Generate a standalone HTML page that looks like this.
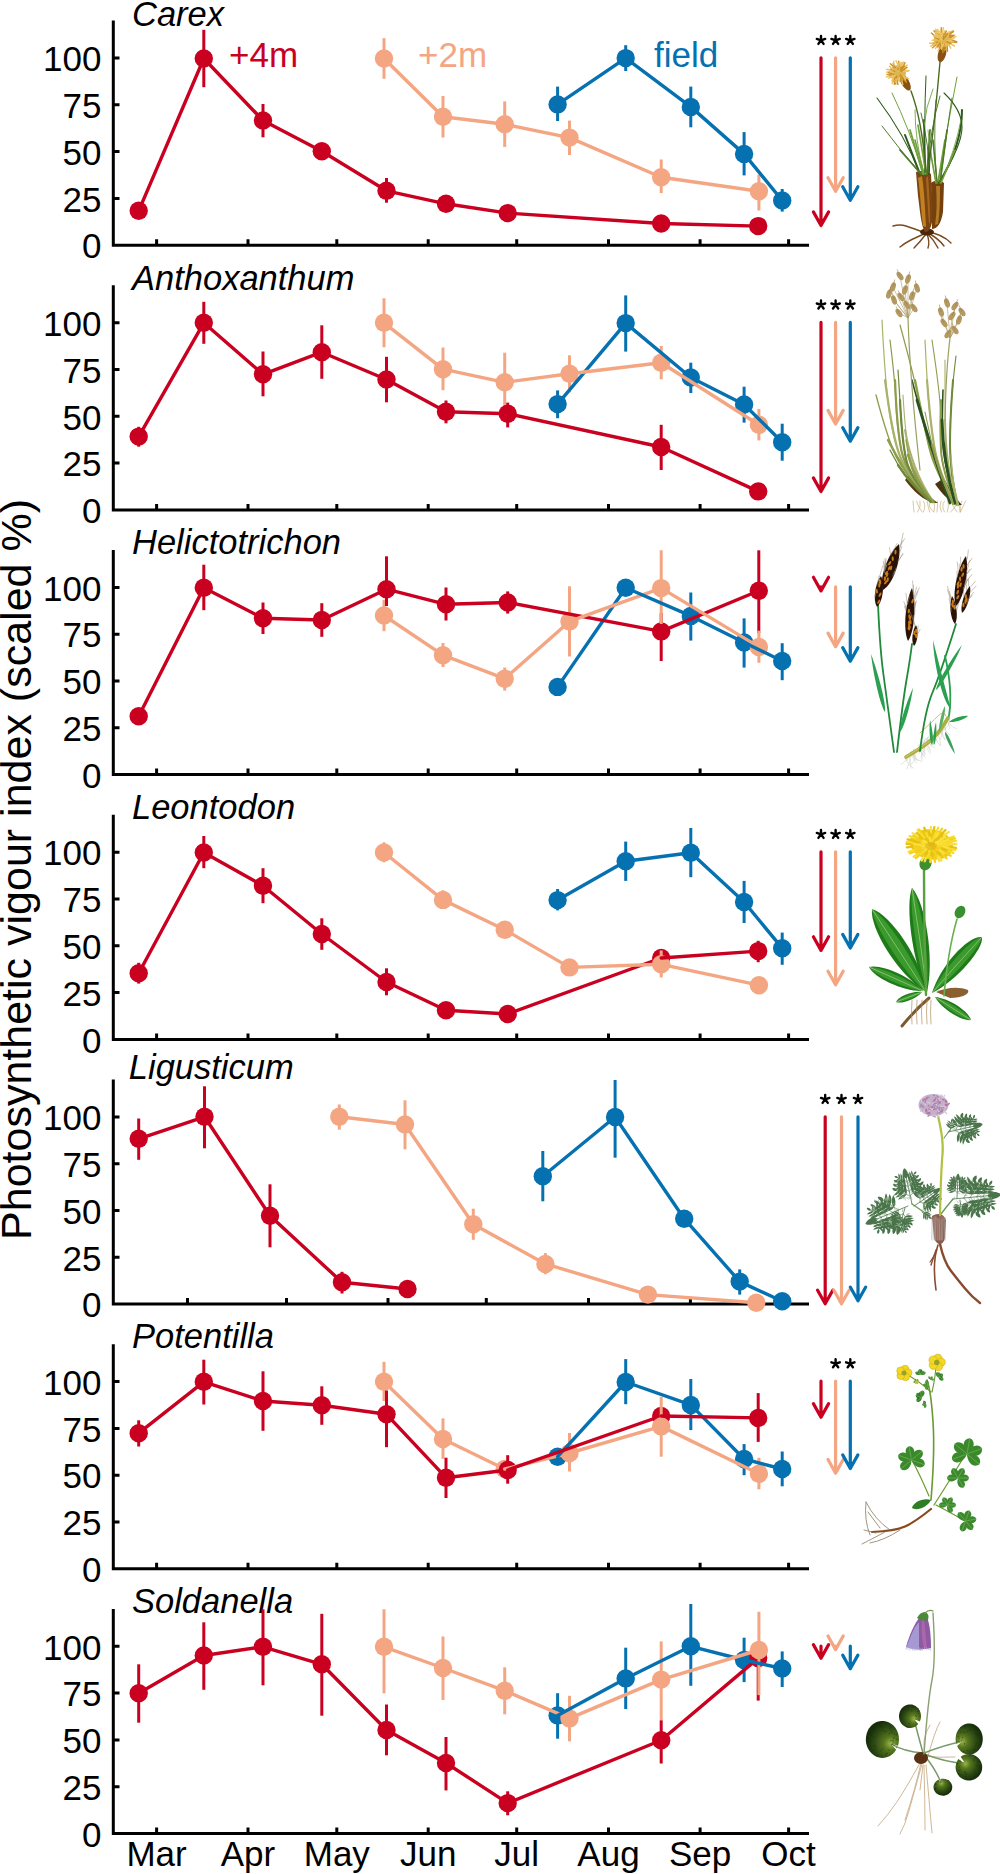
<!DOCTYPE html>
<html><head><meta charset="utf-8"><style>
html,body{margin:0;padding:0;background:#fff;}
svg{display:block;}
text{font-family:"Liberation Sans",sans-serif;}
.tl{font-size:35px;}
.tt{font-size:34.5px;font-style:italic;}
.yl{font-size:43px;}
</style></head><body>
<svg width="1000" height="1874" viewBox="0 0 1000 1874">
<rect width="1000" height="1874" fill="#fff"/>
<defs><radialGradient id="sg1" gradientUnits="userSpaceOnUse" cx="890.6" cy="1743.6" r="23.1"><stop offset="0" stop-color="#9ab448"/><stop offset="0.3" stop-color="#56761e"/><stop offset="0.7" stop-color="#2e4a14"/><stop offset="1" stop-color="#18300a"/></radialGradient><radialGradient id="sg2" gradientUnits="userSpaceOnUse" cx="914" cy="1718.9" r="14.8"><stop offset="0" stop-color="#9ab448"/><stop offset="0.3" stop-color="#56761e"/><stop offset="0.7" stop-color="#2e4a14"/><stop offset="1" stop-color="#18300a"/></radialGradient><radialGradient id="sg3" gradientUnits="userSpaceOnUse" cx="962" cy="1741.6" r="19.5"><stop offset="0" stop-color="#9ab448"/><stop offset="0.3" stop-color="#56761e"/><stop offset="0.7" stop-color="#2e4a14"/><stop offset="1" stop-color="#18300a"/></radialGradient><radialGradient id="sg4" gradientUnits="userSpaceOnUse" cx="965.3" cy="1763.7" r="16.6"><stop offset="0" stop-color="#9ab448"/><stop offset="0.3" stop-color="#56761e"/><stop offset="0.7" stop-color="#2e4a14"/><stop offset="1" stop-color="#18300a"/></radialGradient><radialGradient id="sg5" gradientUnits="userSpaceOnUse" cx="941.3" cy="1783.2" r="11.8"><stop offset="0" stop-color="#9ab448"/><stop offset="0.3" stop-color="#56761e"/><stop offset="0.7" stop-color="#2e4a14"/><stop offset="1" stop-color="#18300a"/></radialGradient></defs>
<path d="M926,233Q912,228 906,226Q900,224 893,226" fill="none" stroke="#7a4a1e" stroke-width="1.4" stroke-linecap="round"/>
<path d="M926,233Q915,238 910,240.5Q905,243 900,247" fill="none" stroke="#7a4a1e" stroke-width="1.4" stroke-linecap="round"/>
<path d="M926,234Q920,242 914,248" fill="none" stroke="#7a4a1e" stroke-width="1.4" stroke-linecap="round"/>
<path d="M927,234Q930,242 928,248" fill="none" stroke="#7a4a1e" stroke-width="1.4" stroke-linecap="round"/>
<path d="M928,233Q938,238 944,246" fill="none" stroke="#7a4a1e" stroke-width="1.4" stroke-linecap="round"/>
<path d="M928,232Q942,234 951,243" fill="none" stroke="#7a4a1e" stroke-width="1.4" stroke-linecap="round"/>
<path d="M927,233Q934,240 938,248" fill="none" stroke="#7a4a1e" stroke-width="1.4" stroke-linecap="round"/>
<ellipse cx="927" cy="232" rx="7" ry="3.5" fill="#4a260a"/>
<path d="M916,172 C920,170 927,171 931,174 L933,214 C932,226 930,232 925,232 C921,226 920,210 918,196 Z" fill="#7c4412"/>
<path d="M918,178 C920,190 921,210 923,226 L926,227 C925,205 924,190 922,176 Z" fill="#c88a24" opacity="0.9"/>
<path d="M926,178 C927,195 928,210 929,224 L930,222 C930,205 929,190 928,176 Z" fill="#b07020" opacity="0.8"/>
<path d="M931,183 C934,180 941,180 944,183 L943,212 C941,224 937,229 932,229 L932,200 Z" fill="#74400e"/>
<path d="M936,186 C937,200 937,212 935,225 L938,224 C940,212 940,198 940,186 Z" fill="#c08428" opacity="0.85"/>
<path d="M920,174Q905,135 877,98" fill="none" stroke="#2c5a1a" stroke-width="1.1" stroke-linecap="round"/>
<path d="M920,174L905,135" fill="none" stroke="#2c5a1a" stroke-width="2.0" stroke-linecap="round"/>
<path d="M921,174Q900,150 882,126" fill="none" stroke="#4f7a26" stroke-width="0.9900000000000001" stroke-linecap="round"/>
<path d="M921,174L900,150" fill="none" stroke="#4f7a26" stroke-width="1.8" stroke-linecap="round"/>
<path d="M923,174Q910,130 892,93" fill="none" stroke="#72a03c" stroke-width="0.9900000000000001" stroke-linecap="round"/>
<path d="M923,174L910,130" fill="none" stroke="#72a03c" stroke-width="1.8" stroke-linecap="round"/>
<path d="M925,174Q924,120 926,76" fill="none" stroke="#2c5a1a" stroke-width="0.9900000000000001" stroke-linecap="round"/>
<path d="M925,174L924,120" fill="none" stroke="#2c5a1a" stroke-width="1.8" stroke-linecap="round"/>
<path d="M926,174Q918,125 933,89" fill="none" stroke="#72a03c" stroke-width="0.8800000000000001" stroke-linecap="round"/>
<path d="M926,174L918,125" fill="none" stroke="#72a03c" stroke-width="1.6" stroke-linecap="round"/>
<path d="M927,174Q930,130 940,96" fill="none" stroke="#4f7a26" stroke-width="0.9900000000000001" stroke-linecap="round"/>
<path d="M927,174L930,130" fill="none" stroke="#4f7a26" stroke-width="1.8" stroke-linecap="round"/>
<path d="M929,174Q930,150 921,113" fill="none" stroke="#2c5a1a" stroke-width="0.8250000000000001" stroke-linecap="round"/>
<path d="M929,174L930,150" fill="none" stroke="#2c5a1a" stroke-width="1.5" stroke-linecap="round"/>
<path d="M924,174Q915,140 915,110" fill="none" stroke="#72a03c" stroke-width="0.8800000000000001" stroke-linecap="round"/>
<path d="M924,174L915,140" fill="none" stroke="#72a03c" stroke-width="1.6" stroke-linecap="round"/>
<path d="M938,183Q945,140 957,77" fill="none" stroke="#72a03c" stroke-width="0.9900000000000001" stroke-linecap="round"/>
<path d="M938,183L945,140" fill="none" stroke="#72a03c" stroke-width="1.8" stroke-linecap="round"/>
<path d="M939,183Q962,145 962,127.5Q962,110 944,93" fill="none" stroke="#2c5a1a" stroke-width="1.1" stroke-linecap="round"/>
<path d="M939,183Q962,145 962,110" fill="none" stroke="#2c5a1a" stroke-width="2.0" stroke-linecap="round"/>
<path d="M940,183Q947,130 952,98" fill="none" stroke="#4f7a26" stroke-width="0.935" stroke-linecap="round"/>
<path d="M940,183L947,130" fill="none" stroke="#4f7a26" stroke-width="1.7" stroke-linecap="round"/>
<path d="M941,183Q955,150 961,120" fill="none" stroke="#72a03c" stroke-width="0.8250000000000001" stroke-linecap="round"/>
<path d="M941,183L955,150" fill="none" stroke="#72a03c" stroke-width="1.5" stroke-linecap="round"/>
<path d="M937,183Q933,140 936,100" fill="none" stroke="#4f7a26" stroke-width="0.8800000000000001" stroke-linecap="round"/>
<path d="M937,183L933,140" fill="none" stroke="#4f7a26" stroke-width="1.6" stroke-linecap="round"/>
<path d="M936,183Q930,150 928,130" fill="none" stroke="#72a03c" stroke-width="0.8250000000000001" stroke-linecap="round"/>
<path d="M936,183L930,150" fill="none" stroke="#72a03c" stroke-width="1.5" stroke-linecap="round"/>
<path d="M928,172Q935,120 940,62" fill="none" stroke="#4a6a22" stroke-width="1.4" stroke-linecap="round"/>
<path d="M926,172Q922,120 911,91" fill="none" stroke="#4a6a22" stroke-width="1.4" stroke-linecap="round"/>
<ellipse cx="942" cy="54" rx="4" ry="8.5" fill="#8a5212" transform="rotate(15 942 54)"/>
<ellipse cx="905" cy="82" rx="4" ry="9.5" fill="#8a5212" transform="rotate(-30 905 82)"/>
<ellipse cx="943" cy="40" rx="9.5" ry="7.5" fill="#e0b450"/>
<ellipse cx="898" cy="73" rx="8" ry="8" fill="#e0b450"/>
<path d="M943.6,46.3l0.9,4.4" stroke="#c8902c" stroke-width="1.4" stroke-linecap="round"/>
<path d="M941.2,38.5l-4.3,-1.3" stroke="#c8902c" stroke-width="1.4" stroke-linecap="round"/>
<path d="M942.7,44.1l-2.4,3.8" stroke="#ecc462" stroke-width="1.4" stroke-linecap="round"/>
<path d="M946.6,35l2.8,-3.5" stroke="#ecc462" stroke-width="1.4" stroke-linecap="round"/>
<path d="M936.8,34.1l-2.9,-3.4" stroke="#c8902c" stroke-width="1.4" stroke-linecap="round"/>
<path d="M941.8,38.1l-1.1,-4.4" stroke="#ecc462" stroke-width="1.4" stroke-linecap="round"/>
<path d="M942.4,41.4l-2.9,3.5" stroke="#ecc462" stroke-width="1.4" stroke-linecap="round"/>
<path d="M941.2,32.2l0.1,-4.5" stroke="#c8902c" stroke-width="1.4" stroke-linecap="round"/>
<path d="M935.9,44.7l-3.4,3" stroke="#c8902c" stroke-width="1.4" stroke-linecap="round"/>
<path d="M945.3,38.2l1.9,-4.1" stroke="#ecc462" stroke-width="1.4" stroke-linecap="round"/>
<path d="M949.4,38.8l4.5,-0.4" stroke="#ecc462" stroke-width="1.4" stroke-linecap="round"/>
<path d="M936.8,39.8l-4.5,0.5" stroke="#ecc462" stroke-width="1.4" stroke-linecap="round"/>
<path d="M934.8,35.9l-3.4,-2.9" stroke="#c8902c" stroke-width="1.4" stroke-linecap="round"/>
<path d="M949.2,33.4l3.4,-3" stroke="#ecc462" stroke-width="1.4" stroke-linecap="round"/>
<path d="M949.3,33.6l4,-2" stroke="#ecc462" stroke-width="1.4" stroke-linecap="round"/>
<path d="M942,36.2l0.5,-4.5" stroke="#ecc462" stroke-width="1.4" stroke-linecap="round"/>
<path d="M942.5,42.1l-2.4,3.8" stroke="#c8902c" stroke-width="1.4" stroke-linecap="round"/>
<path d="M950.6,44l4,2" stroke="#ecc462" stroke-width="1.4" stroke-linecap="round"/>
<path d="M940.6,47.2l-2.7,3.6" stroke="#ecc462" stroke-width="1.4" stroke-linecap="round"/>
<path d="M941.4,38.8l-2.7,-3.6" stroke="#ecc462" stroke-width="1.4" stroke-linecap="round"/>
<path d="M950.3,34.3l3.3,-3" stroke="#c8902c" stroke-width="1.4" stroke-linecap="round"/>
<path d="M942,42.2l-2.1,4" stroke="#ecc462" stroke-width="1.4" stroke-linecap="round"/>
<path d="M945.1,45.1l1,4.4" stroke="#ecc462" stroke-width="1.4" stroke-linecap="round"/>
<path d="M952,42.1l4.5,0.4" stroke="#c8902c" stroke-width="1.4" stroke-linecap="round"/>
<path d="M947.9,36.8l3.5,-2.9" stroke="#ecc462" stroke-width="1.4" stroke-linecap="round"/>
<path d="M938.2,34.8l-2.6,-3.7" stroke="#c8902c" stroke-width="1.4" stroke-linecap="round"/>
<path d="M949.6,37.8l4.1,-1.9" stroke="#c8902c" stroke-width="1.4" stroke-linecap="round"/>
<path d="M943.4,44.6l-1.8,4.1" stroke="#ecc462" stroke-width="1.4" stroke-linecap="round"/>
<path d="M942,39.7l-4.4,-1" stroke="#ecc462" stroke-width="1.4" stroke-linecap="round"/>
<path d="M950.8,40.8l4.4,1.1" stroke="#ecc462" stroke-width="1.4" stroke-linecap="round"/>
<path d="M938.2,35.8l-2.5,-3.7" stroke="#ecc462" stroke-width="1.4" stroke-linecap="round"/>
<path d="M940.7,33l-3.1,-3.3" stroke="#ecc462" stroke-width="1.4" stroke-linecap="round"/>
<path d="M938.6,32.5l-2.9,-3.4" stroke="#ecc462" stroke-width="1.4" stroke-linecap="round"/>
<path d="M938.3,37.4l-4.1,-1.9" stroke="#ecc462" stroke-width="1.4" stroke-linecap="round"/>
<path d="M937.7,44.8l-2.3,3.8" stroke="#ecc462" stroke-width="1.4" stroke-linecap="round"/>
<path d="M943.2,38.6l0.9,-4.4" stroke="#c8902c" stroke-width="1.4" stroke-linecap="round"/>
<path d="M941.3,43.7l-2.8,3.5" stroke="#ecc462" stroke-width="1.4" stroke-linecap="round"/>
<path d="M945.5,45.2l0.9,4.4" stroke="#ecc462" stroke-width="1.4" stroke-linecap="round"/>
<path d="M940.5,44.4l-3.2,3.2" stroke="#ecc462" stroke-width="1.4" stroke-linecap="round"/>
<path d="M945.5,37.2l2.2,-3.9" stroke="#c8902c" stroke-width="1.4" stroke-linecap="round"/>
<path d="M948,36.2l2.4,-3.8" stroke="#ecc462" stroke-width="1.4" stroke-linecap="round"/>
<path d="M938.7,39.3l-4,-2.1" stroke="#c8902c" stroke-width="1.4" stroke-linecap="round"/>
<path d="M945.1,44.1l0.5,4.5" stroke="#c8902c" stroke-width="1.4" stroke-linecap="round"/>
<path d="M945,35.3l-0.1,-4.5" stroke="#ecc462" stroke-width="1.4" stroke-linecap="round"/>
<path d="M944.4,35.7l0.5,-4.5" stroke="#ecc462" stroke-width="1.4" stroke-linecap="round"/>
<path d="M937.4,42.6l-4.5,0.4" stroke="#ecc462" stroke-width="1.4" stroke-linecap="round"/>
<path d="M952.7,40.2l4.1,1.8" stroke="#c8902c" stroke-width="1.4" stroke-linecap="round"/>
<path d="M934.1,43.3l-4.5,-0.1" stroke="#ecc462" stroke-width="1.4" stroke-linecap="round"/>
<path d="M942.7,32.2l0.6,-4.5" stroke="#ecc462" stroke-width="1.4" stroke-linecap="round"/>
<path d="M941.6,44.8l0.1,4.5" stroke="#ecc462" stroke-width="1.4" stroke-linecap="round"/>
<path d="M938.5,37.6l-2.9,-3.4" stroke="#ecc462" stroke-width="1.4" stroke-linecap="round"/>
<path d="M949.8,36l4.4,-0.8" stroke="#c8902c" stroke-width="1.4" stroke-linecap="round"/>
<path d="M949.1,36.2l2,-4" stroke="#c8902c" stroke-width="1.4" stroke-linecap="round"/>
<path d="M945.6,44.1l1.5,4.3" stroke="#ecc462" stroke-width="1.4" stroke-linecap="round"/>
<path d="M934.7,44.2l-4.1,1.9" stroke="#ecc462" stroke-width="1.4" stroke-linecap="round"/>
<path d="M942.9,47.9l0,4.5" stroke="#c8902c" stroke-width="1.4" stroke-linecap="round"/>
<path d="M940.3,43l-2.8,3.5" stroke="#c8902c" stroke-width="1.4" stroke-linecap="round"/>
<path d="M947.2,46.7l0.3,4.5" stroke="#c8902c" stroke-width="1.4" stroke-linecap="round"/>
<path d="M943.4,39.3l2.5,-3.7" stroke="#c8902c" stroke-width="1.4" stroke-linecap="round"/>
<path d="M948,41.4l4.5,0.4" stroke="#ecc462" stroke-width="1.4" stroke-linecap="round"/>
<path d="M936.9,42.7l-4.4,0.9" stroke="#ecc462" stroke-width="1.4" stroke-linecap="round"/>
<path d="M946.4,41l4.5,-0.1" stroke="#ecc462" stroke-width="1.4" stroke-linecap="round"/>
<path d="M952.1,38.8l3.8,-2.4" stroke="#ecc462" stroke-width="1.4" stroke-linecap="round"/>
<path d="M940.7,44.4l-1.2,4.3" stroke="#c8902c" stroke-width="1.4" stroke-linecap="round"/>
<path d="M937.9,37.4l-4.4,-1" stroke="#ecc462" stroke-width="1.4" stroke-linecap="round"/>
<path d="M948.3,44.4l2.5,3.8" stroke="#ecc462" stroke-width="1.4" stroke-linecap="round"/>
<path d="M946.7,41.7l4.2,1.6" stroke="#c8902c" stroke-width="1.4" stroke-linecap="round"/>
<path d="M944.3,34.9l2.2,-3.9" stroke="#c8902c" stroke-width="1.4" stroke-linecap="round"/>
<path d="M937.5,42.2l-4.1,1.9" stroke="#c8902c" stroke-width="1.4" stroke-linecap="round"/>
<path d="M935.7,43.4l-3.9,2.3" stroke="#ecc462" stroke-width="1.4" stroke-linecap="round"/>
<path d="M891.1,71.4l-4.4,0.9" stroke="#ecc462" stroke-width="1.4" stroke-linecap="round"/>
<path d="M890.9,76.6l-4.5,0.1" stroke="#ecc462" stroke-width="1.4" stroke-linecap="round"/>
<path d="M904.1,68.5l2.9,-3.5" stroke="#ecc462" stroke-width="1.4" stroke-linecap="round"/>
<path d="M903.5,78.4l2.7,3.6" stroke="#c8902c" stroke-width="1.4" stroke-linecap="round"/>
<path d="M899.8,66.3l2.2,-3.9" stroke="#ecc462" stroke-width="1.4" stroke-linecap="round"/>
<path d="M903.2,76.9l4.4,0.7" stroke="#ecc462" stroke-width="1.4" stroke-linecap="round"/>
<path d="M898.3,71.2l-1.1,-4.4" stroke="#ecc462" stroke-width="1.4" stroke-linecap="round"/>
<path d="M900.6,70.5l1.5,-4.2" stroke="#c8902c" stroke-width="1.4" stroke-linecap="round"/>
<path d="M903.6,78.4l2.7,3.6" stroke="#c8902c" stroke-width="1.4" stroke-linecap="round"/>
<path d="M904.2,71.1l4.5,-0" stroke="#ecc462" stroke-width="1.4" stroke-linecap="round"/>
<path d="M898.7,67l1.4,-4.3" stroke="#ecc462" stroke-width="1.4" stroke-linecap="round"/>
<path d="M897.9,64.8l-1.9,-4.1" stroke="#ecc462" stroke-width="1.4" stroke-linecap="round"/>
<path d="M890.9,70l-4.5,-0.6" stroke="#ecc462" stroke-width="1.4" stroke-linecap="round"/>
<path d="M898,79.7l-1.1,4.4" stroke="#ecc462" stroke-width="1.4" stroke-linecap="round"/>
<path d="M894.4,77l-2.5,3.7" stroke="#ecc462" stroke-width="1.4" stroke-linecap="round"/>
<path d="M903.2,76l2.4,3.8" stroke="#ecc462" stroke-width="1.4" stroke-linecap="round"/>
<path d="M897.9,69.6l0.8,-4.4" stroke="#c8902c" stroke-width="1.4" stroke-linecap="round"/>
<path d="M895.2,67.6l-2.1,-4" stroke="#c8902c" stroke-width="1.4" stroke-linecap="round"/>
<path d="M900.6,71l2.2,-3.9" stroke="#c8902c" stroke-width="1.4" stroke-linecap="round"/>
<path d="M903.3,69.9l3.8,-2.5" stroke="#c8902c" stroke-width="1.4" stroke-linecap="round"/>
<path d="M899.7,77l2.9,3.4" stroke="#ecc462" stroke-width="1.4" stroke-linecap="round"/>
<path d="M896.4,76.8l-2.5,3.7" stroke="#c8902c" stroke-width="1.4" stroke-linecap="round"/>
<path d="M896,79.8l-0.9,4.4" stroke="#c8902c" stroke-width="1.4" stroke-linecap="round"/>
<path d="M894.2,70.8l-4.4,-1.1" stroke="#ecc462" stroke-width="1.4" stroke-linecap="round"/>
<path d="M892.8,73.7l-4,2" stroke="#ecc462" stroke-width="1.4" stroke-linecap="round"/>
<path d="M894.7,79.7l-0.4,4.5" stroke="#c8902c" stroke-width="1.4" stroke-linecap="round"/>
<path d="M891.5,73.8l-4.4,0.7" stroke="#c8902c" stroke-width="1.4" stroke-linecap="round"/>
<path d="M900.8,67.3l1.9,-4.1" stroke="#c8902c" stroke-width="1.4" stroke-linecap="round"/>
<path d="M901.3,68.8l3.5,-2.8" stroke="#c8902c" stroke-width="1.4" stroke-linecap="round"/>
<path d="M894,73.8l-4,2" stroke="#c8902c" stroke-width="1.4" stroke-linecap="round"/>
<path d="M894.2,65.6l-0.5,-4.5" stroke="#ecc462" stroke-width="1.4" stroke-linecap="round"/>
<path d="M899.6,77l2.9,3.5" stroke="#c8902c" stroke-width="1.4" stroke-linecap="round"/>
<path d="M903.1,66.7l1.9,-4.1" stroke="#c8902c" stroke-width="1.4" stroke-linecap="round"/>
<path d="M895.9,78.1l-2.6,3.6" stroke="#ecc462" stroke-width="1.4" stroke-linecap="round"/>
<path d="M904.5,77.3l4.2,1.6" stroke="#ecc462" stroke-width="1.4" stroke-linecap="round"/>
<path d="M891.9,69.6l-4.5,-0.1" stroke="#ecc462" stroke-width="1.4" stroke-linecap="round"/>
<path d="M892.5,75.3l-3.5,2.9" stroke="#ecc462" stroke-width="1.4" stroke-linecap="round"/>
<path d="M903.1,71.5l4.4,-1.1" stroke="#ecc462" stroke-width="1.4" stroke-linecap="round"/>
<path d="M896.9,79.9l1,4.4" stroke="#c8902c" stroke-width="1.4" stroke-linecap="round"/>
<path d="M900.2,71.6l4.5,-0.6" stroke="#ecc462" stroke-width="1.4" stroke-linecap="round"/>
<path d="M899,65.7l-0.3,-4.5" stroke="#c8902c" stroke-width="1.4" stroke-linecap="round"/>
<path d="M893.7,66.7l-3.3,-3" stroke="#c8902c" stroke-width="1.4" stroke-linecap="round"/>
<path d="M904.8,71.3l4.4,-0.9" stroke="#ecc462" stroke-width="1.4" stroke-linecap="round"/>
<path d="M893,73.2l-4.4,-0.8" stroke="#c8902c" stroke-width="1.4" stroke-linecap="round"/>
<path d="M894.7,71.5l-3.8,-2.4" stroke="#c8902c" stroke-width="1.4" stroke-linecap="round"/>
<path d="M901.5,80.2l1.3,4.3" stroke="#ecc462" stroke-width="1.4" stroke-linecap="round"/>
<path d="M900.9,71.7l3.7,-2.5" stroke="#c8902c" stroke-width="1.4" stroke-linecap="round"/>
<path d="M892.8,69.4l-3.3,-3.1" stroke="#ecc462" stroke-width="1.4" stroke-linecap="round"/>
<path d="M896.6,76.3l0.2,4.5" stroke="#c8902c" stroke-width="1.4" stroke-linecap="round"/>
<path d="M898.2,66.7l1.2,-4.3" stroke="#ecc462" stroke-width="1.4" stroke-linecap="round"/>
<path d="M897.5,78.2l-2,4" stroke="#ecc462" stroke-width="1.4" stroke-linecap="round"/>
<path d="M893.8,72.9l-4.3,-1.3" stroke="#ecc462" stroke-width="1.4" stroke-linecap="round"/>
<path d="M895.3,77.7l-2.4,3.8" stroke="#c8902c" stroke-width="1.4" stroke-linecap="round"/>
<path d="M893.3,79.2l-1.2,4.4" stroke="#ecc462" stroke-width="1.4" stroke-linecap="round"/>
<path d="M900.3,74.7l2.8,3.5" stroke="#c8902c" stroke-width="1.4" stroke-linecap="round"/>
<path d="M899.5,76.4l2.1,4" stroke="#c8902c" stroke-width="1.4" stroke-linecap="round"/>
<path d="M901,66.3l2.2,-3.9" stroke="#ecc462" stroke-width="1.4" stroke-linecap="round"/>
<path d="M895,75.2l-3.7,2.6" stroke="#ecc462" stroke-width="1.4" stroke-linecap="round"/>
<path d="M899.3,77.1l0.1,4.5" stroke="#ecc462" stroke-width="1.4" stroke-linecap="round"/>
<path d="M900.6,65.4l3.2,-3.2" stroke="#ecc462" stroke-width="1.4" stroke-linecap="round"/>
<path d="M913,501Q913.4,506 914,512" fill="none" stroke="#c8b080" stroke-width="0.7" stroke-linecap="round"/>
<path d="M916.5,501Q917.6,506 922.2,512" fill="none" stroke="#c8b080" stroke-width="0.7" stroke-linecap="round"/>
<path d="M920,501Q921.5,506 917.6,512" fill="none" stroke="#c8b080" stroke-width="0.7" stroke-linecap="round"/>
<path d="M923.5,501Q926.4,506 923.3,512" fill="none" stroke="#c8b080" stroke-width="0.7" stroke-linecap="round"/>
<path d="M927,501Q927.8,506 929.7,512" fill="none" stroke="#c8b080" stroke-width="0.7" stroke-linecap="round"/>
<path d="M930.5,501Q926.5,506 933.7,512" fill="none" stroke="#c8b080" stroke-width="0.7" stroke-linecap="round"/>
<path d="M934,501Q935.3,506 933.9,512" fill="none" stroke="#c8b080" stroke-width="0.7" stroke-linecap="round"/>
<path d="M937.5,501Q937.7,506 937,512" fill="none" stroke="#c8b080" stroke-width="0.7" stroke-linecap="round"/>
<path d="M941,501Q938.5,506 941.4,512" fill="none" stroke="#c8b080" stroke-width="0.7" stroke-linecap="round"/>
<path d="M944.5,501Q940.8,506 944.5,512" fill="none" stroke="#c8b080" stroke-width="0.7" stroke-linecap="round"/>
<path d="M948,501Q949.2,506 947.3,512" fill="none" stroke="#c8b080" stroke-width="0.7" stroke-linecap="round"/>
<path d="M951.5,501Q952,506 957,512" fill="none" stroke="#c8b080" stroke-width="0.7" stroke-linecap="round"/>
<path d="M955,501Q958.1,506 950.6,512" fill="none" stroke="#c8b080" stroke-width="0.7" stroke-linecap="round"/>
<path d="M958.5,501Q960.8,506 960,512" fill="none" stroke="#c8b080" stroke-width="0.7" stroke-linecap="round"/>
<path d="M962,501Q958.4,506 960.3,512" fill="none" stroke="#c8b080" stroke-width="0.7" stroke-linecap="round"/>
<path d="M965.5,501Q963.4,506 960.4,512" fill="none" stroke="#c8b080" stroke-width="0.7" stroke-linecap="round"/>
<path d="M905,480 C914,492 922,499 934,503 L938,503 C928,496 918,486 910,474 Z" fill="#5a3c12"/>
<path d="M932,502Q905,475 896.5,457.5Q888,440 876,395" fill="none" stroke="#8e9c4c" stroke-width="1.32" stroke-linecap="round"/>
<path d="M932,502Q905,475 888,440" fill="none" stroke="#8e9c4c" stroke-width="2.4" stroke-linecap="round"/>
<path d="M933,502Q908,475 900.5,457.5Q893,440 889,410Q885,380 882,320" fill="none" stroke="#aab26a" stroke-width="1.2100000000000002" stroke-linecap="round"/>
<path d="M933,502Q908,475 900.5,457.5Q893,440 885,380" fill="none" stroke="#aab26a" stroke-width="2.2" stroke-linecap="round"/>
<path d="M931,501Q906,472 901.5,451Q897,430 896,405Q895,380 890,340" fill="none" stroke="#8e9c4c" stroke-width="1.2100000000000002" stroke-linecap="round"/>
<path d="M931,501Q906,472 901.5,451Q897,430 895,380" fill="none" stroke="#8e9c4c" stroke-width="2.2" stroke-linecap="round"/>
<path d="M934,502Q910,478 906,459Q902,440 901,420Q900,400 898,370" fill="none" stroke="#6e8a3a" stroke-width="1.2100000000000002" stroke-linecap="round"/>
<path d="M934,502Q910,478 906,459Q902,440 900,400" fill="none" stroke="#6e8a3a" stroke-width="2.2" stroke-linecap="round"/>
<path d="M932,500Q912,470 908.5,450Q905,430 903,395" fill="none" stroke="#aab26a" stroke-width="1.1" stroke-linecap="round"/>
<path d="M932,500Q912,470 905,430" fill="none" stroke="#aab26a" stroke-width="2.0" stroke-linecap="round"/>
<path d="M933,502Q915,480 911.5,467.5Q908,455 906,440" fill="none" stroke="#8e9c4c" stroke-width="1.32" stroke-linecap="round"/>
<path d="M933,502Q915,480 908,455" fill="none" stroke="#8e9c4c" stroke-width="2.4" stroke-linecap="round"/>
<path d="M931,502Q909,482 903.5,473.5Q898,465 890,450" fill="none" stroke="#6e8a3a" stroke-width="1.32" stroke-linecap="round"/>
<path d="M931,502Q909,482 898,465" fill="none" stroke="#6e8a3a" stroke-width="2.4" stroke-linecap="round"/>
<path d="M935,484 C942,494 948,500 958,505 L962,505 C955,498 949,488 944,478 Z" fill="#4a3410"/>
<path d="M955,504Q935,470 930,450Q925,430 920,405Q915,380 900,325" fill="none" stroke="#8e9c4c" stroke-width="1.2100000000000002" stroke-linecap="round"/>
<path d="M955,504Q935,470 930,450Q925,430 915,380" fill="none" stroke="#8e9c4c" stroke-width="2.2" stroke-linecap="round"/>
<path d="M954,503Q938,470 934,445Q930,420 928.5,400Q927,380 925,340" fill="none" stroke="#aab26a" stroke-width="1.2100000000000002" stroke-linecap="round"/>
<path d="M954,503Q938,470 934,445Q930,420 927,380" fill="none" stroke="#aab26a" stroke-width="2.2" stroke-linecap="round"/>
<path d="M956,504Q942,470 941,450Q940,430 940.5,415Q941,400 932,340" fill="none" stroke="#8e9c4c" stroke-width="1.1" stroke-linecap="round"/>
<path d="M956,504Q942,470 941,450Q940,430 941,400" fill="none" stroke="#8e9c4c" stroke-width="2.0" stroke-linecap="round"/>
<path d="M957,505Q946,470 945.5,445Q945,420 945,360" fill="none" stroke="#aab26a" stroke-width="1.1" stroke-linecap="round"/>
<path d="M957,505Q946,470 945,420" fill="none" stroke="#aab26a" stroke-width="2.0" stroke-linecap="round"/>
<path d="M957,504Q950,470 950,445Q950,420 951.5,400Q953,380 956,356" fill="none" stroke="#6e8a3a" stroke-width="1.1" stroke-linecap="round"/>
<path d="M957,504Q950,470 950,445Q950,420 953,380" fill="none" stroke="#6e8a3a" stroke-width="2.0" stroke-linecap="round"/>
<path d="M950,503Q935,460 926,430Q917,400 912,380" fill="none" stroke="#2a5220" stroke-width="1.54" stroke-linecap="round"/>
<path d="M950,503Q935,460 917,400" fill="none" stroke="#2a5220" stroke-width="2.8" stroke-linecap="round"/>
<path d="M955,503Q943,460 942.5,440Q942,420 943,390" fill="none" stroke="#2a5220" stroke-width="1.54" stroke-linecap="round"/>
<path d="M955,503Q943,460 942,420" fill="none" stroke="#2a5220" stroke-width="2.8" stroke-linecap="round"/>
<path d="M953,504Q940,475 936,460Q932,445 925,412" fill="none" stroke="#8e9c4c" stroke-width="1.1" stroke-linecap="round"/>
<path d="M953,504Q940,475 932,445" fill="none" stroke="#8e9c4c" stroke-width="2.0" stroke-linecap="round"/>
<path d="M958,505Q952,480 951,455" fill="none" stroke="#aab26a" stroke-width="1.32" stroke-linecap="round"/>
<path d="M958,505L952,480" fill="none" stroke="#aab26a" stroke-width="2.4" stroke-linecap="round"/>
<path d="M920,470Q910,380 908,318" fill="none" stroke="#9aa060" stroke-width="1.2" stroke-linecap="round"/>
<path d="M945,420Q946,370 950,338" fill="none" stroke="#9aa060" stroke-width="1.2" stroke-linecap="round"/>
<path d="M908,318 L900,276" stroke="#a89a60" stroke-width="0.6"/>
<ellipse cx="900" cy="276" rx="2.6" ry="4.8" fill="#b49a62" transform="rotate(-35 900 276)"/>
<path d="M900,276l-2.9,-6.6" stroke="#9a8050" stroke-width="0.6"/>
<path d="M908,318 L908,279" stroke="#a89a60" stroke-width="0.6"/>
<ellipse cx="908" cy="279" rx="2.6" ry="4.8" fill="#b49a62" transform="rotate(20 908 279)"/>
<path d="M908,279l1.7,-7.5" stroke="#9a8050" stroke-width="0.6"/>
<path d="M908,318 L893,287" stroke="#a89a60" stroke-width="0.6"/>
<ellipse cx="893" cy="287" rx="2.6" ry="4.8" fill="#b49a62" transform="rotate(20 893 287)"/>
<path d="M893,287l1.7,-7.5" stroke="#9a8050" stroke-width="0.6"/>
<path d="M908,318 L905,290" stroke="#a89a60" stroke-width="0.6"/>
<ellipse cx="905" cy="290" rx="2.6" ry="4.8" fill="#b49a62" transform="rotate(20 905 290)"/>
<path d="M905,290l1.7,-7.5" stroke="#9a8050" stroke-width="0.6"/>
<path d="M908,318 L912,296" stroke="#a89a60" stroke-width="0.6"/>
<ellipse cx="912" cy="296" rx="2.6" ry="4.8" fill="#b49a62" transform="rotate(20 912 296)"/>
<path d="M912,296l1.7,-7.5" stroke="#9a8050" stroke-width="0.6"/>
<path d="M908,318 L894,300" stroke="#a89a60" stroke-width="0.6"/>
<ellipse cx="894" cy="300" rx="2.6" ry="4.8" fill="#b49a62" transform="rotate(-20 894 300)"/>
<path d="M894,300l-1.7,-7.5" stroke="#9a8050" stroke-width="0.6"/>
<path d="M908,318 L907,305" stroke="#a89a60" stroke-width="0.6"/>
<ellipse cx="907" cy="305" rx="2.6" ry="4.8" fill="#b49a62" transform="rotate(-35 907 305)"/>
<path d="M907,305l-2.9,-6.6" stroke="#9a8050" stroke-width="0.6"/>
<path d="M908,318 L899,313" stroke="#a89a60" stroke-width="0.6"/>
<ellipse cx="899" cy="313" rx="2.6" ry="4.8" fill="#b49a62" transform="rotate(-35 899 313)"/>
<path d="M899,313l-2.9,-6.6" stroke="#9a8050" stroke-width="0.6"/>
<path d="M908,318 L914,308" stroke="#a89a60" stroke-width="0.6"/>
<ellipse cx="914" cy="308" rx="2.6" ry="4.8" fill="#b49a62" transform="rotate(-35 914 308)"/>
<path d="M914,308l-2.9,-6.6" stroke="#9a8050" stroke-width="0.6"/>
<path d="M908,318 L889,294" stroke="#a89a60" stroke-width="0.6"/>
<ellipse cx="889" cy="294" rx="2.6" ry="4.8" fill="#b49a62" transform="rotate(20 889 294)"/>
<path d="M889,294l1.7,-7.5" stroke="#9a8050" stroke-width="0.6"/>
<path d="M908,318 L917,288" stroke="#a89a60" stroke-width="0.6"/>
<ellipse cx="917" cy="288" rx="2.6" ry="4.8" fill="#b49a62" transform="rotate(-20 917 288)"/>
<path d="M917,288l-1.7,-7.5" stroke="#9a8050" stroke-width="0.6"/>
<path d="M908,318 L901,297" stroke="#a89a60" stroke-width="0.6"/>
<ellipse cx="901" cy="297" rx="2.6" ry="4.8" fill="#b49a62" transform="rotate(-35 901 297)"/>
<path d="M901,297l-2.9,-6.6" stroke="#9a8050" stroke-width="0.6"/>
<path d="M950,338 L947,303" stroke="#a89a60" stroke-width="0.6"/>
<ellipse cx="947" cy="303" rx="2.6" ry="4.8" fill="#b49a62" transform="rotate(-20 947 303)"/>
<path d="M947,303l-1.7,-7.5" stroke="#9a8050" stroke-width="0.6"/>
<path d="M950,338 L955,306" stroke="#a89a60" stroke-width="0.6"/>
<ellipse cx="955" cy="306" rx="2.6" ry="4.8" fill="#b49a62" transform="rotate(35 955 306)"/>
<path d="M955,306l2.9,-6.6" stroke="#9a8050" stroke-width="0.6"/>
<path d="M950,338 L941,312" stroke="#a89a60" stroke-width="0.6"/>
<ellipse cx="941" cy="312" rx="2.6" ry="4.8" fill="#b49a62" transform="rotate(-20 941 312)"/>
<path d="M941,312l-1.7,-7.5" stroke="#9a8050" stroke-width="0.6"/>
<path d="M950,338 L952,316" stroke="#a89a60" stroke-width="0.6"/>
<ellipse cx="952" cy="316" rx="2.6" ry="4.8" fill="#b49a62" transform="rotate(35 952 316)"/>
<path d="M952,316l2.9,-6.6" stroke="#9a8050" stroke-width="0.6"/>
<path d="M950,338 L959,320" stroke="#a89a60" stroke-width="0.6"/>
<ellipse cx="959" cy="320" rx="2.6" ry="4.8" fill="#b49a62" transform="rotate(20 959 320)"/>
<path d="M959,320l1.7,-7.5" stroke="#9a8050" stroke-width="0.6"/>
<path d="M950,338 L944,323" stroke="#a89a60" stroke-width="0.6"/>
<ellipse cx="944" cy="323" rx="2.6" ry="4.8" fill="#b49a62" transform="rotate(-35 944 323)"/>
<path d="M944,323l-2.9,-6.6" stroke="#9a8050" stroke-width="0.6"/>
<path d="M950,338 L955,330" stroke="#a89a60" stroke-width="0.6"/>
<ellipse cx="955" cy="330" rx="2.6" ry="4.8" fill="#b49a62" transform="rotate(-35 955 330)"/>
<path d="M955,330l-2.9,-6.6" stroke="#9a8050" stroke-width="0.6"/>
<path d="M950,338 L948,334" stroke="#a89a60" stroke-width="0.6"/>
<ellipse cx="948" cy="334" rx="2.6" ry="4.8" fill="#b49a62" transform="rotate(35 948 334)"/>
<path d="M948,334l2.9,-6.6" stroke="#9a8050" stroke-width="0.6"/>
<path d="M950,338 L962,312" stroke="#a89a60" stroke-width="0.6"/>
<ellipse cx="962" cy="312" rx="2.6" ry="4.8" fill="#b49a62" transform="rotate(-35 962 312)"/>
<path d="M962,312l-2.9,-6.6" stroke="#9a8050" stroke-width="0.6"/>
<path d="M943,725.1Q942,731.4 936.1,739.9" fill="none" stroke="#c8c8c0" stroke-width="0.5" stroke-linecap="round"/>
<path d="M914.4,749Q909.6,755.3 917.4,760.5" fill="none" stroke="#c8c8c0" stroke-width="0.5" stroke-linecap="round"/>
<path d="M925.5,738.7Q923.1,746.9 924.7,749.5" fill="none" stroke="#c8c8c0" stroke-width="0.5" stroke-linecap="round"/>
<path d="M923.1,742.6Q926.1,747.9 921,757.4" fill="none" stroke="#c8c8c0" stroke-width="0.5" stroke-linecap="round"/>
<path d="M929,735.9Q924.2,742.8 929.1,749" fill="none" stroke="#c8c8c0" stroke-width="0.5" stroke-linecap="round"/>
<path d="M911.3,751.9Q910.7,756.8 916.7,763.1" fill="none" stroke="#c8c8c0" stroke-width="0.5" stroke-linecap="round"/>
<path d="M919.3,743.9Q921.4,749.1 911.9,755.9" fill="none" stroke="#c8c8c0" stroke-width="0.5" stroke-linecap="round"/>
<path d="M945.9,723Q943.3,728.9 941,733.7" fill="none" stroke="#c8c8c0" stroke-width="0.5" stroke-linecap="round"/>
<path d="M910.2,753.4Q911.2,761.4 906.9,769.2" fill="none" stroke="#c8c8c0" stroke-width="0.5" stroke-linecap="round"/>
<path d="M947.4,721.5Q952,728 948.4,729.8" fill="none" stroke="#c8c8c0" stroke-width="0.5" stroke-linecap="round"/>
<path d="M920.2,745.1Q918.3,749.4 919.1,753.8" fill="none" stroke="#c8c8c0" stroke-width="0.5" stroke-linecap="round"/>
<path d="M932.8,732.6Q934.6,736.7 932.8,744.4" fill="none" stroke="#c8c8c0" stroke-width="0.5" stroke-linecap="round"/>
<path d="M913.5,749.8Q911.8,758.3 917.6,760.5" fill="none" stroke="#c8c8c0" stroke-width="0.5" stroke-linecap="round"/>
<path d="M926.5,738.4Q928.1,744.3 930.6,751.4" fill="none" stroke="#c8c8c0" stroke-width="0.5" stroke-linecap="round"/>
<path d="M922.7,742.8Q919.6,748.9 922.9,755.2" fill="none" stroke="#c8c8c0" stroke-width="0.5" stroke-linecap="round"/>
<path d="M929.1,737Q928.2,745.2 935,748.1" fill="none" stroke="#c8c8c0" stroke-width="0.5" stroke-linecap="round"/>
<path d="M947.2,720.9Q944,728.9 946.2,732.4" fill="none" stroke="#c8c8c0" stroke-width="0.5" stroke-linecap="round"/>
<path d="M936.6,729.8Q939.8,736.3 940.7,745.1" fill="none" stroke="#c8c8c0" stroke-width="0.5" stroke-linecap="round"/>
<path d="M936.4,731.2Q931.8,736.1 940.4,745.8" fill="none" stroke="#c8c8c0" stroke-width="0.5" stroke-linecap="round"/>
<path d="M909.1,753.9Q910.7,759.5 910.8,768.3" fill="none" stroke="#c8c8c0" stroke-width="0.5" stroke-linecap="round"/>
<path d="M907.5,755.1Q903,761.4 913.4,768.2" fill="none" stroke="#c8c8c0" stroke-width="0.5" stroke-linecap="round"/>
<path d="M949.9,717.9Q946.8,725.8 956.5,728.6" fill="none" stroke="#c8c8c0" stroke-width="0.5" stroke-linecap="round"/>
<path d="M919,745Q922.2,750 922,760.8" fill="none" stroke="#c8c8c0" stroke-width="0.5" stroke-linecap="round"/>
<path d="M947.1,720.5Q951.9,725.1 943.7,730.2" fill="none" stroke="#c8c8c0" stroke-width="0.5" stroke-linecap="round"/>
<path d="M943.3,724.5Q943.3,733 940.4,739.6" fill="none" stroke="#c8c8c0" stroke-width="0.5" stroke-linecap="round"/>
<path d="M940.2,727Q941.4,731.2 945.1,739.8" fill="none" stroke="#c8c8c0" stroke-width="0.5" stroke-linecap="round"/>
<path d="M943.6,723.4Q948.1,728.6 937.4,734.5" fill="none" stroke="#c8c8c0" stroke-width="0.5" stroke-linecap="round"/>
<path d="M942.1,725.8Q938.2,732.2 944.8,739.4" fill="none" stroke="#c8c8c0" stroke-width="0.5" stroke-linecap="round"/>
<path d="M923.1,741.9Q925.9,747.4 930.2,753.5" fill="none" stroke="#c8c8c0" stroke-width="0.5" stroke-linecap="round"/>
<path d="M922.1,741.7Q917.1,747.2 924.4,752.5" fill="none" stroke="#c8c8c0" stroke-width="0.5" stroke-linecap="round"/>
<path d="M913.6,750.2Q917.9,757.6 911.5,764.4" fill="none" stroke="#c8c8c0" stroke-width="0.5" stroke-linecap="round"/>
<path d="M908,754.5Q905.5,762.7 901,764.4" fill="none" stroke="#c8c8c0" stroke-width="0.5" stroke-linecap="round"/>
<path d="M924.8,739.7Q923,747.5 920.1,749.5" fill="none" stroke="#c8c8c0" stroke-width="0.5" stroke-linecap="round"/>
<path d="M944.4,724Q944,731.5 950,734.9" fill="none" stroke="#c8c8c0" stroke-width="0.5" stroke-linecap="round"/>
<path d="M913.6,749.9Q912.7,758.4 921.3,761.7" fill="none" stroke="#c8c8c0" stroke-width="0.5" stroke-linecap="round"/>
<path d="M931.4,733.6Q936,737.7 937.7,741.8" fill="none" stroke="#c8c8c0" stroke-width="0.5" stroke-linecap="round"/>
<path d="M911.8,751.2Q907.4,757.6 906.9,760.9" fill="none" stroke="#c8c8c0" stroke-width="0.5" stroke-linecap="round"/>
<path d="M927.1,737.3Q926.8,742.2 931.6,746.4" fill="none" stroke="#c8c8c0" stroke-width="0.5" stroke-linecap="round"/>
<path d="M925,740.8Q924.4,745.9 924.8,755.3" fill="none" stroke="#c8c8c0" stroke-width="0.5" stroke-linecap="round"/>
<path d="M917.8,745.9Q920.9,753 924.9,757.3" fill="none" stroke="#c8c8c0" stroke-width="0.5" stroke-linecap="round"/>
<path d="M906,757Q918,750 925,745Q932,740 937,734Q942,728 948,718" fill="none" stroke="#a8b040" stroke-width="3.6" stroke-linecap="round"/>
<path d="M906,757Q920,748 934,738" fill="none" stroke="#d4c860" stroke-width="1.0" stroke-linecap="round"/>
<path d="M920,733Q932,722 938,716Q944,710 946,716" fill="none" stroke="#d0b860" stroke-width="0.9" stroke-linecap="round"/>
<path d="M932,745C933.8,742.3 932.5,728.6 930,720C928.9,728.9 929.8,742.7 932,745Z" fill="#2aa050"/>
<path d="M934,745C935.9,742.9 936.9,730.2 936,722C933.7,729.9 932.5,742.5 934,745Z" fill="#2aa050"/>
<path d="M945,732C944.1,735.1 949.8,747.1 955,754C953.2,745.5 947.9,733.3 945,732Z" fill="#3aa060"/>
<path d="M894,752Q887,700 883.5,675Q880,650 878,604" fill="none" stroke="#1f8a3a" stroke-width="1.8" stroke-linecap="round"/>
<path d="M897,752Q903,700 906.5,680Q910,660 912,644" fill="none" stroke="#1f8a3a" stroke-width="1.8" stroke-linecap="round"/>
<path d="M920,751Q925,710 932.5,692.5Q940,675 956,624" fill="none" stroke="#1f8a3a" stroke-width="1.8" stroke-linecap="round"/>
<path d="M885,712C886.5,705.5 878.5,673.7 871,654C873.3,674.9 880.7,706.9 885,712Z" fill="#2aa050"/>
<path d="M900,732C903.9,728.4 910.8,704.1 913,688C906.1,702.7 898.7,726.8 900,732Z" fill="#2aa050"/>
<path d="M951,709C949.1,702.1 939,664.2 933,640C933.8,665.6 943.5,703.6 951,709Z" fill="#2aa050"/>
<path d="M936,690C940.9,686.8 955,662 962,645C950.8,659.5 936.3,684.2 936,690Z" fill="#2aa050"/>
<path d="M949,716Q953,690 945,656" fill="none" stroke="#2aa050" stroke-width="1.8" stroke-linecap="round"/>
<path d="M949,722C954.5,722.8 964.9,719.3 968,716C963.5,715.1 953,718.2 949,722Z" fill="#2aa050"/>
<path d="M939,732C942.6,726 945.7,711.6 945,706C941.9,710.8 938.4,725 939,732Z" fill="#5ab060"/>
<path d="M877,607C883.1,601.5 884.8,584.4 881,576C875.2,583.1 872.5,600.1 877,607Z" fill="#2a1206"/>
<ellipse cx="880.2" cy="582.1" rx="1.1" ry="2.4" fill="#c87a18" transform="rotate(-6.5 880.2 582.1)"/>
<ellipse cx="879.7" cy="581.4" rx="1.1" ry="2.4" fill="#c87a18" transform="rotate(1 879.7 581.4)"/>
<ellipse cx="880" cy="594.7" rx="1.1" ry="2.4" fill="#c87a18" transform="rotate(28.9 880 594.7)"/>
<ellipse cx="876.8" cy="591.2" rx="1.1" ry="2.4" fill="#c87a18" transform="rotate(-10.2 876.8 591.2)"/>
<ellipse cx="878.8" cy="601.7" rx="1.1" ry="2.4" fill="#c87a18" transform="rotate(31.5 878.8 601.7)"/>
<ellipse cx="879.3" cy="585.3" rx="1.1" ry="2.4" fill="#c87a18" transform="rotate(0.5 879.3 585.3)"/>
<path d="M882.7,586.1l0.3,-5.3" stroke="#a09484" stroke-width="0.55"/>
<path d="M882.8,588.8l4.4,-7.9" stroke="#a09484" stroke-width="0.55"/>
<path d="M882.4,580.3l1.2,-8" stroke="#a09484" stroke-width="0.55"/>
<path d="M882.4,580.5l3.7,-8" stroke="#a09484" stroke-width="0.55"/>
<path d="M875.3,596.7l0.5,-7.3" stroke="#a09484" stroke-width="0.55"/>
<path d="M879.2,577.7l3.7,-12.2" stroke="#a09484" stroke-width="0.55"/>
<path d="M882.4,579.7l3.7,-12.6" stroke="#a09484" stroke-width="0.55"/>
<path d="M882.7,586.1l-0.3,-5.6" stroke="#a09484" stroke-width="0.55"/>
<path d="M876.4,586.7l2.9,-11.1" stroke="#a09484" stroke-width="0.55"/>
<path d="M882.8,588l1.8,-9.3" stroke="#a09484" stroke-width="0.55"/>
<path d="M883,590C893.8,583.4 901.8,557.9 899,544C888.2,553.1 878.6,578.2 883,590Z" fill="#2a1206"/>
<ellipse cx="886.4" cy="573" rx="1.1" ry="2.4" fill="#c87a18" transform="rotate(35.8 886.4 573)"/>
<ellipse cx="887.7" cy="579.7" rx="1.1" ry="2.4" fill="#c87a18" transform="rotate(8.1 887.7 579.7)"/>
<ellipse cx="887.1" cy="574.9" rx="1.1" ry="2.4" fill="#c87a18" transform="rotate(23 887.1 574.9)"/>
<ellipse cx="884.9" cy="578.6" rx="1.1" ry="2.4" fill="#c87a18" transform="rotate(5.7 884.9 578.6)"/>
<ellipse cx="891.1" cy="567.8" rx="1.1" ry="2.4" fill="#c87a18" transform="rotate(10 891.1 567.8)"/>
<ellipse cx="889.7" cy="563.1" rx="1.1" ry="2.4" fill="#c87a18" transform="rotate(33.5 889.7 563.1)"/>
<ellipse cx="892.7" cy="558.7" rx="1.1" ry="2.4" fill="#c87a18" transform="rotate(-2 892.7 558.7)"/>
<ellipse cx="885.7" cy="582.3" rx="1.1" ry="2.4" fill="#c87a18" transform="rotate(35.5 885.7 582.3)"/>
<ellipse cx="889.2" cy="568.3" rx="1.1" ry="2.4" fill="#c87a18" transform="rotate(26.9 889.2 568.3)"/>
<ellipse cx="895.5" cy="552.2" rx="1.1" ry="2.4" fill="#c87a18" transform="rotate(4.9 895.5 552.2)"/>
<path d="M892.5,576.5l2.1,-5.5" stroke="#a09484" stroke-width="0.55"/>
<path d="M885.3,565.2l0.9,-7" stroke="#a09484" stroke-width="0.55"/>
<path d="M900.1,548l2.3,-7.6" stroke="#a09484" stroke-width="0.55"/>
<path d="M884.2,572.1l3,-8" stroke="#a09484" stroke-width="0.55"/>
<path d="M891.1,554.6l6.1,-11.4" stroke="#a09484" stroke-width="0.55"/>
<path d="M899,555.1l3,-9" stroke="#a09484" stroke-width="0.55"/>
<path d="M885.2,565.6l-0.3,-7.5" stroke="#a09484" stroke-width="0.55"/>
<path d="M884.7,569l2.4,-4.6" stroke="#a09484" stroke-width="0.55"/>
<path d="M900.7,544.8l4.3,-6.5" stroke="#a09484" stroke-width="0.55"/>
<path d="M884,572.9l0.4,-7.3" stroke="#a09484" stroke-width="0.55"/>
<path d="M884.5,570.3l-1.2,-9.5" stroke="#a09484" stroke-width="0.55"/>
<path d="M898.1,560.5l5.2,-6.5" stroke="#a09484" stroke-width="0.55"/>
<path d="M884.7,568.6l0.2,-5" stroke="#a09484" stroke-width="0.55"/>
<path d="M884.5,569.8l1,-9.4" stroke="#a09484" stroke-width="0.55"/>
<path d="M890.7,555.4l-1.3,-8.1" stroke="#a09484" stroke-width="0.55"/>
<path d="M894.3,573.3l1.9,-5.8" stroke="#a09484" stroke-width="0.55"/>
<path d="M900.4,546.3l2.9,-13.6" stroke="#a09484" stroke-width="0.55"/>
<path d="M897.7,562.6l5.3,-9.6" stroke="#a09484" stroke-width="0.55"/>
<path d="M908,641C914.9,630.9 916.5,601.7 912,588C905.5,600.8 902.7,629.9 908,641Z" fill="#2a1206"/>
<ellipse cx="909.4" cy="616.7" rx="1.1" ry="2.4" fill="#c87a18" transform="rotate(-5.4 909.4 616.7)"/>
<ellipse cx="908.9" cy="627.5" rx="1.1" ry="2.4" fill="#c87a18" transform="rotate(17.1 908.9 627.5)"/>
<ellipse cx="910.5" cy="622.2" rx="1.1" ry="2.4" fill="#c87a18" transform="rotate(-5.6 910.5 622.2)"/>
<ellipse cx="912.6" cy="601.1" rx="1.1" ry="2.4" fill="#c87a18" transform="rotate(21.3 912.6 601.1)"/>
<ellipse cx="909.3" cy="628.1" rx="1.1" ry="2.4" fill="#c87a18" transform="rotate(10 909.3 628.1)"/>
<ellipse cx="909.4" cy="626.4" rx="1.1" ry="2.4" fill="#c87a18" transform="rotate(-14.6 909.4 626.4)"/>
<ellipse cx="910.1" cy="618" rx="1.1" ry="2.4" fill="#c87a18" transform="rotate(14.2 910.1 618)"/>
<ellipse cx="909.2" cy="622.9" rx="1.1" ry="2.4" fill="#c87a18" transform="rotate(-4.4 909.2 622.9)"/>
<ellipse cx="908.8" cy="611.1" rx="1.1" ry="2.4" fill="#c87a18" transform="rotate(7.5 908.8 611.1)"/>
<path d="M914,601.7l4.1,-10.6" stroke="#a09484" stroke-width="0.55"/>
<path d="M913.8,598.5l5.7,-11" stroke="#a09484" stroke-width="0.55"/>
<path d="M914.6,614.8l0.3,-5.3" stroke="#a09484" stroke-width="0.55"/>
<path d="M914.2,606.8l2.6,-6.4" stroke="#a09484" stroke-width="0.55"/>
<path d="M914.3,609.3l1.6,-8.1" stroke="#a09484" stroke-width="0.55"/>
<path d="M907.2,605.1l2.4,-8.7" stroke="#a09484" stroke-width="0.55"/>
<path d="M906.5,608.4l-2.9,-7.3" stroke="#a09484" stroke-width="0.55"/>
<path d="M913.6,593.8l-1.1,-13.3" stroke="#a09484" stroke-width="0.55"/>
<path d="M906.1,610.5l-1,-6.1" stroke="#a09484" stroke-width="0.55"/>
<path d="M907.3,604.5l-1.4,-11.5" stroke="#a09484" stroke-width="0.55"/>
<path d="M913.9,598.9l-1,-8.6" stroke="#a09484" stroke-width="0.55"/>
<path d="M914.4,611.7l1.2,-9" stroke="#a09484" stroke-width="0.55"/>
<path d="M913.6,592.8l-0.2,-8" stroke="#a09484" stroke-width="0.55"/>
<path d="M906,611l-1.7,-5" stroke="#a09484" stroke-width="0.55"/>
<path d="M914.5,613.5l0.1,-4.8" stroke="#a09484" stroke-width="0.55"/>
<path d="M913.8,598.1l2.9,-11.3" stroke="#a09484" stroke-width="0.55"/>
<path d="M914,646C917.9,642.1 918.6,630.5 916,625C912.4,630 910.9,641.5 914,646Z" fill="#2a1206"/>
<ellipse cx="916.2" cy="630.8" rx="1.1" ry="2.4" fill="#c87a18" transform="rotate(2.5 916.2 630.8)"/>
<ellipse cx="914.3" cy="632.9" rx="1.1" ry="2.4" fill="#c87a18" transform="rotate(-0.6 914.3 632.9)"/>
<ellipse cx="916.1" cy="635.8" rx="1.1" ry="2.4" fill="#c87a18" transform="rotate(-10.1 916.1 635.8)"/>
<path d="M914.5,627.5l-1.3,-12.6" stroke="#a09484" stroke-width="0.55"/>
<path d="M917.5,634.3l2.8,-5.3" stroke="#a09484" stroke-width="0.55"/>
<path d="M917.5,635.9l0.3,-8.4" stroke="#a09484" stroke-width="0.55"/>
<path d="M917.2,631.3l1.2,-5.9" stroke="#a09484" stroke-width="0.55"/>
<path d="M915.1,625.2l-5.1,-13.4" stroke="#a09484" stroke-width="0.55"/>
<path d="M955,624C958.6,617.9 956.6,602.6 952,596C948.9,603.4 950.2,618.9 955,624Z" fill="#2a1206"/>
<ellipse cx="952.5" cy="605.1" rx="1.1" ry="2.4" fill="#c87a18" transform="rotate(-14.9 952.5 605.1)"/>
<ellipse cx="952.9" cy="602" rx="1.1" ry="2.4" fill="#c87a18" transform="rotate(1.9 952.9 602)"/>
<ellipse cx="954.4" cy="607.3" rx="1.1" ry="2.4" fill="#c87a18" transform="rotate(-15 954.4 607.3)"/>
<ellipse cx="954.7" cy="607.2" rx="1.1" ry="2.4" fill="#c87a18" transform="rotate(-5.2 954.7 607.2)"/>
<path d="M950.9,598l-1.4,-6.8" stroke="#a09484" stroke-width="0.55"/>
<path d="M956.6,610.7l2.7,-9.6" stroke="#a09484" stroke-width="0.55"/>
<path d="M956.1,607.5l3.4,-8.6" stroke="#a09484" stroke-width="0.55"/>
<path d="M950.6,605.5l-1.6,-7.5" stroke="#a09484" stroke-width="0.55"/>
<path d="M955.1,603.8l1,-7.9" stroke="#a09484" stroke-width="0.55"/>
<path d="M950.8,600.7l-3.4,-11.3" stroke="#a09484" stroke-width="0.55"/>
<path d="M950.9,598.9l-3.5,-12.9" stroke="#a09484" stroke-width="0.55"/>
<path d="M950.9,612.3l0.2,-4.9" stroke="#a09484" stroke-width="0.55"/>
<path d="M956,606C964.5,597.3 969.4,569.7 966,556C957.6,567.3 951.5,594.7 956,606Z" fill="#2a1206"/>
<ellipse cx="963.5" cy="566.3" rx="1.1" ry="2.4" fill="#c87a18" transform="rotate(-4.4 963.5 566.3)"/>
<ellipse cx="957.8" cy="597.1" rx="1.1" ry="2.4" fill="#c87a18" transform="rotate(28.9 957.8 597.1)"/>
<ellipse cx="961.6" cy="569.3" rx="1.1" ry="2.4" fill="#c87a18" transform="rotate(5.8 961.6 569.3)"/>
<ellipse cx="957.7" cy="592.1" rx="1.1" ry="2.4" fill="#c87a18" transform="rotate(21 957.7 592.1)"/>
<ellipse cx="958" cy="586.3" rx="1.1" ry="2.4" fill="#c87a18" transform="rotate(8.4 958 586.3)"/>
<ellipse cx="960.1" cy="579" rx="1.1" ry="2.4" fill="#c87a18" transform="rotate(-2.9 960.1 579)"/>
<ellipse cx="962.7" cy="574.7" rx="1.1" ry="2.4" fill="#c87a18" transform="rotate(23.9 962.7 574.7)"/>
<ellipse cx="960.5" cy="584.8" rx="1.1" ry="2.4" fill="#c87a18" transform="rotate(17.7 960.5 584.8)"/>
<ellipse cx="958.1" cy="583.3" rx="1.1" ry="2.4" fill="#c87a18" transform="rotate(29.3 958.1 583.3)"/>
<path d="M958.5,573.1l-1.3,-11.4" stroke="#a09484" stroke-width="0.55"/>
<path d="M960.8,566.4l-0.3,-9.6" stroke="#a09484" stroke-width="0.55"/>
<path d="M966.3,574.8l5.4,-6.5" stroke="#a09484" stroke-width="0.55"/>
<path d="M964.6,585.6l2,-8.3" stroke="#a09484" stroke-width="0.55"/>
<path d="M959.6,569.9l-0.4,-6.4" stroke="#a09484" stroke-width="0.55"/>
<path d="M956.2,579.6l2.2,-7" stroke="#a09484" stroke-width="0.55"/>
<path d="M966.4,574.5l3.5,-5.5" stroke="#a09484" stroke-width="0.55"/>
<path d="M963.6,588.5l3.1,-7.1" stroke="#a09484" stroke-width="0.55"/>
<path d="M965.9,581.9l6.2,-7.6" stroke="#a09484" stroke-width="0.55"/>
<path d="M966.9,565.4l5.5,-7.4" stroke="#a09484" stroke-width="0.55"/>
<path d="M966.5,572.2l2.3,-7.7" stroke="#a09484" stroke-width="0.55"/>
<path d="M964.7,585.5l3.5,-6.7" stroke="#a09484" stroke-width="0.55"/>
<path d="M957.3,576.6l-0.4,-5.8" stroke="#a09484" stroke-width="0.55"/>
<path d="M967.3,559.3l1.1,-9.7" stroke="#a09484" stroke-width="0.55"/>
<path d="M964.8,585l2.4,-6" stroke="#a09484" stroke-width="0.55"/>
<path d="M966.9,566.2l3.3,-6.2" stroke="#a09484" stroke-width="0.55"/>
<path d="M962,613C967.4,608.7 971.5,593.8 970,586C964.5,591.7 959.8,606.5 962,613Z" fill="#2a1206"/>
<ellipse cx="965.8" cy="596.4" rx="1.1" ry="2.4" fill="#c87a18" transform="rotate(-2.6 965.8 596.4)"/>
<ellipse cx="965.5" cy="601.5" rx="1.1" ry="2.4" fill="#c87a18" transform="rotate(5.2 965.5 601.5)"/>
<ellipse cx="966.5" cy="599.6" rx="1.1" ry="2.4" fill="#c87a18" transform="rotate(4.5 966.5 599.6)"/>
<ellipse cx="963.4" cy="604.9" rx="1.1" ry="2.4" fill="#c87a18" transform="rotate(-1.1 963.4 604.9)"/>
<path d="M963.8,597.1l-0.3,-9.9" stroke="#a09484" stroke-width="0.55"/>
<path d="M968.7,586.7l-0.3,-8.6" stroke="#a09484" stroke-width="0.55"/>
<path d="M969,599.1l3.5,-4" stroke="#a09484" stroke-width="0.55"/>
<path d="M966.6,591.1l-0.5,-9.3" stroke="#a09484" stroke-width="0.55"/>
<path d="M970.8,586.8l4.8,-6" stroke="#a09484" stroke-width="0.55"/>
<path d="M966.8,604.7l1.8,-6.3" stroke="#a09484" stroke-width="0.55"/>
<path d="M969.1,598.6l4.6,-6.6" stroke="#a09484" stroke-width="0.55"/>
<path d="M970,592.4l6.3,-6.5" stroke="#a09484" stroke-width="0.55"/>
<path d="M929,998Q915,1010 902,1026" fill="none" stroke="#7a5a30" stroke-width="3" stroke-linecap="round"/>
<path d="M912,1000Q911,1012 912,1024" fill="none" stroke="#b09060" stroke-width="0.7" stroke-linecap="round"/>
<path d="M917,1000Q916,1012 917,1024" fill="none" stroke="#b09060" stroke-width="0.7" stroke-linecap="round"/>
<path d="M922,1000Q921,1012 922,1024" fill="none" stroke="#b09060" stroke-width="0.7" stroke-linecap="round"/>
<path d="M927,1000Q926,1012 927,1024" fill="none" stroke="#b09060" stroke-width="0.7" stroke-linecap="round"/>
<path d="M931,1000Q930,1012 931,1024" fill="none" stroke="#b09060" stroke-width="0.7" stroke-linecap="round"/>
<path d="M936,992 C945,988 958,986 968,990 C970,994 962,998 950,998 Z" fill="#8a6030"/>
<path d="M926,992C921.5,959.5 890.7,914.6 872,909C869.5,928.3 898.1,974.7 926,992Z" fill="#1f7a1a"/>
<path d="M926,992C916.8,962.5 886.4,917.3 872,909C873.8,925.6 902.8,971.7 926,992Z" fill="#3a9a2e"/>
<path d="M926,992C910.4,966.7 880.6,921.1 872,909C879.6,921.8 909.2,967.5 926,992Z" fill="#3a9a2e"/>
<path d="M926,992Q899,950.5 872,909" fill="none" stroke="#a8d088" stroke-width="0.7"/>
<path d="M927,992C934.7,959 925.3,902 912,888C905.1,904.9 912.3,962.3 927,992Z" fill="#1f7a1a"/>
<path d="M927,992C930.2,959.7 921.3,902.6 912,888C909.2,904.3 916.8,961.6 927,992Z" fill="#3a9a2e"/>
<path d="M927,992C924.1,960.6 915.7,903.4 912,888C914.7,903.5 922.9,960.7 927,992Z" fill="#3a9a2e"/>
<path d="M927,992Q920.2,939.9 912,888" fill="none" stroke="#a8d088" stroke-width="0.7"/>
<path d="M932,993C957.2,980.3 983.9,948.7 982,937C968.6,935.1 940.3,965.2 932,993Z" fill="#1f7a1a"/>
<path d="M932,993C953.8,977.3 980.8,946 982,937C971.7,937.9 943.7,968.2 932,993Z" fill="#3a9a2e"/>
<path d="M932,993C949.2,973.1 976.6,942.3 982,937C975.9,941.6 948.3,972.4 932,993Z" fill="#3a9a2e"/>
<path d="M932,993Q956.4,964.5 982,937" fill="none" stroke="#a8d088" stroke-width="0.7"/>
<path d="M923,991C910.3,975.9 880.3,963.5 869,967C873.9,977.7 903.3,991.7 923,991Z" fill="#1f7a1a"/>
<path d="M923,991C908.9,979 879,966.3 869,967C875.2,974.9 904.7,988.6 923,991Z" fill="#3a9a2e"/>
<path d="M923,991C907,983.4 877.3,970.2 869,967C876.9,971 906.6,984.2 923,991Z" fill="#3a9a2e"/>
<path d="M923,991Q896,979 869,967" fill="none" stroke="#a8d088" stroke-width="0.7"/>
<path d="M922,992C912.5,990.6 898.4,996.6 896,1002C901.4,1004.4 915.9,999.4 922,992Z" fill="#1f7a1a"/>
<path d="M922,992C913.2,992.4 899,998.1 896,1002C900.8,1002.9 915.2,997.6 922,992Z" fill="#3a9a2e"/>
<path d="M922,992C914.1,994.8 899.8,1000.3 896,1002C900,1000.7 914.3,995.2 922,992Z" fill="#3a9a2e"/>
<path d="M922,992Q909,997 896,1002" fill="none" stroke="#a8d088" stroke-width="0.7"/>
<path d="M935,997C942.2,1009.5 962.4,1021.6 971,1020C968.8,1011.5 949.4,998.3 935,997Z" fill="#1f7a1a"/>
<path d="M935,997C943.6,1007.3 963.7,1019.6 971,1020C967.5,1013.5 948,1000.5 935,997Z" fill="#3a9a2e"/>
<path d="M935,997C945.6,1004.2 965.4,1016.8 971,1020C965.8,1016.3 946,1003.6 935,997Z" fill="#3a9a2e"/>
<path d="M935,997Q953,1008.5 971,1020" fill="none" stroke="#a8d088" stroke-width="0.7"/>
<path d="M926,995Q924,930 924,869" fill="none" stroke="#5aa040" stroke-width="2.4" stroke-linecap="round"/>
<path d="M944,996Q948,950 957,919" fill="none" stroke="#6ab050" stroke-width="1.6" stroke-linecap="round"/>
<ellipse cx="960" cy="912" rx="5" ry="6.5" fill="#3a9030" transform="rotate(30 960 912)"/>
<ellipse cx="925.5" cy="863.5" rx="6" ry="7" fill="#3f8f30" transform="rotate(20 925.5 863.5)"/>
<ellipse cx="931.5" cy="844.5" rx="22" ry="15" fill="#e8c818" transform="rotate(10 931.5 844.5)"/>
<path d="M949.3,844.1L956.5,843.9" stroke="#fae040" stroke-width="2.3" stroke-linecap="round"/>
<path d="M949,846.9L956,848" stroke="#e8c010" stroke-width="2.3" stroke-linecap="round"/>
<path d="M948.4,848.3L955.3,849.9" stroke="#f8dc28" stroke-width="2.3" stroke-linecap="round"/>
<path d="M947.1,850.4L953.4,852.9" stroke="#f8dc28" stroke-width="2.3" stroke-linecap="round"/>
<path d="M945.2,852.4L950.7,855.7" stroke="#f4d020" stroke-width="2.3" stroke-linecap="round"/>
<path d="M942.2,854.3L946.6,858.5" stroke="#f4d020" stroke-width="2.3" stroke-linecap="round"/>
<path d="M938.5,855.8L941.4,860.6" stroke="#fae040" stroke-width="2.3" stroke-linecap="round"/>
<path d="M937,856.2L939.3,861.1" stroke="#fae040" stroke-width="2.3" stroke-linecap="round"/>
<path d="M934,856.7L935,861.8" stroke="#f4d020" stroke-width="2.3" stroke-linecap="round"/>
<path d="M930.7,856.8L930.3,862" stroke="#f8dc28" stroke-width="2.3" stroke-linecap="round"/>
<path d="M926.7,856.3L924.7,861.3" stroke="#fae040" stroke-width="2.3" stroke-linecap="round"/>
<path d="M924.5,855.8L921.6,860.6" stroke="#fae040" stroke-width="2.3" stroke-linecap="round"/>
<path d="M920.4,854.1L915.9,858.2" stroke="#f4d020" stroke-width="2.3" stroke-linecap="round"/>
<path d="M918.8,853.1L913.7,856.8" stroke="#f8dc28" stroke-width="2.3" stroke-linecap="round"/>
<path d="M916.2,850.8L910,853.4" stroke="#f4d020" stroke-width="2.3" stroke-linecap="round"/>
<path d="M915.4,849.7L908.8,851.9" stroke="#f8dc28" stroke-width="2.3" stroke-linecap="round"/>
<path d="M913.9,846.5L906.8,847.4" stroke="#e8c010" stroke-width="2.3" stroke-linecap="round"/>
<path d="M913.7,844.1L906.5,843.9" stroke="#e8c010" stroke-width="2.3" stroke-linecap="round"/>
<path d="M913.9,842.7L906.8,841.9" stroke="#f8dc28" stroke-width="2.3" stroke-linecap="round"/>
<path d="M914.5,840.9L907.6,839.3" stroke="#e8c010" stroke-width="2.3" stroke-linecap="round"/>
<path d="M915.9,838.6L909.6,836.1" stroke="#f8dc28" stroke-width="2.3" stroke-linecap="round"/>
<path d="M918,836.5L912.6,833.1" stroke="#fae040" stroke-width="2.3" stroke-linecap="round"/>
<path d="M921.5,834.3L917.5,830" stroke="#fae040" stroke-width="2.3" stroke-linecap="round"/>
<path d="M922.6,833.9L919,829.4" stroke="#f4d020" stroke-width="2.3" stroke-linecap="round"/>
<path d="M926.3,832.7L924.2,827.8" stroke="#e8c010" stroke-width="2.3" stroke-linecap="round"/>
<path d="M931.1,832.2L930.9,827" stroke="#fae040" stroke-width="2.3" stroke-linecap="round"/>
<path d="M933.5,832.3L934.3,827.1" stroke="#e8c010" stroke-width="2.3" stroke-linecap="round"/>
<path d="M936.2,832.6L938.2,827.6" stroke="#f8dc28" stroke-width="2.3" stroke-linecap="round"/>
<path d="M939,833.4L942.1,828.6" stroke="#f4d020" stroke-width="2.3" stroke-linecap="round"/>
<path d="M941.4,834.3L945.5,830" stroke="#e8c010" stroke-width="2.3" stroke-linecap="round"/>
<path d="M943.9,835.6L948.8,831.9" stroke="#fae040" stroke-width="2.3" stroke-linecap="round"/>
<path d="M947.3,838.8L953.7,836.5" stroke="#f8dc28" stroke-width="2.3" stroke-linecap="round"/>
<path d="M948.1,840.1L954.9,838.3" stroke="#f4d020" stroke-width="2.3" stroke-linecap="round"/>
<path d="M948.9,841.8L955.9,840.7" stroke="#f8dc28" stroke-width="2.3" stroke-linecap="round"/>
<path d="M942.2,846.7L948.3,847.9" stroke="#fae040" stroke-width="2.3" stroke-linecap="round"/>
<path d="M941.3,848.2L946.9,850.3" stroke="#e8c010" stroke-width="2.3" stroke-linecap="round"/>
<path d="M939.3,850L943.8,853.2" stroke="#fae040" stroke-width="2.3" stroke-linecap="round"/>
<path d="M937.1,851.2L940.2,855.1" stroke="#e8c010" stroke-width="2.3" stroke-linecap="round"/>
<path d="M934.6,851.9L936.3,856.3" stroke="#f4d020" stroke-width="2.3" stroke-linecap="round"/>
<path d="M932.2,852.2L932.5,856.7" stroke="#e8c010" stroke-width="2.3" stroke-linecap="round"/>
<path d="M929.3,852L928,856.5" stroke="#f8dc28" stroke-width="2.3" stroke-linecap="round"/>
<path d="M927.5,851.7L925.2,855.9" stroke="#e8c010" stroke-width="2.3" stroke-linecap="round"/>
<path d="M924.6,850.6L920.7,854.2" stroke="#f8dc28" stroke-width="2.3" stroke-linecap="round"/>
<path d="M922.9,849.5L918.1,852.4" stroke="#f4d020" stroke-width="2.3" stroke-linecap="round"/>
<path d="M921.3,847.7L915.6,849.7" stroke="#f4d020" stroke-width="2.3" stroke-linecap="round"/>
<path d="M920.6,846.1L914.4,847.1" stroke="#f4d020" stroke-width="2.3" stroke-linecap="round"/>
<path d="M920.3,844.4L914,844.3" stroke="#fae040" stroke-width="2.3" stroke-linecap="round"/>
<path d="M920.6,842.7L914.5,841.6" stroke="#e8c010" stroke-width="2.3" stroke-linecap="round"/>
<path d="M921.5,841L915.9,838.9" stroke="#f4d020" stroke-width="2.3" stroke-linecap="round"/>
<path d="M923.9,838.9L919.6,835.5" stroke="#e8c010" stroke-width="2.3" stroke-linecap="round"/>
<path d="M925,838.2L921.3,834.5" stroke="#f8dc28" stroke-width="2.3" stroke-linecap="round"/>
<path d="M928.1,837.2L926.2,832.8" stroke="#f8dc28" stroke-width="2.3" stroke-linecap="round"/>
<path d="M930,836.9L929.2,832.4" stroke="#e8c010" stroke-width="2.3" stroke-linecap="round"/>
<path d="M934.2,837L935.7,832.6" stroke="#f8dc28" stroke-width="2.3" stroke-linecap="round"/>
<path d="M935.8,837.4L938.2,833.2" stroke="#fae040" stroke-width="2.3" stroke-linecap="round"/>
<path d="M938.1,838.3L941.8,834.6" stroke="#e8c010" stroke-width="2.3" stroke-linecap="round"/>
<path d="M940.3,839.7L945.2,836.9" stroke="#fae040" stroke-width="2.3" stroke-linecap="round"/>
<path d="M941.9,841.7L947.8,840" stroke="#fae040" stroke-width="2.3" stroke-linecap="round"/>
<path d="M942.6,843.2L948.8,842.5" stroke="#f8dc28" stroke-width="2.3" stroke-linecap="round"/>
<path d="M942.7,844.8L949,845" stroke="#f8dc28" stroke-width="2.3" stroke-linecap="round"/>
<path d="M935.4,846.1L940.1,848.1" stroke="#f4d020" stroke-width="2.3" stroke-linecap="round"/>
<path d="M934.2,847L937.3,850.2" stroke="#f4d020" stroke-width="2.3" stroke-linecap="round"/>
<path d="M932.2,847.6L933,851.4" stroke="#f4d020" stroke-width="2.3" stroke-linecap="round"/>
<path d="M930.5,847.5L929.2,851.3" stroke="#f8dc28" stroke-width="2.3" stroke-linecap="round"/>
<path d="M928.6,846.9L925.3,850" stroke="#fae040" stroke-width="2.3" stroke-linecap="round"/>
<path d="M927.6,846.2L923.1,848.3" stroke="#f8dc28" stroke-width="2.3" stroke-linecap="round"/>
<path d="M927,845.1L921.7,845.8" stroke="#fae040" stroke-width="2.3" stroke-linecap="round"/>
<path d="M927,843.8L921.8,842.9" stroke="#f8dc28" stroke-width="2.3" stroke-linecap="round"/>
<path d="M927.7,842.8L923.2,840.6" stroke="#fae040" stroke-width="2.3" stroke-linecap="round"/>
<path d="M929,841.9L926.1,838.6" stroke="#e8c010" stroke-width="2.3" stroke-linecap="round"/>
<path d="M930.6,841.5L929.6,837.6" stroke="#fae040" stroke-width="2.3" stroke-linecap="round"/>
<path d="M932.5,841.5L933.7,837.7" stroke="#f8dc28" stroke-width="2.3" stroke-linecap="round"/>
<path d="M934,841.9L936.9,838.6" stroke="#e8c010" stroke-width="2.3" stroke-linecap="round"/>
<path d="M935.4,842.9L940.1,840.9" stroke="#fae040" stroke-width="2.3" stroke-linecap="round"/>
<path d="M936.1,844.1L941.4,843.5" stroke="#fae040" stroke-width="2.3" stroke-linecap="round"/>
<path d="M936,845L941.4,845.6" stroke="#f8dc28" stroke-width="2.3" stroke-linecap="round"/>
<ellipse cx="931" cy="846" rx="6" ry="4" fill="#d8a810" opacity="0.5"/>
<path d="M940,1244Q944,1262 951,1271Q958,1280 965,1288.5Q972,1297 980,1303" fill="none" stroke="#8a4a30" stroke-width="2.4" stroke-linecap="round"/>
<path d="M938,1245Q932,1262 936,1290" fill="none" stroke="#8a4a30" stroke-width="1.6" stroke-linecap="round"/>
<path d="M936,1250L931,1265" fill="none" stroke="#8a4a30" stroke-width="1.4" stroke-linecap="round"/>
<path d="M937,1250Q933,1258 930,1262" fill="none" stroke="#8a4a30" stroke-width="1.2" stroke-linecap="round"/>
<path d="M936,1222Q925,1212 912,1204" fill="none" stroke="#6a9a5a" stroke-width="1.4" stroke-linecap="round"/>
<path d="M912,1204L905,1172" fill="none" stroke="#4a744a" stroke-width="0.8" stroke-linecap="round"/>
<path d="M910.2,1196L894.2,1189.3" fill="none" stroke="#4a744a" stroke-width="0.5599999999999999" stroke-linecap="round"/>
<path d="M906.2,1194.3L898.4,1199.3" fill="none" stroke="#4a744a" stroke-width="0.39199999999999996" stroke-linecap="round"/>
<path d="M906.2,1194.3C903.6,1193.6 899.4,1196.5 898.4,1199.3C901.3,1199.6 905.7,1197 906.2,1194.3Z" fill="#4a744a"/>
<path d="M906.2,1194.3L904.2,1185.2" fill="none" stroke="#4a744a" stroke-width="0.39199999999999996" stroke-linecap="round"/>
<path d="M906.2,1194.3C907.8,1192.1 906.5,1187.1 904.2,1185.2C903,1187.9 903.9,1192.9 906.2,1194.3Z" fill="#4a744a"/>
<path d="M903,1193L896.2,1197.3" fill="none" stroke="#4a744a" stroke-width="0.39199999999999996" stroke-linecap="round"/>
<path d="M903,1193C900.7,1192.4 897.1,1194.9 896.2,1197.3C898.7,1197.5 902.6,1195.3 903,1193Z" fill="#4a744a"/>
<path d="M903,1193L901.3,1185.1" fill="none" stroke="#4a744a" stroke-width="0.39199999999999996" stroke-linecap="round"/>
<path d="M903,1193C904.3,1191 903.2,1186.7 901.3,1185.1C900.2,1187.4 901,1191.8 903,1193Z" fill="#4a744a"/>
<path d="M899.8,1191.6L894,1195.3" fill="none" stroke="#4a744a" stroke-width="0.39199999999999996" stroke-linecap="round"/>
<path d="M899.8,1191.6C897.8,1191.1 894.7,1193.3 894,1195.3C896.2,1195.5 899.4,1193.6 899.8,1191.6Z" fill="#4a744a"/>
<path d="M899.8,1191.6L898.3,1184.9" fill="none" stroke="#4a744a" stroke-width="0.39199999999999996" stroke-linecap="round"/>
<path d="M899.8,1191.6C900.9,1190 900,1186.3 898.3,1184.9C897.4,1186.9 898.1,1190.6 899.8,1191.6Z" fill="#4a744a"/>
<path d="M897.4,1190.6C897.1,1188.5 894.2,1187.5 892.2,1188.5C892.9,1190.6 895.6,1191.9 897.4,1190.6Z" fill="#4a744a"/>
<path d="M910.2,1196L922.1,1183.2" fill="none" stroke="#4a744a" stroke-width="0.5599999999999999" stroke-linecap="round"/>
<path d="M913.2,1192.8L911.2,1183.7" fill="none" stroke="#4a744a" stroke-width="0.39199999999999996" stroke-linecap="round"/>
<path d="M913.2,1192.8C914.7,1190.6 913.5,1185.6 911.2,1183.7C910,1186.4 910.9,1191.4 913.2,1192.8Z" fill="#4a744a"/>
<path d="M913.2,1192.8L922.4,1194" fill="none" stroke="#4a744a" stroke-width="0.39199999999999996" stroke-linecap="round"/>
<path d="M913.2,1192.8C914.8,1195 919.9,1195.5 922.4,1194C920.3,1192 915.3,1191.1 913.2,1192.8Z" fill="#4a744a"/>
<path d="M915.6,1190.2L913.8,1182.3" fill="none" stroke="#4a744a" stroke-width="0.39199999999999996" stroke-linecap="round"/>
<path d="M915.6,1190.2C916.9,1188.3 915.8,1184 913.8,1182.3C912.8,1184.6 913.5,1189 915.6,1190.2Z" fill="#4a744a"/>
<path d="M915.6,1190.2L923.6,1191.3" fill="none" stroke="#4a744a" stroke-width="0.39199999999999996" stroke-linecap="round"/>
<path d="M915.6,1190.2C916.9,1192.1 921.4,1192.6 923.6,1191.3C921.8,1189.5 917.4,1188.7 915.6,1190.2Z" fill="#4a744a"/>
<path d="M917.9,1187.7L916.5,1181" fill="none" stroke="#4a744a" stroke-width="0.39199999999999996" stroke-linecap="round"/>
<path d="M917.9,1187.7C919.1,1186 918.1,1182.4 916.5,1181C915.6,1182.9 916.2,1186.6 917.9,1187.7Z" fill="#4a744a"/>
<path d="M917.9,1187.7L924.7,1188.6" fill="none" stroke="#4a744a" stroke-width="0.39199999999999996" stroke-linecap="round"/>
<path d="M917.9,1187.7C919.1,1189.3 922.8,1189.6 924.7,1188.6C923.2,1187 919.5,1186.4 917.9,1187.7Z" fill="#4a744a"/>
<path d="M919.7,1185.7C921.8,1186.2 923.8,1183.8 923.5,1181.6C921.3,1181.5 919.1,1183.7 919.7,1185.7Z" fill="#4a744a"/>
<path d="M909.2,1191.2L894.7,1185.1" fill="none" stroke="#4a744a" stroke-width="0.5599999999999999" stroke-linecap="round"/>
<path d="M905.6,1189.7L898.5,1194.2" fill="none" stroke="#4a744a" stroke-width="0.39199999999999996" stroke-linecap="round"/>
<path d="M905.6,1189.7C903.2,1189.1 899.4,1191.7 898.5,1194.2C901.1,1194.4 905.1,1192.1 905.6,1189.7Z" fill="#4a744a"/>
<path d="M905.6,1189.7L903.8,1181.5" fill="none" stroke="#4a744a" stroke-width="0.39199999999999996" stroke-linecap="round"/>
<path d="M905.6,1189.7C907,1187.7 905.8,1183.2 903.8,1181.5C902.7,1183.9 903.5,1188.4 905.6,1189.7Z" fill="#4a744a"/>
<path d="M902.7,1188.5L896.5,1192.4" fill="none" stroke="#4a744a" stroke-width="0.39199999999999996" stroke-linecap="round"/>
<path d="M902.7,1188.5C900.6,1187.9 897.3,1190.2 896.5,1192.4C898.8,1192.6 902.3,1190.6 902.7,1188.5Z" fill="#4a744a"/>
<path d="M902.7,1188.5L901.1,1181.4" fill="none" stroke="#4a744a" stroke-width="0.39199999999999996" stroke-linecap="round"/>
<path d="M902.7,1188.5C903.9,1186.7 902.9,1182.8 901.1,1181.4C900.1,1183.4 900.8,1187.4 902.7,1188.5Z" fill="#4a744a"/>
<path d="M899.8,1187.3L894.6,1190.6" fill="none" stroke="#4a744a" stroke-width="0.39199999999999996" stroke-linecap="round"/>
<path d="M899.8,1187.3C898,1186.8 895.2,1188.7 894.6,1190.6C896.5,1190.7 899.4,1189 899.8,1187.3Z" fill="#4a744a"/>
<path d="M899.8,1187.3L898.5,1181.2" fill="none" stroke="#4a744a" stroke-width="0.39199999999999996" stroke-linecap="round"/>
<path d="M899.8,1187.3C900.8,1185.8 899.9,1182.5 898.5,1181.2C897.6,1183 898.2,1186.3 899.8,1187.3Z" fill="#4a744a"/>
<path d="M897.6,1186.4C897.3,1184.4 894.7,1183.5 892.9,1184.4C893.5,1186.3 896,1187.5 897.6,1186.4Z" fill="#4a744a"/>
<path d="M909.2,1191.2L919.9,1179.6" fill="none" stroke="#4a744a" stroke-width="0.5599999999999999" stroke-linecap="round"/>
<path d="M911.9,1188.3L910.1,1180.1" fill="none" stroke="#4a744a" stroke-width="0.39199999999999996" stroke-linecap="round"/>
<path d="M911.9,1188.3C913.3,1186.3 912.1,1181.8 910.1,1180.1C909,1182.5 909.8,1187.1 911.9,1188.3Z" fill="#4a744a"/>
<path d="M911.9,1188.3L920.2,1189.4" fill="none" stroke="#4a744a" stroke-width="0.39199999999999996" stroke-linecap="round"/>
<path d="M911.9,1188.3C913.3,1190.3 917.9,1190.7 920.2,1189.4C918.3,1187.6 913.8,1186.8 911.9,1188.3Z" fill="#4a744a"/>
<path d="M914,1186L912.4,1178.9" fill="none" stroke="#4a744a" stroke-width="0.39199999999999996" stroke-linecap="round"/>
<path d="M914,1186C915.2,1184.2 914.2,1180.4 912.4,1178.9C911.5,1181 912.2,1184.9 914,1186Z" fill="#4a744a"/>
<path d="M914,1186L921.2,1187" fill="none" stroke="#4a744a" stroke-width="0.39199999999999996" stroke-linecap="round"/>
<path d="M914,1186C915.2,1187.7 919.2,1188.1 921.2,1187C919.6,1185.3 915.6,1184.7 914,1186Z" fill="#4a744a"/>
<path d="M916.1,1183.7L914.8,1177.7" fill="none" stroke="#4a744a" stroke-width="0.39199999999999996" stroke-linecap="round"/>
<path d="M916.1,1183.7C917.1,1182.2 916.3,1178.9 914.8,1177.7C914,1179.4 914.6,1182.8 916.1,1183.7Z" fill="#4a744a"/>
<path d="M916.1,1183.7L922.2,1184.5" fill="none" stroke="#4a744a" stroke-width="0.39199999999999996" stroke-linecap="round"/>
<path d="M916.1,1183.7C917.2,1185.2 920.6,1185.5 922.2,1184.5C920.9,1183.1 917.5,1182.5 916.1,1183.7Z" fill="#4a744a"/>
<path d="M917.7,1182C919.6,1182.3 921.4,1180.2 921.1,1178.3C919.2,1178.2 917.2,1180.1 917.7,1182Z" fill="#4a744a"/>
<path d="M908.1,1186.4L895.2,1181" fill="none" stroke="#4a744a" stroke-width="0.5599999999999999" stroke-linecap="round"/>
<path d="M904.9,1185.1L898.6,1189" fill="none" stroke="#4a744a" stroke-width="0.39199999999999996" stroke-linecap="round"/>
<path d="M904.9,1185.1C902.8,1184.5 899.4,1186.8 898.6,1189C901,1189.3 904.5,1187.2 904.9,1185.1Z" fill="#4a744a"/>
<path d="M904.9,1185.1L903.3,1177.8" fill="none" stroke="#4a744a" stroke-width="0.39199999999999996" stroke-linecap="round"/>
<path d="M904.9,1185.1C906.2,1183.3 905.1,1179.3 903.3,1177.8C902.3,1179.9 903,1183.9 904.9,1185.1Z" fill="#4a744a"/>
<path d="M902.3,1184L896.9,1187.4" fill="none" stroke="#4a744a" stroke-width="0.39199999999999996" stroke-linecap="round"/>
<path d="M902.3,1184C900.5,1183.5 897.6,1185.5 896.9,1187.4C898.9,1187.6 902,1185.8 902.3,1184Z" fill="#4a744a"/>
<path d="M902.3,1184L901,1177.6" fill="none" stroke="#4a744a" stroke-width="0.39199999999999996" stroke-linecap="round"/>
<path d="M902.3,1184C903.4,1182.4 902.5,1179 901,1177.6C900.1,1179.5 900.7,1183 902.3,1184Z" fill="#4a744a"/>
<path d="M899.8,1182.9L895.1,1185.8" fill="none" stroke="#4a744a" stroke-width="0.39199999999999996" stroke-linecap="round"/>
<path d="M899.8,1182.9C898.2,1182.5 895.7,1184.2 895.1,1185.8C896.8,1186 899.4,1184.5 899.8,1182.9Z" fill="#4a744a"/>
<path d="M899.8,1182.9L898.6,1177.5" fill="none" stroke="#4a744a" stroke-width="0.39199999999999996" stroke-linecap="round"/>
<path d="M899.8,1182.9C900.7,1181.6 899.9,1178.6 898.6,1177.5C897.8,1179.1 898.4,1182.1 899.8,1182.9Z" fill="#4a744a"/>
<path d="M897.8,1182.1C897.6,1180.4 895.2,1179.5 893.7,1180.4C894.2,1182 896.4,1183.1 897.8,1182.1Z" fill="#4a744a"/>
<path d="M908.1,1186.4L917.6,1176.1" fill="none" stroke="#4a744a" stroke-width="0.5599999999999999" stroke-linecap="round"/>
<path d="M910.5,1183.8L908.9,1176.5" fill="none" stroke="#4a744a" stroke-width="0.39199999999999996" stroke-linecap="round"/>
<path d="M910.5,1183.8C911.8,1182 910.7,1178.1 908.9,1176.5C907.9,1178.7 908.6,1182.7 910.5,1183.8Z" fill="#4a744a"/>
<path d="M910.5,1183.8L917.9,1184.8" fill="none" stroke="#4a744a" stroke-width="0.39199999999999996" stroke-linecap="round"/>
<path d="M910.5,1183.8C911.8,1185.6 915.9,1186 917.9,1184.8C916.3,1183.2 912.2,1182.4 910.5,1183.8Z" fill="#4a744a"/>
<path d="M912.4,1181.8L911,1175.4" fill="none" stroke="#4a744a" stroke-width="0.39199999999999996" stroke-linecap="round"/>
<path d="M912.4,1181.8C913.5,1180.2 912.6,1176.8 911,1175.4C910.2,1177.3 910.8,1180.8 912.4,1181.8Z" fill="#4a744a"/>
<path d="M912.4,1181.8L918.8,1182.6" fill="none" stroke="#4a744a" stroke-width="0.39199999999999996" stroke-linecap="round"/>
<path d="M912.4,1181.8C913.5,1183.3 917.1,1183.6 918.8,1182.6C917.4,1181.2 913.9,1180.6 912.4,1181.8Z" fill="#4a744a"/>
<path d="M914.3,1179.7L913.1,1174.3" fill="none" stroke="#4a744a" stroke-width="0.39199999999999996" stroke-linecap="round"/>
<path d="M914.3,1179.7C915.2,1178.4 914.5,1175.5 913.1,1174.3C912.4,1175.9 912.9,1178.9 914.3,1179.7Z" fill="#4a744a"/>
<path d="M914.3,1179.7L919.8,1180.4" fill="none" stroke="#4a744a" stroke-width="0.39199999999999996" stroke-linecap="round"/>
<path d="M914.3,1179.7C915.3,1181 918.3,1181.3 919.8,1180.4C918.5,1179.2 915.6,1178.7 914.3,1179.7Z" fill="#4a744a"/>
<path d="M915.7,1178.2C917.4,1178.5 919,1176.6 918.8,1174.9C917,1174.8 915.3,1176.5 915.7,1178.2Z" fill="#4a744a"/>
<path d="M907.1,1181.6L895.8,1176.9" fill="none" stroke="#4a744a" stroke-width="0.5599999999999999" stroke-linecap="round"/>
<path d="M904.3,1180.4L898.7,1183.9" fill="none" stroke="#4a744a" stroke-width="0.39199999999999996" stroke-linecap="round"/>
<path d="M904.3,1180.4C902.4,1179.9 899.4,1182 898.7,1183.9C900.8,1184.1 903.9,1182.3 904.3,1180.4Z" fill="#4a744a"/>
<path d="M904.3,1180.4L902.9,1174" fill="none" stroke="#4a744a" stroke-width="0.39199999999999996" stroke-linecap="round"/>
<path d="M904.3,1180.4C905.3,1178.8 904.4,1175.4 902.9,1174C902,1175.9 902.6,1179.4 904.3,1180.4Z" fill="#4a744a"/>
<path d="M902,1179.5L897.2,1182.5" fill="none" stroke="#4a744a" stroke-width="0.39199999999999996" stroke-linecap="round"/>
<path d="M902,1179.5C900.4,1179.1 897.8,1180.8 897.2,1182.5C899,1182.7 901.7,1181.1 902,1179.5Z" fill="#4a744a"/>
<path d="M902,1179.5L900.8,1173.9" fill="none" stroke="#4a744a" stroke-width="0.39199999999999996" stroke-linecap="round"/>
<path d="M902,1179.5C902.9,1178.1 902.2,1175.1 900.8,1173.9C900,1175.5 900.6,1178.6 902,1179.5Z" fill="#4a744a"/>
<path d="M899.7,1178.5L895.7,1181.1" fill="none" stroke="#4a744a" stroke-width="0.39199999999999996" stroke-linecap="round"/>
<path d="M899.7,1178.5C898.4,1178.2 896.2,1179.7 895.7,1181.1C897.2,1181.2 899.5,1179.9 899.7,1178.5Z" fill="#4a744a"/>
<path d="M899.7,1178.5L898.7,1173.8" fill="none" stroke="#4a744a" stroke-width="0.39199999999999996" stroke-linecap="round"/>
<path d="M899.7,1178.5C900.5,1177.4 899.9,1174.8 898.7,1173.8C898.1,1175.2 898.5,1177.8 899.7,1178.5Z" fill="#4a744a"/>
<path d="M898,1177.8C897.8,1176.3 895.8,1175.6 894.4,1176.3C894.9,1177.8 896.8,1178.7 898,1177.8Z" fill="#4a744a"/>
<path d="M907.1,1181.6L915.4,1172.6" fill="none" stroke="#4a744a" stroke-width="0.5599999999999999" stroke-linecap="round"/>
<path d="M909.2,1179.3L907.8,1173" fill="none" stroke="#4a744a" stroke-width="0.39199999999999996" stroke-linecap="round"/>
<path d="M909.2,1179.3C910.3,1177.8 909.4,1174.3 907.8,1173C906.9,1174.8 907.5,1178.4 909.2,1179.3Z" fill="#4a744a"/>
<path d="M909.2,1179.3L915.7,1180.2" fill="none" stroke="#4a744a" stroke-width="0.39199999999999996" stroke-linecap="round"/>
<path d="M909.2,1179.3C910.3,1180.9 913.9,1181.2 915.7,1180.2C914.2,1178.8 910.7,1178.1 909.2,1179.3Z" fill="#4a744a"/>
<path d="M910.8,1177.5L909.6,1172" fill="none" stroke="#4a744a" stroke-width="0.39199999999999996" stroke-linecap="round"/>
<path d="M910.8,1177.5C911.8,1176.2 911,1173.1 909.6,1172C908.9,1173.6 909.4,1176.7 910.8,1177.5Z" fill="#4a744a"/>
<path d="M910.8,1177.5L916.5,1178.3" fill="none" stroke="#4a744a" stroke-width="0.39199999999999996" stroke-linecap="round"/>
<path d="M910.8,1177.5C911.8,1178.9 914.9,1179.2 916.5,1178.3C915.2,1177 912.1,1176.5 910.8,1177.5Z" fill="#4a744a"/>
<path d="M912.5,1175.7L911.5,1171" fill="none" stroke="#4a744a" stroke-width="0.39199999999999996" stroke-linecap="round"/>
<path d="M912.5,1175.7C913.3,1174.6 912.6,1172 911.5,1171C910.8,1172.4 911.3,1175 912.5,1175.7Z" fill="#4a744a"/>
<path d="M912.5,1175.7L917.3,1176.4" fill="none" stroke="#4a744a" stroke-width="0.39199999999999996" stroke-linecap="round"/>
<path d="M912.5,1175.7C913.3,1176.9 916,1177.1 917.3,1176.4C916.2,1175.3 913.6,1174.8 912.5,1175.7Z" fill="#4a744a"/>
<path d="M913.8,1174.4C915.3,1174.7 916.6,1173 916.4,1171.5C914.9,1171.4 913.3,1172.9 913.8,1174.4Z" fill="#4a744a"/>
<path d="M906.4,1178.4C909.4,1175.6 907.8,1170 904.2,1168.2C901.6,1171.4 902.5,1177.1 906.4,1178.4Z" fill="#4a744a"/>
<path d="M908,1206L870,1222" fill="none" stroke="#4a744a" stroke-width="0.8" stroke-linecap="round"/>
<path d="M898.5,1210L893.9,1231.5" fill="none" stroke="#4a744a" stroke-width="0.5599999999999999" stroke-linecap="round"/>
<path d="M897.3,1215.4L905.3,1223.9" fill="none" stroke="#4a744a" stroke-width="0.39199999999999996" stroke-linecap="round"/>
<path d="M897.3,1215.4C897.1,1218.8 901.7,1223.3 905.3,1223.9C905,1220.3 900.8,1215.4 897.3,1215.4Z" fill="#4a744a"/>
<path d="M897.3,1215.4L886.6,1219.9" fill="none" stroke="#4a744a" stroke-width="0.39199999999999996" stroke-linecap="round"/>
<path d="M897.3,1215.4C894.2,1214 888.4,1216.7 886.6,1219.9C890.1,1220.8 896.2,1218.6 897.3,1215.4Z" fill="#4a744a"/>
<path d="M896.4,1219.7L903.3,1227.1" fill="none" stroke="#4a744a" stroke-width="0.39199999999999996" stroke-linecap="round"/>
<path d="M896.4,1219.7C896.2,1222.6 900.2,1226.6 903.3,1227.1C903,1223.9 899.4,1219.7 896.4,1219.7Z" fill="#4a744a"/>
<path d="M896.4,1219.7L887.1,1223.6" fill="none" stroke="#4a744a" stroke-width="0.39199999999999996" stroke-linecap="round"/>
<path d="M896.4,1219.7C893.7,1218.4 888.6,1220.8 887.1,1223.6C890.2,1224.4 895.4,1222.4 896.4,1219.7Z" fill="#4a744a"/>
<path d="M895.5,1224L901.4,1230.3" fill="none" stroke="#4a744a" stroke-width="0.39199999999999996" stroke-linecap="round"/>
<path d="M895.5,1224C895.3,1226.5 898.7,1229.8 901.4,1230.3C901.1,1227.6 898,1224 895.5,1224Z" fill="#4a744a"/>
<path d="M895.5,1224L887.6,1227.3" fill="none" stroke="#4a744a" stroke-width="0.39199999999999996" stroke-linecap="round"/>
<path d="M895.5,1224C893.2,1222.9 888.9,1224.9 887.6,1227.3C890.2,1228 894.6,1226.3 895.5,1224Z" fill="#4a744a"/>
<path d="M894.8,1227.2C892.2,1228 891.6,1231.9 893.3,1234C895.7,1232.8 896.8,1229 894.8,1227.2Z" fill="#4a744a"/>
<path d="M898.5,1210L879.9,1198.3" fill="none" stroke="#4a744a" stroke-width="0.5599999999999999" stroke-linecap="round"/>
<path d="M893.9,1207.1L883.1,1211.6" fill="none" stroke="#4a744a" stroke-width="0.39199999999999996" stroke-linecap="round"/>
<path d="M893.9,1207.1C890.7,1205.7 884.9,1208.4 883.1,1211.6C886.6,1212.5 892.7,1210.3 893.9,1207.1Z" fill="#4a744a"/>
<path d="M893.9,1207.1L893.3,1195.4" fill="none" stroke="#4a744a" stroke-width="0.39199999999999996" stroke-linecap="round"/>
<path d="M893.9,1207.1C896.2,1204.6 895.7,1198.2 893.3,1195.4C891.2,1198.4 891.2,1204.9 893.9,1207.1Z" fill="#4a744a"/>
<path d="M890.1,1204.7L880.8,1208.7" fill="none" stroke="#4a744a" stroke-width="0.39199999999999996" stroke-linecap="round"/>
<path d="M890.1,1204.7C887.4,1203.5 882.4,1205.9 880.8,1208.7C883.9,1209.5 889.1,1207.5 890.1,1204.7Z" fill="#4a744a"/>
<path d="M890.1,1204.7L889.6,1194.6" fill="none" stroke="#4a744a" stroke-width="0.39199999999999996" stroke-linecap="round"/>
<path d="M890.1,1204.7C892.2,1202.6 891.7,1197 889.6,1194.6C887.8,1197.2 887.9,1202.8 890.1,1204.7Z" fill="#4a744a"/>
<path d="M886.4,1202.4L878.5,1205.7" fill="none" stroke="#4a744a" stroke-width="0.39199999999999996" stroke-linecap="round"/>
<path d="M886.4,1202.4C884.1,1201.4 879.8,1203.4 878.5,1205.7C881.1,1206.4 885.5,1204.8 886.4,1202.4Z" fill="#4a744a"/>
<path d="M886.4,1202.4L886,1193.8" fill="none" stroke="#4a744a" stroke-width="0.39199999999999996" stroke-linecap="round"/>
<path d="M886.4,1202.4C888.2,1200.6 887.8,1195.9 886,1193.8C884.4,1196 884.5,1200.8 886.4,1202.4Z" fill="#4a744a"/>
<path d="M883.6,1200.6C883.7,1197.9 880.3,1196.1 877.7,1196.9C878,1199.6 881.2,1201.9 883.6,1200.6Z" fill="#4a744a"/>
<path d="M892.8,1212.4L888.6,1231.7" fill="none" stroke="#4a744a" stroke-width="0.5599999999999999" stroke-linecap="round"/>
<path d="M891.8,1217.2L898.9,1225" fill="none" stroke="#4a744a" stroke-width="0.39199999999999996" stroke-linecap="round"/>
<path d="M891.8,1217.2C891.5,1220.3 895.6,1224.4 898.9,1225C898.6,1221.7 894.8,1217.3 891.8,1217.2Z" fill="#4a744a"/>
<path d="M891.8,1217.2L882,1221.3" fill="none" stroke="#4a744a" stroke-width="0.39199999999999996" stroke-linecap="round"/>
<path d="M891.8,1217.2C888.9,1216 883.7,1218.4 882,1221.3C885.3,1222.2 890.7,1220.1 891.8,1217.2Z" fill="#4a744a"/>
<path d="M890.9,1221.1L897.1,1227.8" fill="none" stroke="#4a744a" stroke-width="0.39199999999999996" stroke-linecap="round"/>
<path d="M890.9,1221.1C890.7,1223.8 894.3,1227.3 897.1,1227.8C896.9,1224.9 893.6,1221.1 890.9,1221.1Z" fill="#4a744a"/>
<path d="M890.9,1221.1L882.5,1224.7" fill="none" stroke="#4a744a" stroke-width="0.39199999999999996" stroke-linecap="round"/>
<path d="M890.9,1221.1C888.5,1220 883.9,1222.2 882.5,1224.7C885.3,1225.4 890,1223.6 890.9,1221.1Z" fill="#4a744a"/>
<path d="M890.1,1225L895.4,1230.7" fill="none" stroke="#4a744a" stroke-width="0.39199999999999996" stroke-linecap="round"/>
<path d="M890.1,1225C889.9,1227.2 893,1230.3 895.4,1230.7C895.1,1228.2 892.4,1225 890.1,1225Z" fill="#4a744a"/>
<path d="M890.1,1225L882.9,1228" fill="none" stroke="#4a744a" stroke-width="0.39199999999999996" stroke-linecap="round"/>
<path d="M890.1,1225C888,1224.1 884.1,1225.9 882.9,1228C885.3,1228.6 889.3,1227.1 890.1,1225Z" fill="#4a744a"/>
<path d="M889.5,1227.9C887.1,1228.7 886.6,1232.1 888.1,1234.1C890.3,1232.9 891.3,1229.6 889.5,1227.9Z" fill="#4a744a"/>
<path d="M892.8,1212.4L876,1201.9" fill="none" stroke="#4a744a" stroke-width="0.5599999999999999" stroke-linecap="round"/>
<path d="M888.6,1209.8L878.9,1213.9" fill="none" stroke="#4a744a" stroke-width="0.39199999999999996" stroke-linecap="round"/>
<path d="M888.6,1209.8C885.8,1208.5 880.5,1211 878.9,1213.9C882.1,1214.7 887.5,1212.7 888.6,1209.8Z" fill="#4a744a"/>
<path d="M888.6,1209.8L888.1,1199.2" fill="none" stroke="#4a744a" stroke-width="0.39199999999999996" stroke-linecap="round"/>
<path d="M888.6,1209.8C890.8,1207.5 890.2,1201.8 888.1,1199.2C886.2,1202 886.3,1207.8 888.6,1209.8Z" fill="#4a744a"/>
<path d="M885.3,1207.7L876.8,1211.2" fill="none" stroke="#4a744a" stroke-width="0.39199999999999996" stroke-linecap="round"/>
<path d="M885.3,1207.7C882.8,1206.6 878.3,1208.7 876.8,1211.2C879.6,1211.9 884.3,1210.2 885.3,1207.7Z" fill="#4a744a"/>
<path d="M885.3,1207.7L884.8,1198.5" fill="none" stroke="#4a744a" stroke-width="0.39199999999999996" stroke-linecap="round"/>
<path d="M885.3,1207.7C887.1,1205.7 886.7,1200.7 884.8,1198.5C883.2,1200.9 883.2,1205.9 885.3,1207.7Z" fill="#4a744a"/>
<path d="M881.9,1205.6L874.8,1208.6" fill="none" stroke="#4a744a" stroke-width="0.39199999999999996" stroke-linecap="round"/>
<path d="M881.9,1205.6C879.8,1204.6 876,1206.4 874.8,1208.6C877.1,1209.2 881.1,1207.7 881.9,1205.6Z" fill="#4a744a"/>
<path d="M881.9,1205.6L881.5,1197.8" fill="none" stroke="#4a744a" stroke-width="0.39199999999999996" stroke-linecap="round"/>
<path d="M881.9,1205.6C883.5,1203.9 883.1,1199.7 881.5,1197.8C880.1,1199.8 880.2,1204.1 881.9,1205.6Z" fill="#4a744a"/>
<path d="M879.4,1204C879.4,1201.5 876.4,1199.8 874,1200.6C874.4,1203.1 877.2,1205.1 879.4,1204Z" fill="#4a744a"/>
<path d="M887.1,1214.8L883.4,1232" fill="none" stroke="#4a744a" stroke-width="0.5599999999999999" stroke-linecap="round"/>
<path d="M886.2,1219.1L892.6,1226" fill="none" stroke="#4a744a" stroke-width="0.39199999999999996" stroke-linecap="round"/>
<path d="M886.2,1219.1C886,1221.8 889.6,1225.5 892.6,1226C892.3,1223 888.9,1219.1 886.2,1219.1Z" fill="#4a744a"/>
<path d="M886.2,1219.1L877.5,1222.7" fill="none" stroke="#4a744a" stroke-width="0.39199999999999996" stroke-linecap="round"/>
<path d="M886.2,1219.1C883.7,1218 879,1220.2 877.5,1222.7C880.4,1223.5 885.2,1221.7 886.2,1219.1Z" fill="#4a744a"/>
<path d="M885.4,1222.6L891,1228.5" fill="none" stroke="#4a744a" stroke-width="0.39199999999999996" stroke-linecap="round"/>
<path d="M885.4,1222.6C885.3,1224.9 888.4,1228.1 891,1228.5C890.7,1226 887.8,1222.6 885.4,1222.6Z" fill="#4a744a"/>
<path d="M885.4,1222.6L877.9,1225.7" fill="none" stroke="#4a744a" stroke-width="0.39199999999999996" stroke-linecap="round"/>
<path d="M885.4,1222.6C883.3,1221.6 879.2,1223.5 877.9,1225.7C880.4,1226.4 884.6,1224.8 885.4,1222.6Z" fill="#4a744a"/>
<path d="M884.7,1226L889.4,1231.1" fill="none" stroke="#4a744a" stroke-width="0.39199999999999996" stroke-linecap="round"/>
<path d="M884.7,1226C884.5,1228 887.2,1230.7 889.4,1231.1C889.2,1228.9 886.7,1226 884.7,1226Z" fill="#4a744a"/>
<path d="M884.7,1226L878.3,1228.7" fill="none" stroke="#4a744a" stroke-width="0.39199999999999996" stroke-linecap="round"/>
<path d="M884.7,1226C882.8,1225.2 879.4,1226.8 878.3,1228.7C880.4,1229.2 884,1227.9 884.7,1226Z" fill="#4a744a"/>
<path d="M884.1,1228.6C882.1,1229.3 881.6,1232.4 882.9,1234.1C884.9,1233.1 885.7,1230.1 884.1,1228.6Z" fill="#4a744a"/>
<path d="M887.1,1214.8L872.2,1205.4" fill="none" stroke="#4a744a" stroke-width="0.5599999999999999" stroke-linecap="round"/>
<path d="M883.4,1212.5L874.7,1216.1" fill="none" stroke="#4a744a" stroke-width="0.39199999999999996" stroke-linecap="round"/>
<path d="M883.4,1212.5C880.9,1211.3 876.2,1213.5 874.7,1216.1C877.6,1216.8 882.4,1215 883.4,1212.5Z" fill="#4a744a"/>
<path d="M883.4,1212.5L882.9,1203.1" fill="none" stroke="#4a744a" stroke-width="0.39199999999999996" stroke-linecap="round"/>
<path d="M883.4,1212.5C885.3,1210.5 884.8,1205.3 882.9,1203.1C881.2,1205.5 881.3,1210.7 883.4,1212.5Z" fill="#4a744a"/>
<path d="M880.4,1210.6L872.9,1213.7" fill="none" stroke="#4a744a" stroke-width="0.39199999999999996" stroke-linecap="round"/>
<path d="M880.4,1210.6C878.2,1209.6 874.1,1211.5 872.9,1213.7C875.4,1214.4 879.6,1212.8 880.4,1210.6Z" fill="#4a744a"/>
<path d="M880.4,1210.6L880,1202.4" fill="none" stroke="#4a744a" stroke-width="0.39199999999999996" stroke-linecap="round"/>
<path d="M880.4,1210.6C882,1208.9 881.6,1204.4 880,1202.4C878.5,1204.5 878.6,1209 880.4,1210.6Z" fill="#4a744a"/>
<path d="M877.4,1208.7L871,1211.4" fill="none" stroke="#4a744a" stroke-width="0.39199999999999996" stroke-linecap="round"/>
<path d="M877.4,1208.7C875.6,1207.9 872.1,1209.5 871,1211.4C873.1,1211.9 876.7,1210.6 877.4,1208.7Z" fill="#4a744a"/>
<path d="M877.4,1208.7L877.1,1201.8" fill="none" stroke="#4a744a" stroke-width="0.39199999999999996" stroke-linecap="round"/>
<path d="M877.4,1208.7C878.8,1207.2 878.5,1203.5 877.1,1201.8C875.8,1203.6 875.9,1207.4 877.4,1208.7Z" fill="#4a744a"/>
<path d="M875.2,1207.3C875.2,1205.1 872.5,1203.6 870.4,1204.3C870.7,1206.5 873.2,1208.3 875.2,1207.3Z" fill="#4a744a"/>
<path d="M881.4,1217.2L878.1,1232.3" fill="none" stroke="#4a744a" stroke-width="0.5599999999999999" stroke-linecap="round"/>
<path d="M880.6,1221L886.2,1227" fill="none" stroke="#4a744a" stroke-width="0.39199999999999996" stroke-linecap="round"/>
<path d="M880.6,1221C880.4,1223.4 883.6,1226.6 886.2,1227C885.9,1224.4 883,1221 880.6,1221Z" fill="#4a744a"/>
<path d="M880.6,1221L873,1224.2" fill="none" stroke="#4a744a" stroke-width="0.39199999999999996" stroke-linecap="round"/>
<path d="M880.6,1221C878.4,1220 874.3,1221.9 873,1224.2C875.5,1224.8 879.7,1223.2 880.6,1221Z" fill="#4a744a"/>
<path d="M879.9,1224L884.8,1229.2" fill="none" stroke="#4a744a" stroke-width="0.39199999999999996" stroke-linecap="round"/>
<path d="M879.9,1224C879.8,1226.1 882.6,1228.9 884.8,1229.2C884.6,1227 882,1224 879.9,1224Z" fill="#4a744a"/>
<path d="M879.9,1224L873.3,1226.8" fill="none" stroke="#4a744a" stroke-width="0.39199999999999996" stroke-linecap="round"/>
<path d="M879.9,1224C878,1223.2 874.5,1224.8 873.3,1226.8C875.5,1227.3 879.2,1226 879.9,1224Z" fill="#4a744a"/>
<path d="M879.3,1227L883.4,1231.5" fill="none" stroke="#4a744a" stroke-width="0.39199999999999996" stroke-linecap="round"/>
<path d="M879.3,1227C879.2,1228.8 881.5,1231.2 883.4,1231.5C883.2,1229.6 881.1,1227 879.3,1227Z" fill="#4a744a"/>
<path d="M879.3,1227L873.7,1229.4" fill="none" stroke="#4a744a" stroke-width="0.39199999999999996" stroke-linecap="round"/>
<path d="M879.3,1227C877.7,1226.3 874.6,1227.7 873.7,1229.4C875.5,1229.9 878.7,1228.7 879.3,1227Z" fill="#4a744a"/>
<path d="M878.8,1229.3C877,1229.9 876.6,1232.6 877.8,1234.1C879.5,1233.2 880.2,1230.6 878.8,1229.3Z" fill="#4a744a"/>
<path d="M881.4,1217.2L868.3,1209" fill="none" stroke="#4a744a" stroke-width="0.5599999999999999" stroke-linecap="round"/>
<path d="M878.1,1215.1L870.5,1218.3" fill="none" stroke="#4a744a" stroke-width="0.39199999999999996" stroke-linecap="round"/>
<path d="M878.1,1215.1C875.9,1214.2 871.8,1216.1 870.5,1218.3C873.1,1219 877.3,1217.4 878.1,1215.1Z" fill="#4a744a"/>
<path d="M878.1,1215.1L877.7,1206.9" fill="none" stroke="#4a744a" stroke-width="0.39199999999999996" stroke-linecap="round"/>
<path d="M878.1,1215.1C879.8,1213.4 879.4,1208.9 877.7,1206.9C876.2,1209.1 876.3,1213.6 878.1,1215.1Z" fill="#4a744a"/>
<path d="M875.5,1213.5L868.9,1216.3" fill="none" stroke="#4a744a" stroke-width="0.39199999999999996" stroke-linecap="round"/>
<path d="M875.5,1213.5C873.6,1212.6 870,1214.3 868.9,1216.3C871.1,1216.8 874.8,1215.5 875.5,1213.5Z" fill="#4a744a"/>
<path d="M875.5,1213.5L875.2,1206.4" fill="none" stroke="#4a744a" stroke-width="0.39199999999999996" stroke-linecap="round"/>
<path d="M875.5,1213.5C877,1212 876.6,1208.1 875.2,1206.4C873.9,1208.2 873.9,1212.1 875.5,1213.5Z" fill="#4a744a"/>
<path d="M872.9,1211.8L867.3,1214.2" fill="none" stroke="#4a744a" stroke-width="0.39199999999999996" stroke-linecap="round"/>
<path d="M872.9,1211.8C871.3,1211.1 868.2,1212.5 867.3,1214.2C869.1,1214.7 872.3,1213.5 872.9,1211.8Z" fill="#4a744a"/>
<path d="M872.9,1211.8L872.6,1205.8" fill="none" stroke="#4a744a" stroke-width="0.39199999999999996" stroke-linecap="round"/>
<path d="M872.9,1211.8C874.1,1210.6 873.8,1207.2 872.6,1205.8C871.5,1207.4 871.5,1210.7 872.9,1211.8Z" fill="#4a744a"/>
<path d="M870.9,1210.6C871,1208.7 868.6,1207.4 866.7,1208C867,1209.9 869.2,1211.5 870.9,1210.6Z" fill="#4a744a"/>
<path d="M877.6,1218.8C873.5,1215.8 866.9,1219 865.4,1223.9C870,1226.3 876.9,1223.9 877.6,1218.8Z" fill="#4a744a"/>
<path d="M914,1206L938,1190" fill="none" stroke="#4a744a" stroke-width="0.8" stroke-linecap="round"/>
<path d="M920,1202L920.4,1186.6" fill="none" stroke="#4a744a" stroke-width="0.5599999999999999" stroke-linecap="round"/>
<path d="M920.1,1198.2L913.5,1193.3" fill="none" stroke="#4a744a" stroke-width="0.39199999999999996" stroke-linecap="round"/>
<path d="M920.1,1198.2C919.8,1195.8 916.1,1193.3 913.5,1193.3C914.2,1195.8 917.7,1198.6 920.1,1198.2Z" fill="#4a744a"/>
<path d="M920.1,1198.2L926.9,1193.6" fill="none" stroke="#4a744a" stroke-width="0.39199999999999996" stroke-linecap="round"/>
<path d="M920.1,1198.2C922.4,1198.7 926.1,1196.1 926.9,1193.6C924.3,1193.5 920.5,1195.8 920.1,1198.2Z" fill="#4a744a"/>
<path d="M920.2,1195.1L914.4,1190.9" fill="none" stroke="#4a744a" stroke-width="0.39199999999999996" stroke-linecap="round"/>
<path d="M920.2,1195.1C919.9,1193 916.7,1190.8 914.4,1190.9C915.1,1193 918.1,1195.5 920.2,1195.1Z" fill="#4a744a"/>
<path d="M920.2,1195.1L926.1,1191.1" fill="none" stroke="#4a744a" stroke-width="0.39199999999999996" stroke-linecap="round"/>
<path d="M920.2,1195.1C922.2,1195.6 925.3,1193.3 926.1,1191.1C923.8,1191 920.5,1193 920.2,1195.1Z" fill="#4a744a"/>
<path d="M920.2,1192L915.4,1188.4" fill="none" stroke="#4a744a" stroke-width="0.39199999999999996" stroke-linecap="round"/>
<path d="M920.2,1192C920,1190.3 917.3,1188.4 915.4,1188.4C915.9,1190.3 918.5,1192.3 920.2,1192Z" fill="#4a744a"/>
<path d="M920.2,1192L925.2,1188.7" fill="none" stroke="#4a744a" stroke-width="0.39199999999999996" stroke-linecap="round"/>
<path d="M920.2,1192C921.9,1192.4 924.6,1190.5 925.2,1188.7C923.3,1188.5 920.5,1190.3 920.2,1192Z" fill="#4a744a"/>
<path d="M920.3,1189.7C921.9,1188.8 921.8,1186.1 920.4,1184.8C918.9,1186 918.7,1188.7 920.3,1189.7Z" fill="#4a744a"/>
<path d="M920,1202L934.3,1207.6" fill="none" stroke="#4a744a" stroke-width="0.5599999999999999" stroke-linecap="round"/>
<path d="M923.6,1203.4L930.4,1198.9" fill="none" stroke="#4a744a" stroke-width="0.39199999999999996" stroke-linecap="round"/>
<path d="M923.6,1203.4C925.9,1203.9 929.6,1201.3 930.4,1198.9C927.8,1198.7 924,1201 923.6,1203.4Z" fill="#4a744a"/>
<path d="M923.6,1203.4L925.5,1211.3" fill="none" stroke="#4a744a" stroke-width="0.39199999999999996" stroke-linecap="round"/>
<path d="M923.6,1203.4C922.3,1205.4 923.5,1209.7 925.5,1211.3C926.6,1209 925.7,1204.6 923.6,1203.4Z" fill="#4a744a"/>
<path d="M926.4,1204.5L932.4,1200.6" fill="none" stroke="#4a744a" stroke-width="0.39199999999999996" stroke-linecap="round"/>
<path d="M926.4,1204.5C928.5,1205 931.6,1202.7 932.4,1200.6C930.1,1200.4 926.8,1202.5 926.4,1204.5Z" fill="#4a744a"/>
<path d="M926.4,1204.5L928.1,1211.4" fill="none" stroke="#4a744a" stroke-width="0.39199999999999996" stroke-linecap="round"/>
<path d="M926.4,1204.5C925.3,1206.3 926.4,1210 928.1,1211.4C929,1209.4 928.2,1205.5 926.4,1204.5Z" fill="#4a744a"/>
<path d="M929.3,1205.6L934.3,1202.3" fill="none" stroke="#4a744a" stroke-width="0.39199999999999996" stroke-linecap="round"/>
<path d="M929.3,1205.6C931,1206 933.7,1204.1 934.3,1202.3C932.4,1202.2 929.6,1203.9 929.3,1205.6Z" fill="#4a744a"/>
<path d="M929.3,1205.6L930.7,1211.5" fill="none" stroke="#4a744a" stroke-width="0.39199999999999996" stroke-linecap="round"/>
<path d="M929.3,1205.6C928.3,1207.1 929.2,1210.3 930.7,1211.5C931.5,1209.7 930.8,1206.5 929.3,1205.6Z" fill="#4a744a"/>
<path d="M931.4,1206.5C931.8,1208.3 934.3,1209.2 936,1208.3C935.4,1206.4 933,1205.3 931.4,1206.5Z" fill="#4a744a"/>
<path d="M923.6,1199.6L923.9,1185.8" fill="none" stroke="#4a744a" stroke-width="0.5599999999999999" stroke-linecap="round"/>
<path d="M923.7,1196.1L917.7,1191.8" fill="none" stroke="#4a744a" stroke-width="0.39199999999999996" stroke-linecap="round"/>
<path d="M923.7,1196.1C923.4,1194 920.1,1191.7 917.7,1191.8C918.4,1194 921.6,1196.5 923.7,1196.1Z" fill="#4a744a"/>
<path d="M923.7,1196.1L929.8,1192" fill="none" stroke="#4a744a" stroke-width="0.39199999999999996" stroke-linecap="round"/>
<path d="M923.7,1196.1C925.8,1196.6 929.1,1194.3 929.8,1192C927.5,1191.9 924,1194 923.7,1196.1Z" fill="#4a744a"/>
<path d="M923.7,1193.4L918.6,1189.6" fill="none" stroke="#4a744a" stroke-width="0.39199999999999996" stroke-linecap="round"/>
<path d="M923.7,1193.4C923.5,1191.5 920.6,1189.5 918.6,1189.6C919.1,1191.5 921.9,1193.7 923.7,1193.4Z" fill="#4a744a"/>
<path d="M923.7,1193.4L929.1,1189.8" fill="none" stroke="#4a744a" stroke-width="0.39199999999999996" stroke-linecap="round"/>
<path d="M923.7,1193.4C925.6,1193.8 928.4,1191.7 929.1,1189.8C927.1,1189.7 924.1,1191.5 923.7,1193.4Z" fill="#4a744a"/>
<path d="M923.8,1190.6L919.4,1187.4" fill="none" stroke="#4a744a" stroke-width="0.39199999999999996" stroke-linecap="round"/>
<path d="M923.8,1190.6C923.6,1189 921.1,1187.3 919.4,1187.4C919.9,1189 922.2,1190.9 923.8,1190.6Z" fill="#4a744a"/>
<path d="M923.8,1190.6L928.3,1187.6" fill="none" stroke="#4a744a" stroke-width="0.39199999999999996" stroke-linecap="round"/>
<path d="M923.8,1190.6C925.4,1191 927.8,1189.2 928.3,1187.6C926.6,1187.5 924.1,1189 923.8,1190.6Z" fill="#4a744a"/>
<path d="M923.9,1188.5C925.3,1187.7 925.3,1185.2 924,1184.1C922.6,1185.2 922.4,1187.6 923.9,1188.5Z" fill="#4a744a"/>
<path d="M923.6,1199.6L936.5,1204.6" fill="none" stroke="#4a744a" stroke-width="0.5599999999999999" stroke-linecap="round"/>
<path d="M926.8,1200.9L933,1196.8" fill="none" stroke="#4a744a" stroke-width="0.39199999999999996" stroke-linecap="round"/>
<path d="M926.8,1200.9C928.9,1201.3 932.2,1199 933,1196.8C930.6,1196.6 927.2,1198.7 926.8,1200.9Z" fill="#4a744a"/>
<path d="M926.8,1200.9L928.6,1208" fill="none" stroke="#4a744a" stroke-width="0.39199999999999996" stroke-linecap="round"/>
<path d="M926.8,1200.9C925.6,1202.7 926.8,1206.6 928.6,1208C929.5,1205.9 928.7,1201.9 926.8,1200.9Z" fill="#4a744a"/>
<path d="M929.4,1201.9L934.7,1198.3" fill="none" stroke="#4a744a" stroke-width="0.39199999999999996" stroke-linecap="round"/>
<path d="M929.4,1201.9C931.2,1202.3 934.1,1200.2 934.7,1198.3C932.7,1198.2 929.7,1200 929.4,1201.9Z" fill="#4a744a"/>
<path d="M929.4,1201.9L930.9,1208.1" fill="none" stroke="#4a744a" stroke-width="0.39199999999999996" stroke-linecap="round"/>
<path d="M929.4,1201.9C928.4,1203.4 929.3,1206.8 930.9,1208.1C931.7,1206.2 931,1202.8 929.4,1201.9Z" fill="#4a744a"/>
<path d="M932,1202.9L936.5,1199.9" fill="none" stroke="#4a744a" stroke-width="0.39199999999999996" stroke-linecap="round"/>
<path d="M932,1202.9C933.5,1203.2 936,1201.5 936.5,1199.9C934.8,1199.7 932.2,1201.3 932,1202.9Z" fill="#4a744a"/>
<path d="M932,1202.9L933.3,1208.2" fill="none" stroke="#4a744a" stroke-width="0.39199999999999996" stroke-linecap="round"/>
<path d="M932,1202.9C931.1,1204.2 931.9,1207.1 933.3,1208.2C934,1206.6 933.4,1203.7 932,1202.9Z" fill="#4a744a"/>
<path d="M933.9,1203.6C934.2,1205.3 936.5,1206.1 938,1205.2C937.5,1203.6 935.3,1202.6 933.9,1203.6Z" fill="#4a744a"/>
<path d="M927.2,1197.2L927.5,1184.9" fill="none" stroke="#4a744a" stroke-width="0.5599999999999999" stroke-linecap="round"/>
<path d="M927.3,1194.1L922,1190.2" fill="none" stroke="#4a744a" stroke-width="0.39199999999999996" stroke-linecap="round"/>
<path d="M927.3,1194.1C927,1192.2 924,1190.2 922,1190.2C922.6,1192.2 925.4,1194.5 927.3,1194.1Z" fill="#4a744a"/>
<path d="M927.3,1194.1L932.7,1190.5" fill="none" stroke="#4a744a" stroke-width="0.39199999999999996" stroke-linecap="round"/>
<path d="M927.3,1194.1C929.1,1194.6 932.1,1192.4 932.7,1190.5C930.7,1190.3 927.6,1192.2 927.3,1194.1Z" fill="#4a744a"/>
<path d="M927.3,1191.7L922.7,1188.3" fill="none" stroke="#4a744a" stroke-width="0.39199999999999996" stroke-linecap="round"/>
<path d="M927.3,1191.7C927.1,1190 924.5,1188.2 922.7,1188.3C923.2,1190 925.7,1192 927.3,1191.7Z" fill="#4a744a"/>
<path d="M927.3,1191.7L932.1,1188.5" fill="none" stroke="#4a744a" stroke-width="0.39199999999999996" stroke-linecap="round"/>
<path d="M927.3,1191.7C929,1192 931.5,1190.2 932.1,1188.5C930.3,1188.4 927.6,1190 927.3,1191.7Z" fill="#4a744a"/>
<path d="M927.4,1189.2L923.5,1186.3" fill="none" stroke="#4a744a" stroke-width="0.39199999999999996" stroke-linecap="round"/>
<path d="M927.4,1189.2C927.2,1187.8 925,1186.3 923.5,1186.3C923.9,1187.8 926,1189.4 927.4,1189.2Z" fill="#4a744a"/>
<path d="M927.4,1189.2L931.4,1186.5" fill="none" stroke="#4a744a" stroke-width="0.39199999999999996" stroke-linecap="round"/>
<path d="M927.4,1189.2C928.8,1189.5 930.9,1187.9 931.4,1186.5C929.9,1186.4 927.6,1187.8 927.4,1189.2Z" fill="#4a744a"/>
<path d="M927.4,1187.3C928.8,1186.6 928.7,1184.4 927.5,1183.4C926.3,1184.4 926.1,1186.5 927.4,1187.3Z" fill="#4a744a"/>
<path d="M927.2,1197.2L938.7,1201.7" fill="none" stroke="#4a744a" stroke-width="0.5599999999999999" stroke-linecap="round"/>
<path d="M930.1,1198.3L935.5,1194.7" fill="none" stroke="#4a744a" stroke-width="0.39199999999999996" stroke-linecap="round"/>
<path d="M930.1,1198.3C931.9,1198.8 934.9,1196.6 935.5,1194.7C933.5,1194.5 930.4,1196.4 930.1,1198.3Z" fill="#4a744a"/>
<path d="M930.1,1198.3L931.6,1204.7" fill="none" stroke="#4a744a" stroke-width="0.39199999999999996" stroke-linecap="round"/>
<path d="M930.1,1198.3C929,1199.9 930,1203.4 931.6,1204.7C932.5,1202.8 931.7,1199.3 930.1,1198.3Z" fill="#4a744a"/>
<path d="M932.4,1199.2L937.1,1196.1" fill="none" stroke="#4a744a" stroke-width="0.39199999999999996" stroke-linecap="round"/>
<path d="M932.4,1199.2C934,1199.6 936.5,1197.8 937.1,1196.1C935.3,1195.9 932.6,1197.6 932.4,1199.2Z" fill="#4a744a"/>
<path d="M932.4,1199.2L933.7,1204.8" fill="none" stroke="#4a744a" stroke-width="0.39199999999999996" stroke-linecap="round"/>
<path d="M932.4,1199.2C931.5,1200.6 932.3,1203.6 933.7,1204.8C934.4,1203.1 933.8,1200 932.4,1199.2Z" fill="#4a744a"/>
<path d="M934.7,1200.1L938.7,1197.4" fill="none" stroke="#4a744a" stroke-width="0.39199999999999996" stroke-linecap="round"/>
<path d="M934.7,1200.1C936,1200.4 938.2,1198.9 938.7,1197.4C937.2,1197.3 934.9,1198.7 934.7,1200.1Z" fill="#4a744a"/>
<path d="M934.7,1200.1L935.8,1204.8" fill="none" stroke="#4a744a" stroke-width="0.39199999999999996" stroke-linecap="round"/>
<path d="M934.7,1200.1C933.9,1201.3 934.6,1203.9 935.8,1204.8C936.4,1203.4 935.9,1200.8 934.7,1200.1Z" fill="#4a744a"/>
<path d="M936.4,1200.8C936.6,1202.3 938.7,1203 940.1,1202.2C939.6,1200.8 937.6,1199.8 936.4,1200.8Z" fill="#4a744a"/>
<path d="M930.8,1194.8L931,1184" fill="none" stroke="#4a744a" stroke-width="0.5599999999999999" stroke-linecap="round"/>
<path d="M930.9,1192.1L926.2,1188.7" fill="none" stroke="#4a744a" stroke-width="0.39199999999999996" stroke-linecap="round"/>
<path d="M930.9,1192.1C930.7,1190.4 928,1188.6 926.2,1188.7C926.7,1190.4 929.2,1192.4 930.9,1192.1Z" fill="#4a744a"/>
<path d="M930.9,1192.1L935.7,1188.9" fill="none" stroke="#4a744a" stroke-width="0.39199999999999996" stroke-linecap="round"/>
<path d="M930.9,1192.1C932.5,1192.5 935.1,1190.6 935.7,1188.9C933.8,1188.8 931.1,1190.4 930.9,1192.1Z" fill="#4a744a"/>
<path d="M930.9,1189.9L926.9,1187" fill="none" stroke="#4a744a" stroke-width="0.39199999999999996" stroke-linecap="round"/>
<path d="M930.9,1189.9C930.7,1188.5 928.5,1186.9 926.9,1187C927.3,1188.5 929.5,1190.2 930.9,1189.9Z" fill="#4a744a"/>
<path d="M930.9,1189.9L935.1,1187.2" fill="none" stroke="#4a744a" stroke-width="0.39199999999999996" stroke-linecap="round"/>
<path d="M930.9,1189.9C932.3,1190.3 934.6,1188.7 935.1,1187.2C933.5,1187.1 931.2,1188.5 930.9,1189.9Z" fill="#4a744a"/>
<path d="M931,1187.8L927.5,1185.3" fill="none" stroke="#4a744a" stroke-width="0.39199999999999996" stroke-linecap="round"/>
<path d="M931,1187.8C930.8,1186.5 928.9,1185.2 927.5,1185.3C927.9,1186.6 929.7,1188 931,1187.8Z" fill="#4a744a"/>
<path d="M931,1187.8L934.5,1185.4" fill="none" stroke="#4a744a" stroke-width="0.39199999999999996" stroke-linecap="round"/>
<path d="M931,1187.8C932.2,1188.1 934.1,1186.7 934.5,1185.4C933.1,1185.3 931.1,1186.5 931,1187.8Z" fill="#4a744a"/>
<path d="M931,1186.1C932.2,1185.5 932.1,1183.6 931.1,1182.7C930,1183.5 929.9,1185.4 931,1186.1Z" fill="#4a744a"/>
<path d="M930.8,1194.8L940.9,1198.7" fill="none" stroke="#4a744a" stroke-width="0.5599999999999999" stroke-linecap="round"/>
<path d="M933.3,1195.8L938.1,1192.6" fill="none" stroke="#4a744a" stroke-width="0.39199999999999996" stroke-linecap="round"/>
<path d="M933.3,1195.8C935,1196.2 937.5,1194.3 938.1,1192.6C936.3,1192.5 933.6,1194.1 933.3,1195.8Z" fill="#4a744a"/>
<path d="M933.3,1195.8L934.7,1201.4" fill="none" stroke="#4a744a" stroke-width="0.39199999999999996" stroke-linecap="round"/>
<path d="M933.3,1195.8C932.4,1197.2 933.3,1200.2 934.7,1201.4C935.4,1199.7 934.8,1196.6 933.3,1195.8Z" fill="#4a744a"/>
<path d="M935.3,1196.6L939.5,1193.8" fill="none" stroke="#4a744a" stroke-width="0.39199999999999996" stroke-linecap="round"/>
<path d="M935.3,1196.6C936.8,1196.9 939,1195.3 939.5,1193.8C937.9,1193.7 935.6,1195.1 935.3,1196.6Z" fill="#4a744a"/>
<path d="M935.3,1196.6L936.5,1201.4" fill="none" stroke="#4a744a" stroke-width="0.39199999999999996" stroke-linecap="round"/>
<path d="M935.3,1196.6C934.5,1197.8 935.3,1200.4 936.5,1201.4C937.2,1200 936.6,1197.3 935.3,1196.6Z" fill="#4a744a"/>
<path d="M937.4,1197.4L940.9,1195" fill="none" stroke="#4a744a" stroke-width="0.39199999999999996" stroke-linecap="round"/>
<path d="M937.4,1197.4C938.6,1197.7 940.5,1196.3 940.9,1195C939.5,1194.9 937.5,1196.1 937.4,1197.4Z" fill="#4a744a"/>
<path d="M937.4,1197.4L938.4,1201.5" fill="none" stroke="#4a744a" stroke-width="0.39199999999999996" stroke-linecap="round"/>
<path d="M937.4,1197.4C936.6,1198.4 937.3,1200.6 938.4,1201.5C938.9,1200.2 938.5,1198 937.4,1197.4Z" fill="#4a744a"/>
<path d="M938.9,1197.9C939.1,1199.3 940.9,1199.9 942.1,1199.2C941.7,1197.9 939.9,1197.1 938.9,1197.9Z" fill="#4a744a"/>
<path d="M933.2,1193.2C936.4,1194.7 940.5,1191.7 940.9,1188.1C937.4,1187.1 933,1189.6 933.2,1193.2Z" fill="#4a744a"/>
<path d="M905,1208L898,1232" fill="none" stroke="#4a744a" stroke-width="0.8" stroke-linecap="round"/>
<path d="M903.2,1214L911.6,1224.4" fill="none" stroke="#4a744a" stroke-width="0.5599999999999999" stroke-linecap="round"/>
<path d="M905.3,1216.6L912.4,1216.1" fill="none" stroke="#4a744a" stroke-width="0.39199999999999996" stroke-linecap="round"/>
<path d="M905.3,1216.6C906.8,1218 910.7,1217.6 912.4,1216.1C910.5,1214.9 906.6,1215 905.3,1216.6Z" fill="#4a744a"/>
<path d="M905.3,1216.6L903.3,1223.4" fill="none" stroke="#4a744a" stroke-width="0.39199999999999996" stroke-linecap="round"/>
<path d="M905.3,1216.6C903.5,1217.5 902.5,1221.3 903.3,1223.4C905.2,1222.1 906.4,1218.4 905.3,1216.6Z" fill="#4a744a"/>
<path d="M907,1218.7L913.1,1218.3" fill="none" stroke="#4a744a" stroke-width="0.39199999999999996" stroke-linecap="round"/>
<path d="M907,1218.7C908.3,1219.9 911.7,1219.6 913.1,1218.3C911.5,1217.2 908.1,1217.3 907,1218.7Z" fill="#4a744a"/>
<path d="M907,1218.7L905.3,1224.6" fill="none" stroke="#4a744a" stroke-width="0.39199999999999996" stroke-linecap="round"/>
<path d="M907,1218.7C905.4,1219.5 904.6,1222.8 905.3,1224.6C906.8,1223.4 907.9,1220.2 907,1218.7Z" fill="#4a744a"/>
<path d="M908.7,1220.7L913.9,1220.4" fill="none" stroke="#4a744a" stroke-width="0.39199999999999996" stroke-linecap="round"/>
<path d="M908.7,1220.7C909.8,1221.8 912.6,1221.5 913.9,1220.4C912.5,1219.5 909.6,1219.6 908.7,1220.7Z" fill="#4a744a"/>
<path d="M908.7,1220.7L907.2,1225.8" fill="none" stroke="#4a744a" stroke-width="0.39199999999999996" stroke-linecap="round"/>
<path d="M908.7,1220.7C907.3,1221.4 906.6,1224.2 907.2,1225.8C908.5,1224.8 909.4,1222.1 908.7,1220.7Z" fill="#4a744a"/>
<path d="M909.9,1222.3C909.3,1223.9 910.9,1225.6 912.6,1225.6C912.9,1224 911.6,1222.1 909.9,1222.3Z" fill="#4a744a"/>
<path d="M903.2,1214L890.6,1218.3" fill="none" stroke="#4a744a" stroke-width="0.5599999999999999" stroke-linecap="round"/>
<path d="M900.1,1215.1L898.1,1221.9" fill="none" stroke="#4a744a" stroke-width="0.39199999999999996" stroke-linecap="round"/>
<path d="M900.1,1215.1C898.2,1216 897.3,1219.8 898.1,1221.9C899.9,1220.6 901.2,1216.9 900.1,1215.1Z" fill="#4a744a"/>
<path d="M900.1,1215.1L894.4,1210.9" fill="none" stroke="#4a744a" stroke-width="0.39199999999999996" stroke-linecap="round"/>
<path d="M900.1,1215.1C899.8,1213 896.6,1210.8 894.4,1210.9C895,1213 898.1,1215.5 900.1,1215.1Z" fill="#4a744a"/>
<path d="M897.6,1215.9L895.9,1221.8" fill="none" stroke="#4a744a" stroke-width="0.39199999999999996" stroke-linecap="round"/>
<path d="M897.6,1215.9C896,1216.7 895.1,1220 895.9,1221.8C897.4,1220.7 898.5,1217.5 897.6,1215.9Z" fill="#4a744a"/>
<path d="M897.6,1215.9L892.6,1212.3" fill="none" stroke="#4a744a" stroke-width="0.39199999999999996" stroke-linecap="round"/>
<path d="M897.6,1215.9C897.4,1214.1 894.6,1212.2 892.6,1212.3C893.2,1214.1 895.8,1216.3 897.6,1215.9Z" fill="#4a744a"/>
<path d="M895.1,1216.8L893.6,1221.8" fill="none" stroke="#4a744a" stroke-width="0.39199999999999996" stroke-linecap="round"/>
<path d="M895.1,1216.8C893.7,1217.5 893,1220.3 893.6,1221.8C894.9,1220.8 895.8,1218.1 895.1,1216.8Z" fill="#4a744a"/>
<path d="M895.1,1216.8L890.8,1213.7" fill="none" stroke="#4a744a" stroke-width="0.39199999999999996" stroke-linecap="round"/>
<path d="M895.1,1216.8C894.9,1215.3 892.5,1213.7 890.8,1213.7C891.3,1215.3 893.6,1217.1 895.1,1216.8Z" fill="#4a744a"/>
<path d="M893.2,1217.4C891.9,1216.4 889.7,1217.2 889.1,1218.8C890.5,1219.7 892.8,1219 893.2,1217.4Z" fill="#4a744a"/>
<path d="M902.2,1217.6L909.7,1227" fill="none" stroke="#4a744a" stroke-width="0.5599999999999999" stroke-linecap="round"/>
<path d="M904.1,1219.9L910.5,1219.5" fill="none" stroke="#4a744a" stroke-width="0.39199999999999996" stroke-linecap="round"/>
<path d="M904.1,1219.9C905.4,1221.2 908.9,1220.9 910.5,1219.5C908.8,1218.4 905.3,1218.5 904.1,1219.9Z" fill="#4a744a"/>
<path d="M904.1,1219.9L902.3,1226.1" fill="none" stroke="#4a744a" stroke-width="0.39199999999999996" stroke-linecap="round"/>
<path d="M904.1,1219.9C902.4,1220.8 901.6,1224.2 902.3,1226.1C903.9,1224.9 905,1221.5 904.1,1219.9Z" fill="#4a744a"/>
<path d="M905.6,1221.8L911.1,1221.4" fill="none" stroke="#4a744a" stroke-width="0.39199999999999996" stroke-linecap="round"/>
<path d="M905.6,1221.8C906.8,1222.9 909.8,1222.6 911.1,1221.4C909.7,1220.5 906.6,1220.6 905.6,1221.8Z" fill="#4a744a"/>
<path d="M905.6,1221.8L904,1227.1" fill="none" stroke="#4a744a" stroke-width="0.39199999999999996" stroke-linecap="round"/>
<path d="M905.6,1221.8C904.1,1222.5 903.4,1225.5 904,1227.1C905.4,1226.1 906.4,1223.2 905.6,1221.8Z" fill="#4a744a"/>
<path d="M907.1,1223.7L911.8,1223.4" fill="none" stroke="#4a744a" stroke-width="0.39199999999999996" stroke-linecap="round"/>
<path d="M907.1,1223.7C908.1,1224.6 910.7,1224.4 911.8,1223.4C910.5,1222.6 908,1222.6 907.1,1223.7Z" fill="#4a744a"/>
<path d="M907.1,1223.7L905.8,1228.2" fill="none" stroke="#4a744a" stroke-width="0.39199999999999996" stroke-linecap="round"/>
<path d="M907.1,1223.7C905.9,1224.3 905.2,1226.8 905.8,1228.2C907,1227.3 907.8,1224.9 907.1,1223.7Z" fill="#4a744a"/>
<path d="M908.2,1225.1C907.7,1226.5 909.1,1228.1 910.6,1228.1C910.9,1226.6 909.7,1224.9 908.2,1225.1Z" fill="#4a744a"/>
<path d="M902.2,1217.6L890.8,1221.5" fill="none" stroke="#4a744a" stroke-width="0.5599999999999999" stroke-linecap="round"/>
<path d="M899.4,1218.6L897.6,1224.7" fill="none" stroke="#4a744a" stroke-width="0.39199999999999996" stroke-linecap="round"/>
<path d="M899.4,1218.6C897.7,1219.4 896.8,1222.8 897.6,1224.7C899.2,1223.5 900.3,1220.2 899.4,1218.6Z" fill="#4a744a"/>
<path d="M899.4,1218.6L894.2,1214.8" fill="none" stroke="#4a744a" stroke-width="0.39199999999999996" stroke-linecap="round"/>
<path d="M899.4,1218.6C899.1,1216.7 896.2,1214.7 894.2,1214.8C894.8,1216.7 897.5,1218.9 899.4,1218.6Z" fill="#4a744a"/>
<path d="M897.1,1219.3L895.5,1224.7" fill="none" stroke="#4a744a" stroke-width="0.39199999999999996" stroke-linecap="round"/>
<path d="M897.1,1219.3C895.6,1220.1 894.9,1223 895.5,1224.7C896.9,1223.6 897.9,1220.7 897.1,1219.3Z" fill="#4a744a"/>
<path d="M897.1,1219.3L892.6,1216.1" fill="none" stroke="#4a744a" stroke-width="0.39199999999999996" stroke-linecap="round"/>
<path d="M897.1,1219.3C896.9,1217.7 894.4,1216 892.6,1216.1C893.1,1217.7 895.5,1219.6 897.1,1219.3Z" fill="#4a744a"/>
<path d="M894.8,1220.1L893.5,1224.6" fill="none" stroke="#4a744a" stroke-width="0.39199999999999996" stroke-linecap="round"/>
<path d="M894.8,1220.1C893.6,1220.7 893,1223.2 893.5,1224.6C894.7,1223.8 895.5,1221.3 894.8,1220.1Z" fill="#4a744a"/>
<path d="M894.8,1220.1L891,1217.3" fill="none" stroke="#4a744a" stroke-width="0.39199999999999996" stroke-linecap="round"/>
<path d="M894.8,1220.1C894.6,1218.7 892.5,1217.3 891,1217.3C891.4,1218.7 893.5,1220.4 894.8,1220.1Z" fill="#4a744a"/>
<path d="M893.1,1220.7C892,1219.7 890,1220.5 889.5,1221.9C890.8,1222.7 892.8,1222.1 893.1,1220.7Z" fill="#4a744a"/>
<path d="M901.1,1221.2L907.8,1229.5" fill="none" stroke="#4a744a" stroke-width="0.5599999999999999" stroke-linecap="round"/>
<path d="M902.8,1223.3L908.5,1222.9" fill="none" stroke="#4a744a" stroke-width="0.39199999999999996" stroke-linecap="round"/>
<path d="M902.8,1223.3C904,1224.4 907.2,1224.1 908.5,1222.9C907,1221.9 903.9,1222 902.8,1223.3Z" fill="#4a744a"/>
<path d="M902.8,1223.3L901.2,1228.7" fill="none" stroke="#4a744a" stroke-width="0.39199999999999996" stroke-linecap="round"/>
<path d="M902.8,1223.3C901.3,1224 900.6,1227.1 901.2,1228.7C902.7,1227.7 903.7,1224.7 902.8,1223.3Z" fill="#4a744a"/>
<path d="M904.2,1225L909.1,1224.6" fill="none" stroke="#4a744a" stroke-width="0.39199999999999996" stroke-linecap="round"/>
<path d="M904.2,1225C905.2,1225.9 907.9,1225.7 909.1,1224.6C907.8,1223.8 905.1,1223.8 904.2,1225Z" fill="#4a744a"/>
<path d="M904.2,1225L902.8,1229.7" fill="none" stroke="#4a744a" stroke-width="0.39199999999999996" stroke-linecap="round"/>
<path d="M904.2,1225C902.9,1225.6 902.2,1228.2 902.8,1229.7C904,1228.8 904.9,1226.2 904.2,1225Z" fill="#4a744a"/>
<path d="M905.5,1226.6L909.7,1226.3" fill="none" stroke="#4a744a" stroke-width="0.39199999999999996" stroke-linecap="round"/>
<path d="M905.5,1226.6C906.4,1227.5 908.7,1227.3 909.7,1226.3C908.6,1225.6 906.3,1225.6 905.5,1226.6Z" fill="#4a744a"/>
<path d="M905.5,1226.6L904.3,1230.6" fill="none" stroke="#4a744a" stroke-width="0.39199999999999996" stroke-linecap="round"/>
<path d="M905.5,1226.6C904.4,1227.2 903.8,1229.4 904.3,1230.6C905.4,1229.9 906.2,1227.7 905.5,1226.6Z" fill="#4a744a"/>
<path d="M906.5,1227.9C906,1229.1 907.3,1230.5 908.6,1230.5C908.9,1229.2 907.8,1227.7 906.5,1227.9Z" fill="#4a744a"/>
<path d="M901.1,1221.2L891,1224.6" fill="none" stroke="#4a744a" stroke-width="0.5599999999999999" stroke-linecap="round"/>
<path d="M898.6,1222.1L897,1227.5" fill="none" stroke="#4a744a" stroke-width="0.39199999999999996" stroke-linecap="round"/>
<path d="M898.6,1222.1C897.1,1222.8 896.4,1225.9 897,1227.5C898.5,1226.5 899.5,1223.5 898.6,1222.1Z" fill="#4a744a"/>
<path d="M898.6,1222.1L894,1218.7" fill="none" stroke="#4a744a" stroke-width="0.39199999999999996" stroke-linecap="round"/>
<path d="M898.6,1222.1C898.4,1220.4 895.8,1218.7 894,1218.7C894.5,1220.4 897,1222.4 898.6,1222.1Z" fill="#4a744a"/>
<path d="M896.6,1222.7L895.2,1227.5" fill="none" stroke="#4a744a" stroke-width="0.39199999999999996" stroke-linecap="round"/>
<path d="M896.6,1222.7C895.3,1223.4 894.6,1226 895.2,1227.5C896.5,1226.6 897.3,1224 896.6,1222.7Z" fill="#4a744a"/>
<path d="M896.6,1222.7L892.6,1219.8" fill="none" stroke="#4a744a" stroke-width="0.39199999999999996" stroke-linecap="round"/>
<path d="M896.6,1222.7C896.4,1221.3 894.2,1219.8 892.6,1219.8C893,1221.3 895.2,1223 896.6,1222.7Z" fill="#4a744a"/>
<path d="M894.6,1223.4L893.4,1227.5" fill="none" stroke="#4a744a" stroke-width="0.39199999999999996" stroke-linecap="round"/>
<path d="M894.6,1223.4C893.4,1224 892.9,1226.2 893.4,1227.5C894.5,1226.7 895.2,1224.5 894.6,1223.4Z" fill="#4a744a"/>
<path d="M894.6,1223.4L891.2,1221" fill="none" stroke="#4a744a" stroke-width="0.39199999999999996" stroke-linecap="round"/>
<path d="M894.6,1223.4C894.4,1222.2 892.5,1220.9 891.2,1221C891.5,1222.2 893.3,1223.7 894.6,1223.4Z" fill="#4a744a"/>
<path d="M893.1,1223.9C892,1223.1 890.3,1223.8 889.8,1225C891,1225.7 892.8,1225.2 893.1,1223.9Z" fill="#4a744a"/>
<path d="M900.1,1224.8L906,1232.1" fill="none" stroke="#4a744a" stroke-width="0.5599999999999999" stroke-linecap="round"/>
<path d="M901.6,1226.6L906.5,1226.3" fill="none" stroke="#4a744a" stroke-width="0.39199999999999996" stroke-linecap="round"/>
<path d="M901.6,1226.6C902.6,1227.6 905.4,1227.3 906.5,1226.3C905.2,1225.4 902.5,1225.5 901.6,1226.6Z" fill="#4a744a"/>
<path d="M901.6,1226.6L900.2,1231.4" fill="none" stroke="#4a744a" stroke-width="0.39199999999999996" stroke-linecap="round"/>
<path d="M901.6,1226.6C900.3,1227.3 899.6,1230 900.2,1231.4C901.4,1230.5 902.3,1227.9 901.6,1226.6Z" fill="#4a744a"/>
<path d="M902.7,1228.1L907.1,1227.8" fill="none" stroke="#4a744a" stroke-width="0.39199999999999996" stroke-linecap="round"/>
<path d="M902.7,1228.1C903.7,1229 906,1228.7 907.1,1227.8C905.9,1227 903.5,1227.1 902.7,1228.1Z" fill="#4a744a"/>
<path d="M902.7,1228.1L901.5,1232.3" fill="none" stroke="#4a744a" stroke-width="0.39199999999999996" stroke-linecap="round"/>
<path d="M902.7,1228.1C901.6,1228.7 901,1231 901.5,1232.3C902.6,1231.4 903.4,1229.2 902.7,1228.1Z" fill="#4a744a"/>
<path d="M903.9,1229.6L907.6,1229.3" fill="none" stroke="#4a744a" stroke-width="0.39199999999999996" stroke-linecap="round"/>
<path d="M903.9,1229.6C904.7,1230.4 906.7,1230.2 907.6,1229.3C906.6,1228.5 904.6,1228.6 903.9,1229.6Z" fill="#4a744a"/>
<path d="M903.9,1229.6L902.9,1233.1" fill="none" stroke="#4a744a" stroke-width="0.39199999999999996" stroke-linecap="round"/>
<path d="M903.9,1229.6C902.8,1230 902.3,1232 902.9,1233.1C903.9,1232.4 904.6,1230.5 903.9,1229.6Z" fill="#4a744a"/>
<path d="M904.8,1230.6C904.3,1231.8 905.5,1233 906.7,1233C907,1231.8 906,1230.5 904.8,1230.6Z" fill="#4a744a"/>
<path d="M900.1,1224.8L891.2,1227.8" fill="none" stroke="#4a744a" stroke-width="0.5599999999999999" stroke-linecap="round"/>
<path d="M897.9,1225.6L896.5,1230.3" fill="none" stroke="#4a744a" stroke-width="0.39199999999999996" stroke-linecap="round"/>
<path d="M897.9,1225.6C896.6,1226.2 895.9,1228.9 896.5,1230.3C897.8,1229.4 898.6,1226.8 897.9,1225.6Z" fill="#4a744a"/>
<path d="M897.9,1225.6L893.9,1222.6" fill="none" stroke="#4a744a" stroke-width="0.39199999999999996" stroke-linecap="round"/>
<path d="M897.9,1225.6C897.7,1224.1 895.4,1222.6 893.9,1222.6C894.3,1224.1 896.4,1225.8 897.9,1225.6Z" fill="#4a744a"/>
<path d="M896.1,1226.2L894.9,1230.3" fill="none" stroke="#4a744a" stroke-width="0.39199999999999996" stroke-linecap="round"/>
<path d="M896.1,1226.2C895,1226.7 894.4,1229 894.9,1230.3C896,1229.5 896.8,1227.2 896.1,1226.2Z" fill="#4a744a"/>
<path d="M896.1,1226.2L892.6,1223.6" fill="none" stroke="#4a744a" stroke-width="0.39199999999999996" stroke-linecap="round"/>
<path d="M896.1,1226.2C896,1224.9 894,1223.6 892.6,1223.6C893,1224.9 894.9,1226.4 896.1,1226.2Z" fill="#4a744a"/>
<path d="M894.3,1226.8L893.3,1230.3" fill="none" stroke="#4a744a" stroke-width="0.39199999999999996" stroke-linecap="round"/>
<path d="M894.3,1226.8C893.2,1227.2 892.8,1229.2 893.3,1230.3C894.4,1229.6 895,1227.7 894.3,1226.8Z" fill="#4a744a"/>
<path d="M894.3,1226.8L891.4,1224.6" fill="none" stroke="#4a744a" stroke-width="0.39199999999999996" stroke-linecap="round"/>
<path d="M894.3,1226.8C894.3,1225.6 892.6,1224.4 891.4,1224.6C891.6,1225.8 893.2,1227.1 894.3,1226.8Z" fill="#4a744a"/>
<path d="M893,1227.2C892.1,1226.4 890.6,1227 890.2,1228.2C891.2,1228.8 892.8,1228.4 893,1227.2Z" fill="#4a744a"/>
<path d="M899.4,1227.2C896.4,1228 895.4,1232.3 897.2,1234.9C900,1233.6 901.5,1229.5 899.4,1227.2Z" fill="#4a744a"/>
<path d="M922,1212L930,1218" fill="none" stroke="#4a744a" stroke-width="0.8" stroke-linecap="round"/>
<path d="M924,1213.5L929.1,1211.8" fill="none" stroke="#4a744a" stroke-width="0.5599999999999999" stroke-linecap="round"/>
<path d="M924,1213.5C925.4,1214.2 928.1,1213.2 929.1,1211.8C927.5,1211.3 924.7,1212.1 924,1213.5Z" fill="#4a744a"/>
<path d="M924,1213.5L923.8,1218.8" fill="none" stroke="#4a744a" stroke-width="0.5599999999999999" stroke-linecap="round"/>
<path d="M924,1213.5C922.8,1214.5 922.8,1217.5 923.8,1218.8C924.9,1217.5 925.1,1214.6 924,1213.5Z" fill="#4a744a"/>
<path d="M925.6,1214.7L930,1213.3" fill="none" stroke="#4a744a" stroke-width="0.5599999999999999" stroke-linecap="round"/>
<path d="M925.6,1214.7C926.8,1215.3 929.2,1214.5 930,1213.3C928.6,1212.8 926.2,1213.5 925.6,1214.7Z" fill="#4a744a"/>
<path d="M925.6,1214.7L925.4,1219.3" fill="none" stroke="#4a744a" stroke-width="0.5599999999999999" stroke-linecap="round"/>
<path d="M925.6,1214.7C924.6,1215.6 924.6,1218.1 925.4,1219.3C926.4,1218.2 926.6,1215.7 925.6,1214.7Z" fill="#4a744a"/>
<path d="M927.2,1215.9L930.9,1214.7" fill="none" stroke="#4a744a" stroke-width="0.5599999999999999" stroke-linecap="round"/>
<path d="M927.2,1215.9C928.2,1216.5 930.3,1215.8 930.9,1214.7C929.7,1214.2 927.7,1214.8 927.2,1215.9Z" fill="#4a744a"/>
<path d="M927.2,1215.9L927.1,1219.8" fill="none" stroke="#4a744a" stroke-width="0.5599999999999999" stroke-linecap="round"/>
<path d="M927.2,1215.9C926.2,1216.7 926.3,1218.8 927.1,1219.8C927.9,1218.9 928.1,1216.7 927.2,1215.9Z" fill="#4a744a"/>
<path d="M928.4,1216.8C928.3,1218 929.7,1219 931,1218.7C930.9,1217.5 929.6,1216.3 928.4,1216.8Z" fill="#4a744a"/>
<path d="M941,1214Q947,1206 953,1199" fill="none" stroke="#6a9a5a" stroke-width="1.4" stroke-linecap="round"/>
<path d="M953,1199L996,1195" fill="none" stroke="#4a744a" stroke-width="0.8" stroke-linecap="round"/>
<path d="M963.8,1198L975.1,1178" fill="none" stroke="#4a744a" stroke-width="0.5599999999999999" stroke-linecap="round"/>
<path d="M966.6,1193L961.4,1181.9" fill="none" stroke="#4a744a" stroke-width="0.39199999999999996" stroke-linecap="round"/>
<path d="M966.6,1193C967.9,1189.7 964.8,1183.7 961.4,1181.9C960.5,1185.7 963.2,1191.9 966.6,1193Z" fill="#4a744a"/>
<path d="M966.6,1193L978.8,1191.9" fill="none" stroke="#4a744a" stroke-width="0.39199999999999996" stroke-linecap="round"/>
<path d="M966.6,1193C969.3,1195.4 976,1194.5 978.8,1191.9C975.5,1189.8 968.8,1190.2 966.6,1193Z" fill="#4a744a"/>
<path d="M968.9,1189L964.3,1179.4" fill="none" stroke="#4a744a" stroke-width="0.39199999999999996" stroke-linecap="round"/>
<path d="M968.9,1189C970,1186.1 967.3,1180.9 964.3,1179.4C963.6,1182.7 965.9,1188.1 968.9,1189Z" fill="#4a744a"/>
<path d="M968.9,1189L979.5,1188" fill="none" stroke="#4a744a" stroke-width="0.39199999999999996" stroke-linecap="round"/>
<path d="M968.9,1189C971.2,1191.1 977,1190.3 979.5,1188C976.6,1186.2 970.8,1186.6 968.9,1189Z" fill="#4a744a"/>
<path d="M971.2,1185L967.3,1176.9" fill="none" stroke="#4a744a" stroke-width="0.39199999999999996" stroke-linecap="round"/>
<path d="M971.2,1185C972.1,1182.6 969.8,1178.2 967.3,1176.9C966.7,1179.6 968.6,1184.2 971.2,1185Z" fill="#4a744a"/>
<path d="M971.2,1185L980.1,1184.2" fill="none" stroke="#4a744a" stroke-width="0.39199999999999996" stroke-linecap="round"/>
<path d="M971.2,1185C973.1,1186.8 978.1,1186.1 980.1,1184.2C977.7,1182.7 972.8,1182.9 971.2,1185Z" fill="#4a744a"/>
<path d="M972.9,1182C975.7,1182 977.5,1178.3 976.5,1175.6C973.7,1176.1 971.5,1179.5 972.9,1182Z" fill="#4a744a"/>
<path d="M963.8,1198L978.6,1215.5" fill="none" stroke="#4a744a" stroke-width="0.5599999999999999" stroke-linecap="round"/>
<path d="M967.5,1202.4L979.7,1201.2" fill="none" stroke="#4a744a" stroke-width="0.39199999999999996" stroke-linecap="round"/>
<path d="M967.5,1202.4C970.2,1204.8 976.8,1203.9 979.7,1201.2C976.4,1199.2 969.7,1199.6 967.5,1202.4Z" fill="#4a744a"/>
<path d="M967.5,1202.4L964.4,1214.2" fill="none" stroke="#4a744a" stroke-width="0.39199999999999996" stroke-linecap="round"/>
<path d="M967.5,1202.4C964.3,1204.1 962.9,1210.7 964.4,1214.2C967.4,1211.9 969.4,1205.4 967.5,1202.4Z" fill="#4a744a"/>
<path d="M970.4,1205.9L981,1204.9" fill="none" stroke="#4a744a" stroke-width="0.39199999999999996" stroke-linecap="round"/>
<path d="M970.4,1205.9C972.8,1208 978.6,1207.2 981,1204.9C978.2,1203.1 972.4,1203.4 970.4,1205.9Z" fill="#4a744a"/>
<path d="M970.4,1205.9L967.7,1216.2" fill="none" stroke="#4a744a" stroke-width="0.39199999999999996" stroke-linecap="round"/>
<path d="M970.4,1205.9C967.7,1207.4 966.4,1213.1 967.7,1216.2C970.4,1214.1 972.1,1208.5 970.4,1205.9Z" fill="#4a744a"/>
<path d="M973.4,1209.4L982.4,1208.6" fill="none" stroke="#4a744a" stroke-width="0.39199999999999996" stroke-linecap="round"/>
<path d="M973.4,1209.4C975.4,1211.1 980.3,1210.5 982.4,1208.6C980,1207 975,1207.3 973.4,1209.4Z" fill="#4a744a"/>
<path d="M973.4,1209.4L971.1,1218.1" fill="none" stroke="#4a744a" stroke-width="0.39199999999999996" stroke-linecap="round"/>
<path d="M973.4,1209.4C971.1,1210.7 970,1215.5 971.1,1218.1C973.4,1216.4 974.8,1211.6 973.4,1209.4Z" fill="#4a744a"/>
<path d="M975.7,1212C974.7,1214.7 977.5,1217.7 980.4,1217.6C980.9,1214.8 978.5,1211.6 975.7,1212Z" fill="#4a744a"/>
<path d="M970.2,1197.4L980.5,1179.4" fill="none" stroke="#4a744a" stroke-width="0.5599999999999999" stroke-linecap="round"/>
<path d="M972.8,1192.9L968,1182.9" fill="none" stroke="#4a744a" stroke-width="0.39199999999999996" stroke-linecap="round"/>
<path d="M972.8,1192.9C974,1189.9 971.1,1184.5 968,1182.9C967.3,1186.3 969.7,1191.9 972.8,1192.9Z" fill="#4a744a"/>
<path d="M972.8,1192.9L983.8,1191.9" fill="none" stroke="#4a744a" stroke-width="0.39199999999999996" stroke-linecap="round"/>
<path d="M972.8,1192.9C975.2,1195 981.2,1194.2 983.8,1191.9C980.8,1190 974.7,1190.3 972.8,1192.9Z" fill="#4a744a"/>
<path d="M974.8,1189.3L970.7,1180.6" fill="none" stroke="#4a744a" stroke-width="0.39199999999999996" stroke-linecap="round"/>
<path d="M974.8,1189.3C975.8,1186.7 973.4,1182 970.7,1180.6C970.1,1183.6 972.2,1188.4 974.8,1189.3Z" fill="#4a744a"/>
<path d="M974.8,1189.3L984.4,1188.4" fill="none" stroke="#4a744a" stroke-width="0.39199999999999996" stroke-linecap="round"/>
<path d="M974.8,1189.3C976.9,1191.2 982.1,1190.5 984.4,1188.4C981.8,1186.8 976.5,1187.1 974.8,1189.3Z" fill="#4a744a"/>
<path d="M976.9,1185.7L973.4,1178.3" fill="none" stroke="#4a744a" stroke-width="0.39199999999999996" stroke-linecap="round"/>
<path d="M976.9,1185.7C977.7,1183.5 975.7,1179.5 973.4,1178.3C972.9,1180.8 974.6,1185 976.9,1185.7Z" fill="#4a744a"/>
<path d="M976.9,1185.7L985,1184.9" fill="none" stroke="#4a744a" stroke-width="0.39199999999999996" stroke-linecap="round"/>
<path d="M976.9,1185.7C978.7,1187.3 983.1,1186.7 985,1184.9C982.8,1183.6 978.3,1183.8 976.9,1185.7Z" fill="#4a744a"/>
<path d="M978.4,1183C981,1182.9 982.6,1179.7 981.7,1177.2C979.1,1177.7 977.1,1180.7 978.4,1183Z" fill="#4a744a"/>
<path d="M970.2,1197.4L983.6,1213.2" fill="none" stroke="#4a744a" stroke-width="0.5599999999999999" stroke-linecap="round"/>
<path d="M973.6,1201.4L984.5,1200.3" fill="none" stroke="#4a744a" stroke-width="0.39199999999999996" stroke-linecap="round"/>
<path d="M973.6,1201.4C976,1203.5 982,1202.7 984.5,1200.3C981.6,1198.5 975.5,1198.8 973.6,1201.4Z" fill="#4a744a"/>
<path d="M973.6,1201.4L970.8,1212" fill="none" stroke="#4a744a" stroke-width="0.39199999999999996" stroke-linecap="round"/>
<path d="M973.6,1201.4C970.7,1202.9 969.4,1208.8 970.8,1212C973.5,1209.9 975.3,1204.1 973.6,1201.4Z" fill="#4a744a"/>
<path d="M976.2,1204.5L985.8,1203.6" fill="none" stroke="#4a744a" stroke-width="0.39199999999999996" stroke-linecap="round"/>
<path d="M976.2,1204.5C978.3,1206.4 983.6,1205.7 985.8,1203.6C983.2,1202 978,1202.3 976.2,1204.5Z" fill="#4a744a"/>
<path d="M976.2,1204.5L973.8,1213.8" fill="none" stroke="#4a744a" stroke-width="0.39199999999999996" stroke-linecap="round"/>
<path d="M976.2,1204.5C973.8,1205.8 972.6,1211 973.8,1213.8C976.2,1211.9 977.7,1206.9 976.2,1204.5Z" fill="#4a744a"/>
<path d="M978.9,1207.7L987,1206.9" fill="none" stroke="#4a744a" stroke-width="0.39199999999999996" stroke-linecap="round"/>
<path d="M978.9,1207.7C980.7,1209.3 985.1,1208.7 987,1206.9C984.8,1205.6 980.4,1205.8 978.9,1207.7Z" fill="#4a744a"/>
<path d="M978.9,1207.7L976.9,1215.5" fill="none" stroke="#4a744a" stroke-width="0.39199999999999996" stroke-linecap="round"/>
<path d="M978.9,1207.7C976.8,1208.8 975.9,1213.2 976.9,1215.5C978.9,1214 980.2,1209.7 978.9,1207.7Z" fill="#4a744a"/>
<path d="M980.9,1210C980.1,1212.5 982.6,1215.1 985.2,1215.1C985.7,1212.6 983.5,1209.6 980.9,1210Z" fill="#4a744a"/>
<path d="M976.6,1196.8L985.8,1180.8" fill="none" stroke="#4a744a" stroke-width="0.5599999999999999" stroke-linecap="round"/>
<path d="M978.9,1192.8L974.7,1183.9" fill="none" stroke="#4a744a" stroke-width="0.39199999999999996" stroke-linecap="round"/>
<path d="M978.9,1192.8C980,1190.1 977.5,1185.3 974.7,1183.9C974.1,1186.9 976.2,1191.9 978.9,1192.8Z" fill="#4a744a"/>
<path d="M978.9,1192.8L988.7,1191.9" fill="none" stroke="#4a744a" stroke-width="0.39199999999999996" stroke-linecap="round"/>
<path d="M978.9,1192.8C981.1,1194.7 986.5,1194 988.7,1191.9C986.1,1190.2 980.7,1190.5 978.9,1192.8Z" fill="#4a744a"/>
<path d="M980.8,1189.6L977.1,1181.9" fill="none" stroke="#4a744a" stroke-width="0.39199999999999996" stroke-linecap="round"/>
<path d="M980.8,1189.6C981.7,1187.3 979.5,1183.1 977.1,1181.9C976.5,1184.5 978.4,1188.8 980.8,1189.6Z" fill="#4a744a"/>
<path d="M980.8,1189.6L989.3,1188.8" fill="none" stroke="#4a744a" stroke-width="0.39199999999999996" stroke-linecap="round"/>
<path d="M980.8,1189.6C982.6,1191.2 987.3,1190.6 989.3,1188.8C987,1187.4 982.3,1187.6 980.8,1189.6Z" fill="#4a744a"/>
<path d="M982.6,1186.4L979.5,1179.8" fill="none" stroke="#4a744a" stroke-width="0.39199999999999996" stroke-linecap="round"/>
<path d="M982.6,1186.4C983.4,1184.4 981.5,1180.9 979.5,1179.8C979,1182.1 980.6,1185.7 982.6,1186.4Z" fill="#4a744a"/>
<path d="M982.6,1186.4L989.8,1185.7" fill="none" stroke="#4a744a" stroke-width="0.39199999999999996" stroke-linecap="round"/>
<path d="M982.6,1186.4C984.2,1187.8 988.1,1187.3 989.8,1185.7C987.9,1184.5 983.9,1184.7 982.6,1186.4Z" fill="#4a744a"/>
<path d="M984,1184C986.3,1183.9 987.7,1181 986.9,1178.8C984.6,1179.2 982.8,1182 984,1184Z" fill="#4a744a"/>
<path d="M976.6,1196.8L988.6,1210.9" fill="none" stroke="#4a744a" stroke-width="0.5599999999999999" stroke-linecap="round"/>
<path d="M979.6,1200.3L989.4,1199.4" fill="none" stroke="#4a744a" stroke-width="0.39199999999999996" stroke-linecap="round"/>
<path d="M979.6,1200.3C981.8,1202.2 987.2,1201.5 989.4,1199.4C986.8,1197.8 981.4,1198 979.6,1200.3Z" fill="#4a744a"/>
<path d="M979.6,1200.3L977.1,1209.8" fill="none" stroke="#4a744a" stroke-width="0.39199999999999996" stroke-linecap="round"/>
<path d="M979.6,1200.3C977.1,1201.7 975.9,1207 977.1,1209.8C979.6,1207.9 981.2,1202.8 979.6,1200.3Z" fill="#4a744a"/>
<path d="M982,1203.1L990.5,1202.3" fill="none" stroke="#4a744a" stroke-width="0.39199999999999996" stroke-linecap="round"/>
<path d="M982,1203.1C983.9,1204.8 988.6,1204.2 990.5,1202.3C988.2,1200.9 983.6,1201.2 982,1203.1Z" fill="#4a744a"/>
<path d="M982,1203.1L979.9,1211.4" fill="none" stroke="#4a744a" stroke-width="0.39199999999999996" stroke-linecap="round"/>
<path d="M982,1203.1C979.8,1204.3 978.8,1208.9 979.9,1211.4C982,1209.7 983.4,1205.2 982,1203.1Z" fill="#4a744a"/>
<path d="M984.4,1206L991.6,1205.3" fill="none" stroke="#4a744a" stroke-width="0.39199999999999996" stroke-linecap="round"/>
<path d="M984.4,1206C986,1207.4 990,1206.8 991.6,1205.3C989.7,1204.1 985.7,1204.3 984.4,1206Z" fill="#4a744a"/>
<path d="M984.4,1206L982.6,1213" fill="none" stroke="#4a744a" stroke-width="0.39199999999999996" stroke-linecap="round"/>
<path d="M984.4,1206C982.6,1207 981.7,1210.9 982.6,1213C984.4,1211.6 985.5,1207.7 984.4,1206Z" fill="#4a744a"/>
<path d="M986.2,1208.1C985.5,1210.2 987.7,1212.6 990,1212.6C990.4,1210.3 988.5,1207.7 986.2,1208.1Z" fill="#4a744a"/>
<path d="M983.1,1196.2L991.1,1182.1" fill="none" stroke="#4a744a" stroke-width="0.5599999999999999" stroke-linecap="round"/>
<path d="M985.1,1192.7L981.4,1184.9" fill="none" stroke="#4a744a" stroke-width="0.39199999999999996" stroke-linecap="round"/>
<path d="M985.1,1192.7C986,1190.3 983.8,1186.1 981.4,1184.9C980.8,1187.5 982.7,1191.9 985.1,1192.7Z" fill="#4a744a"/>
<path d="M985.1,1192.7L993.7,1191.9" fill="none" stroke="#4a744a" stroke-width="0.39199999999999996" stroke-linecap="round"/>
<path d="M985.1,1192.7C987,1194.4 991.7,1193.7 993.7,1191.9C991.4,1190.4 986.7,1190.7 985.1,1192.7Z" fill="#4a744a"/>
<path d="M986.7,1189.9L983.5,1183.1" fill="none" stroke="#4a744a" stroke-width="0.39199999999999996" stroke-linecap="round"/>
<path d="M986.7,1189.9C987.5,1187.8 985.6,1184.2 983.5,1183.1C983,1185.4 984.6,1189.2 986.7,1189.9Z" fill="#4a744a"/>
<path d="M986.7,1189.9L994.2,1189.2" fill="none" stroke="#4a744a" stroke-width="0.39199999999999996" stroke-linecap="round"/>
<path d="M986.7,1189.9C988.3,1191.3 992.4,1190.8 994.2,1189.2C992.2,1187.9 988.1,1188.1 986.7,1189.9Z" fill="#4a744a"/>
<path d="M988.3,1187.1L985.6,1181.3" fill="none" stroke="#4a744a" stroke-width="0.39199999999999996" stroke-linecap="round"/>
<path d="M988.3,1187.1C989,1185.3 987.4,1182.2 985.6,1181.3C985.2,1183.3 986.5,1186.5 988.3,1187.1Z" fill="#4a744a"/>
<path d="M988.3,1187.1L994.6,1186.5" fill="none" stroke="#4a744a" stroke-width="0.39199999999999996" stroke-linecap="round"/>
<path d="M988.3,1187.1C989.7,1188.3 993.2,1187.8 994.6,1186.5C992.9,1185.4 989.5,1185.6 988.3,1187.1Z" fill="#4a744a"/>
<path d="M989.5,1184.9C991.5,1184.9 992.8,1182.3 992.1,1180.4C990.1,1180.8 988.5,1183.2 989.5,1184.9Z" fill="#4a744a"/>
<path d="M983.1,1196.2L993.6,1208.5" fill="none" stroke="#4a744a" stroke-width="0.5599999999999999" stroke-linecap="round"/>
<path d="M985.7,1199.3L994.3,1198.5" fill="none" stroke="#4a744a" stroke-width="0.39199999999999996" stroke-linecap="round"/>
<path d="M985.7,1199.3C987.6,1201 992.3,1200.3 994.3,1198.5C992,1197 987.3,1197.3 985.7,1199.3Z" fill="#4a744a"/>
<path d="M985.7,1199.3L983.5,1207.6" fill="none" stroke="#4a744a" stroke-width="0.39199999999999996" stroke-linecap="round"/>
<path d="M985.7,1199.3C983.5,1200.5 982.5,1205.1 983.5,1207.6C985.7,1206 987.1,1201.4 985.7,1199.3Z" fill="#4a744a"/>
<path d="M987.8,1201.8L995.3,1201.1" fill="none" stroke="#4a744a" stroke-width="0.39199999999999996" stroke-linecap="round"/>
<path d="M987.8,1201.8C989.5,1203.2 993.5,1202.7 995.3,1201.1C993.3,1199.8 989.2,1200 987.8,1201.8Z" fill="#4a744a"/>
<path d="M987.8,1201.8L985.9,1209" fill="none" stroke="#4a744a" stroke-width="0.39199999999999996" stroke-linecap="round"/>
<path d="M987.8,1201.8C985.9,1202.8 985,1206.8 985.9,1209C987.8,1207.6 989,1203.6 987.8,1201.8Z" fill="#4a744a"/>
<path d="M989.9,1204.2L996.2,1203.6" fill="none" stroke="#4a744a" stroke-width="0.39199999999999996" stroke-linecap="round"/>
<path d="M989.9,1204.2C991.3,1205.5 994.8,1205 996.2,1203.6C994.5,1202.6 991.1,1202.8 989.9,1204.2Z" fill="#4a744a"/>
<path d="M989.9,1204.2L988.3,1210.4" fill="none" stroke="#4a744a" stroke-width="0.39199999999999996" stroke-linecap="round"/>
<path d="M989.9,1204.2C988.3,1205.1 987.5,1208.5 988.3,1210.4C989.9,1209.1 990.9,1205.8 989.9,1204.2Z" fill="#4a744a"/>
<path d="M991.5,1206.1C990.8,1208 992.8,1210 994.8,1210C995.2,1208 993.5,1205.8 991.5,1206.1Z" fill="#4a744a"/>
<path d="M987.4,1195.8C990.6,1200.1 998.1,1199 1001.2,1194.5C997.3,1190.7 989.7,1191 987.4,1195.8Z" fill="#4a744a"/>
<path d="M957,1198L958,1176" fill="none" stroke="#4a744a" stroke-width="0.8" stroke-linecap="round"/>
<path d="M957.2,1192.5L948,1185.3" fill="none" stroke="#4a744a" stroke-width="0.5599999999999999" stroke-linecap="round"/>
<path d="M954.9,1190.7L949,1192.6" fill="none" stroke="#4a744a" stroke-width="0.39199999999999996" stroke-linecap="round"/>
<path d="M954.9,1190.7C953.3,1189.8 950.1,1191 949,1192.6C950.8,1193.3 954.1,1192.4 954.9,1190.7Z" fill="#4a744a"/>
<path d="M954.9,1190.7L955.2,1184.5" fill="none" stroke="#4a744a" stroke-width="0.39199999999999996" stroke-linecap="round"/>
<path d="M954.9,1190.7C956.3,1189.5 956.3,1186.1 955.2,1184.5C953.9,1186 953.7,1189.4 954.9,1190.7Z" fill="#4a744a"/>
<path d="M953.1,1189.3L947.9,1190.9" fill="none" stroke="#4a744a" stroke-width="0.39199999999999996" stroke-linecap="round"/>
<path d="M953.1,1189.3C951.7,1188.5 948.9,1189.5 947.9,1190.9C949.5,1191.5 952.4,1190.7 953.1,1189.3Z" fill="#4a744a"/>
<path d="M953.1,1189.3L953.3,1183.9" fill="none" stroke="#4a744a" stroke-width="0.39199999999999996" stroke-linecap="round"/>
<path d="M953.1,1189.3C954.3,1188.2 954.3,1185.3 953.3,1183.9C952.2,1185.2 952,1188.1 953.1,1189.3Z" fill="#4a744a"/>
<path d="M951.2,1187.8L946.8,1189.2" fill="none" stroke="#4a744a" stroke-width="0.39199999999999996" stroke-linecap="round"/>
<path d="M951.2,1187.8C950,1187.2 947.7,1188 946.8,1189.2C948.2,1189.7 950.6,1189.1 951.2,1187.8Z" fill="#4a744a"/>
<path d="M951.2,1187.8L951.4,1183.3" fill="none" stroke="#4a744a" stroke-width="0.39199999999999996" stroke-linecap="round"/>
<path d="M951.2,1187.8C952.2,1187 952.3,1184.4 951.4,1183.3C950.5,1184.4 950.3,1186.9 951.2,1187.8Z" fill="#4a744a"/>
<path d="M949.8,1186.8C950,1185.3 948.3,1184.2 946.8,1184.5C946.9,1186 948.5,1187.3 949.8,1186.8Z" fill="#4a744a"/>
<path d="M957.2,1192.5L967.2,1186.2" fill="none" stroke="#4a744a" stroke-width="0.5599999999999999" stroke-linecap="round"/>
<path d="M959.7,1190.9L960,1184.7" fill="none" stroke="#4a744a" stroke-width="0.39199999999999996" stroke-linecap="round"/>
<path d="M959.7,1190.9C961.1,1189.7 961.1,1186.3 960,1184.7C958.7,1186.2 958.5,1189.6 959.7,1190.9Z" fill="#4a744a"/>
<path d="M959.7,1190.9L965.5,1193.3" fill="none" stroke="#4a744a" stroke-width="0.39199999999999996" stroke-linecap="round"/>
<path d="M959.7,1190.9C960.4,1192.6 963.6,1193.8 965.5,1193.3C964.5,1191.6 961.4,1190.2 959.7,1190.9Z" fill="#4a744a"/>
<path d="M961.7,1189.7L962,1184.3" fill="none" stroke="#4a744a" stroke-width="0.39199999999999996" stroke-linecap="round"/>
<path d="M961.7,1189.7C962.9,1188.6 962.9,1185.7 962,1184.3C960.9,1185.6 960.6,1188.5 961.7,1189.7Z" fill="#4a744a"/>
<path d="M961.7,1189.7L966.7,1191.8" fill="none" stroke="#4a744a" stroke-width="0.39199999999999996" stroke-linecap="round"/>
<path d="M961.7,1189.7C962.3,1191.2 965.1,1192.2 966.7,1191.8C965.9,1190.3 963.2,1189 961.7,1189.7Z" fill="#4a744a"/>
<path d="M963.7,1188.4L963.9,1183.8" fill="none" stroke="#4a744a" stroke-width="0.39199999999999996" stroke-linecap="round"/>
<path d="M963.7,1188.4C964.7,1187.5 964.7,1185 963.9,1183.8C963,1184.9 962.7,1187.5 963.7,1188.4Z" fill="#4a744a"/>
<path d="M963.7,1188.4L967.9,1190.2" fill="none" stroke="#4a744a" stroke-width="0.39199999999999996" stroke-linecap="round"/>
<path d="M963.7,1188.4C964.2,1189.7 966.5,1190.6 967.9,1190.2C967.2,1188.9 964.9,1187.9 963.7,1188.4Z" fill="#4a744a"/>
<path d="M965.2,1187.5C966.5,1188.1 968.2,1186.9 968.3,1185.5C966.9,1185 965.1,1186 965.2,1187.5Z" fill="#4a744a"/>
<path d="M957.4,1189.2L949,1182.7" fill="none" stroke="#4a744a" stroke-width="0.5599999999999999" stroke-linecap="round"/>
<path d="M955.3,1187.6L949.9,1189.3" fill="none" stroke="#4a744a" stroke-width="0.39199999999999996" stroke-linecap="round"/>
<path d="M955.3,1187.6C953.9,1186.8 951,1187.8 949.9,1189.3C951.6,1189.9 954.6,1189.1 955.3,1187.6Z" fill="#4a744a"/>
<path d="M955.3,1187.6L955.6,1182" fill="none" stroke="#4a744a" stroke-width="0.39199999999999996" stroke-linecap="round"/>
<path d="M955.3,1187.6C956.6,1186.5 956.6,1183.4 955.6,1182C954.4,1183.3 954.2,1186.4 955.3,1187.6Z" fill="#4a744a"/>
<path d="M953.6,1186.3L949,1187.8" fill="none" stroke="#4a744a" stroke-width="0.39199999999999996" stroke-linecap="round"/>
<path d="M953.6,1186.3C952.4,1185.6 949.9,1186.5 949,1187.8C950.4,1188.3 953,1187.6 953.6,1186.3Z" fill="#4a744a"/>
<path d="M953.6,1186.3L953.9,1181.4" fill="none" stroke="#4a744a" stroke-width="0.39199999999999996" stroke-linecap="round"/>
<path d="M953.6,1186.3C954.7,1185.4 954.7,1182.7 953.9,1181.4C952.9,1182.6 952.6,1185.3 953.6,1186.3Z" fill="#4a744a"/>
<path d="M952,1185L948,1186.2" fill="none" stroke="#4a744a" stroke-width="0.39199999999999996" stroke-linecap="round"/>
<path d="M952,1185C950.9,1184.4 948.7,1185.1 948,1186.2C949.2,1186.7 951.4,1186.1 952,1185Z" fill="#4a744a"/>
<path d="M952,1185L952.1,1180.9" fill="none" stroke="#4a744a" stroke-width="0.39199999999999996" stroke-linecap="round"/>
<path d="M952,1185C952.9,1184.2 952.9,1181.9 952.1,1180.9C951.3,1181.9 951.1,1184.1 952,1185Z" fill="#4a744a"/>
<path d="M950.7,1184C950.9,1182.7 949.3,1181.7 948,1182C948.1,1183.3 949.5,1184.5 950.7,1184Z" fill="#4a744a"/>
<path d="M957.4,1189.2L966.3,1183.5" fill="none" stroke="#4a744a" stroke-width="0.5599999999999999" stroke-linecap="round"/>
<path d="M959.6,1187.8L959.9,1182.2" fill="none" stroke="#4a744a" stroke-width="0.39199999999999996" stroke-linecap="round"/>
<path d="M959.6,1187.8C960.9,1186.7 960.9,1183.6 959.9,1182.2C958.7,1183.5 958.5,1186.6 959.6,1187.8Z" fill="#4a744a"/>
<path d="M959.6,1187.8L964.8,1189.9" fill="none" stroke="#4a744a" stroke-width="0.39199999999999996" stroke-linecap="round"/>
<path d="M959.6,1187.8C960.2,1189.3 963.1,1190.4 964.8,1189.9C963.9,1188.4 961.1,1187.1 959.6,1187.8Z" fill="#4a744a"/>
<path d="M961.4,1186.7L961.6,1181.8" fill="none" stroke="#4a744a" stroke-width="0.39199999999999996" stroke-linecap="round"/>
<path d="M961.4,1186.7C962.5,1185.7 962.5,1183 961.6,1181.8C960.6,1182.9 960.4,1185.6 961.4,1186.7Z" fill="#4a744a"/>
<path d="M961.4,1186.7L965.9,1188.5" fill="none" stroke="#4a744a" stroke-width="0.39199999999999996" stroke-linecap="round"/>
<path d="M961.4,1186.7C961.9,1188 964.4,1188.9 965.9,1188.5C965.2,1187.2 962.7,1186.1 961.4,1186.7Z" fill="#4a744a"/>
<path d="M963.2,1185.5L963.4,1181.4" fill="none" stroke="#4a744a" stroke-width="0.39199999999999996" stroke-linecap="round"/>
<path d="M963.2,1185.5C964.2,1184.7 964.2,1182.4 963.4,1181.4C962.5,1182.4 962.3,1184.6 963.2,1185.5Z" fill="#4a744a"/>
<path d="M963.2,1185.5L967,1187.1" fill="none" stroke="#4a744a" stroke-width="0.39199999999999996" stroke-linecap="round"/>
<path d="M963.2,1185.5C963.6,1186.7 965.8,1187.5 967,1187.1C966.4,1185.9 964.3,1185 963.2,1185.5Z" fill="#4a744a"/>
<path d="M964.5,1184.7C965.7,1185.3 967.2,1184.2 967.4,1182.9C966.1,1182.5 964.5,1183.4 964.5,1184.7Z" fill="#4a744a"/>
<path d="M957.5,1185.9L950.1,1180.2" fill="none" stroke="#4a744a" stroke-width="0.5599999999999999" stroke-linecap="round"/>
<path d="M955.7,1184.5L950.9,1186" fill="none" stroke="#4a744a" stroke-width="0.39199999999999996" stroke-linecap="round"/>
<path d="M955.7,1184.5C954.4,1183.7 951.8,1184.7 950.9,1186C952.4,1186.5 955,1185.8 955.7,1184.5Z" fill="#4a744a"/>
<path d="M955.7,1184.5L955.9,1179.5" fill="none" stroke="#4a744a" stroke-width="0.39199999999999996" stroke-linecap="round"/>
<path d="M955.7,1184.5C956.8,1183.5 956.8,1180.8 955.9,1179.5C954.9,1180.7 954.7,1183.4 955.7,1184.5Z" fill="#4a744a"/>
<path d="M954.2,1183.3L950,1184.6" fill="none" stroke="#4a744a" stroke-width="0.39199999999999996" stroke-linecap="round"/>
<path d="M954.2,1183.3C953.1,1182.7 950.8,1183.5 950,1184.6C951.3,1185.1 953.6,1184.5 954.2,1183.3Z" fill="#4a744a"/>
<path d="M954.2,1183.3L954.4,1179" fill="none" stroke="#4a744a" stroke-width="0.39199999999999996" stroke-linecap="round"/>
<path d="M954.2,1183.3C955.2,1182.5 955.2,1180.1 954.4,1179C953.5,1180 953.3,1182.4 954.2,1183.3Z" fill="#4a744a"/>
<path d="M952.7,1182.2L949.2,1183.3" fill="none" stroke="#4a744a" stroke-width="0.39199999999999996" stroke-linecap="round"/>
<path d="M952.7,1182.2C951.7,1181.5 949.8,1182.2 949.2,1183.3C950.3,1183.8 952.3,1183.3 952.7,1182.2Z" fill="#4a744a"/>
<path d="M952.7,1182.2L952.9,1178.5" fill="none" stroke="#4a744a" stroke-width="0.39199999999999996" stroke-linecap="round"/>
<path d="M952.7,1182.2C953.7,1181.5 953.7,1179.4 952.9,1178.5C952,1179.4 951.8,1181.4 952.7,1182.2Z" fill="#4a744a"/>
<path d="M951.6,1181.3C951.8,1180.1 950.4,1179.2 949.2,1179.5C949.2,1180.7 950.5,1181.8 951.6,1181.3Z" fill="#4a744a"/>
<path d="M957.5,1185.9L965.5,1180.9" fill="none" stroke="#4a744a" stroke-width="0.5599999999999999" stroke-linecap="round"/>
<path d="M959.5,1184.6L959.8,1179.6" fill="none" stroke="#4a744a" stroke-width="0.39199999999999996" stroke-linecap="round"/>
<path d="M959.5,1184.6C960.7,1183.7 960.7,1180.9 959.8,1179.6C958.7,1180.8 958.5,1183.6 959.5,1184.6Z" fill="#4a744a"/>
<path d="M959.5,1184.6L964.2,1186.6" fill="none" stroke="#4a744a" stroke-width="0.39199999999999996" stroke-linecap="round"/>
<path d="M959.5,1184.6C960.1,1186 962.6,1187 964.2,1186.6C963.4,1185.2 960.9,1184 959.5,1184.6Z" fill="#4a744a"/>
<path d="M961.1,1183.6L961.3,1179.3" fill="none" stroke="#4a744a" stroke-width="0.39199999999999996" stroke-linecap="round"/>
<path d="M961.1,1183.6C962.1,1182.8 962.1,1180.4 961.3,1179.3C960.4,1180.3 960.2,1182.7 961.1,1183.6Z" fill="#4a744a"/>
<path d="M961.1,1183.6L965.1,1185.3" fill="none" stroke="#4a744a" stroke-width="0.39199999999999996" stroke-linecap="round"/>
<path d="M961.1,1183.6C961.6,1184.8 963.8,1185.7 965.1,1185.3C964.5,1184.1 962.3,1183.1 961.1,1183.6Z" fill="#4a744a"/>
<path d="M962.7,1182.6L962.9,1178.9" fill="none" stroke="#4a744a" stroke-width="0.39199999999999996" stroke-linecap="round"/>
<path d="M962.7,1182.6C963.7,1181.9 963.7,1179.9 962.9,1178.9C962,1179.8 961.8,1181.8 962.7,1182.6Z" fill="#4a744a"/>
<path d="M962.7,1182.6L966.1,1184" fill="none" stroke="#4a744a" stroke-width="0.39199999999999996" stroke-linecap="round"/>
<path d="M962.7,1182.6C963,1183.8 965,1184.5 966.1,1184C965.6,1182.9 963.8,1182 962.7,1182.6Z" fill="#4a744a"/>
<path d="M963.9,1181.9C965,1182.4 966.3,1181.5 966.5,1180.3C965.3,1179.8 963.8,1180.6 963.9,1181.9Z" fill="#4a744a"/>
<path d="M957.7,1182.6L951.2,1177.6" fill="none" stroke="#4a744a" stroke-width="0.5599999999999999" stroke-linecap="round"/>
<path d="M956.1,1181.3L951.9,1182.7" fill="none" stroke="#4a744a" stroke-width="0.39199999999999996" stroke-linecap="round"/>
<path d="M956.1,1181.3C954.9,1180.7 952.7,1181.5 951.9,1182.7C953.2,1183.1 955.5,1182.5 956.1,1181.3Z" fill="#4a744a"/>
<path d="M956.1,1181.3L956.3,1176.9" fill="none" stroke="#4a744a" stroke-width="0.39199999999999996" stroke-linecap="round"/>
<path d="M956.1,1181.3C957,1180.5 957.1,1178.1 956.3,1176.9C955.4,1178 955.2,1180.4 956.1,1181.3Z" fill="#4a744a"/>
<path d="M954.8,1180.3L951.1,1181.5" fill="none" stroke="#4a744a" stroke-width="0.39199999999999996" stroke-linecap="round"/>
<path d="M954.8,1180.3C953.7,1179.7 951.8,1180.4 951.1,1181.5C952.3,1182 954.3,1181.5 954.8,1180.3Z" fill="#4a744a"/>
<path d="M954.8,1180.3L954.9,1176.5" fill="none" stroke="#4a744a" stroke-width="0.39199999999999996" stroke-linecap="round"/>
<path d="M954.8,1180.3C955.7,1179.6 955.7,1177.5 954.9,1176.5C954,1177.4 953.9,1179.5 954.8,1180.3Z" fill="#4a744a"/>
<path d="M953.4,1179.3L950.4,1180.3" fill="none" stroke="#4a744a" stroke-width="0.39199999999999996" stroke-linecap="round"/>
<path d="M953.4,1179.3C952.5,1178.6 950.9,1179.2 950.4,1180.3C951.4,1180.9 953.1,1180.4 953.4,1179.3Z" fill="#4a744a"/>
<path d="M953.4,1179.3L953.6,1176.1" fill="none" stroke="#4a744a" stroke-width="0.39199999999999996" stroke-linecap="round"/>
<path d="M953.4,1179.3C954.4,1178.7 954.4,1176.9 953.6,1176.1C952.7,1176.9 952.5,1178.6 953.4,1179.3Z" fill="#4a744a"/>
<path d="M952.5,1178.6C952.7,1177.4 951.5,1176.6 950.4,1177C950.3,1178.1 951.4,1179.1 952.5,1178.6Z" fill="#4a744a"/>
<path d="M957.7,1182.6L964.7,1178.2" fill="none" stroke="#4a744a" stroke-width="0.5599999999999999" stroke-linecap="round"/>
<path d="M959.4,1181.5L959.6,1177.1" fill="none" stroke="#4a744a" stroke-width="0.39199999999999996" stroke-linecap="round"/>
<path d="M959.4,1181.5C960.4,1180.7 960.4,1178.2 959.6,1177.1C958.7,1178.2 958.5,1180.6 959.4,1181.5Z" fill="#4a744a"/>
<path d="M959.4,1181.5L963.5,1183.2" fill="none" stroke="#4a744a" stroke-width="0.39199999999999996" stroke-linecap="round"/>
<path d="M959.4,1181.5C959.9,1182.7 962.2,1183.5 963.5,1183.2C962.8,1182 960.6,1181 959.4,1181.5Z" fill="#4a744a"/>
<path d="M960.8,1180.6L961,1176.8" fill="none" stroke="#4a744a" stroke-width="0.39199999999999996" stroke-linecap="round"/>
<path d="M960.8,1180.6C961.8,1179.9 961.8,1177.8 961,1176.8C960.1,1177.7 959.9,1179.8 960.8,1180.6Z" fill="#4a744a"/>
<path d="M960.8,1180.6L964.4,1182.1" fill="none" stroke="#4a744a" stroke-width="0.39199999999999996" stroke-linecap="round"/>
<path d="M960.8,1180.6C961.2,1181.8 963.2,1182.5 964.4,1182.1C963.8,1180.9 961.9,1180 960.8,1180.6Z" fill="#4a744a"/>
<path d="M962.2,1179.7L962.4,1176.5" fill="none" stroke="#4a744a" stroke-width="0.39199999999999996" stroke-linecap="round"/>
<path d="M962.2,1179.7C963.2,1179.1 963.2,1177.3 962.4,1176.5C961.5,1177.3 961.3,1179 962.2,1179.7Z" fill="#4a744a"/>
<path d="M962.2,1179.7L965.2,1181" fill="none" stroke="#4a744a" stroke-width="0.39199999999999996" stroke-linecap="round"/>
<path d="M962.2,1179.7C962.5,1180.8 964.2,1181.4 965.2,1181C964.8,1179.9 963.2,1179.1 962.2,1179.7Z" fill="#4a744a"/>
<path d="M963.3,1179.1C964.3,1179.7 965.5,1178.8 965.5,1177.6C964.4,1177.2 963.2,1177.9 963.3,1179.1Z" fill="#4a744a"/>
<path d="M957.8,1180.4C960.2,1179.1 960.2,1175.2 958.1,1173.4C955.9,1175 955.5,1178.9 957.8,1180.4Z" fill="#4a744a"/>
<path d="M960,1200L962,1216" fill="none" stroke="#4a744a" stroke-width="0.8" stroke-linecap="round"/>
<path d="M960.5,1204L968.1,1208" fill="none" stroke="#4a744a" stroke-width="0.5599999999999999" stroke-linecap="round"/>
<path d="M962.4,1205L966.5,1202.9" fill="none" stroke="#4a744a" stroke-width="0.39199999999999996" stroke-linecap="round"/>
<path d="M962.4,1205C963.7,1205.5 965.8,1204.2 966.5,1202.9C965,1202.7 962.8,1203.7 962.4,1205Z" fill="#4a744a"/>
<path d="M962.4,1205L963,1209.5" fill="none" stroke="#4a744a" stroke-width="0.39199999999999996" stroke-linecap="round"/>
<path d="M962.4,1205C961.5,1206 962,1208.5 963,1209.5C963.7,1208.3 963.5,1205.8 962.4,1205Z" fill="#4a744a"/>
<path d="M963.9,1205.8L967.4,1204" fill="none" stroke="#4a744a" stroke-width="0.39199999999999996" stroke-linecap="round"/>
<path d="M963.9,1205.8C965,1206.3 966.9,1205.2 967.4,1204C966.2,1203.7 964.2,1204.6 963.9,1205.8Z" fill="#4a744a"/>
<path d="M963.9,1205.8L964.4,1209.7" fill="none" stroke="#4a744a" stroke-width="0.39199999999999996" stroke-linecap="round"/>
<path d="M963.9,1205.8C963.1,1206.7 963.5,1208.9 964.4,1209.7C965.1,1208.7 964.9,1206.5 963.9,1205.8Z" fill="#4a744a"/>
<path d="M965.4,1206.6L968.4,1205.1" fill="none" stroke="#4a744a" stroke-width="0.39199999999999996" stroke-linecap="round"/>
<path d="M965.4,1206.6C966.5,1207.1 968.1,1206.2 968.4,1205.1C967.3,1204.7 965.6,1205.5 965.4,1206.6Z" fill="#4a744a"/>
<path d="M965.4,1206.6L965.9,1210" fill="none" stroke="#4a744a" stroke-width="0.39199999999999996" stroke-linecap="round"/>
<path d="M965.4,1206.6C964.6,1207.4 964.9,1209.2 965.9,1210C966.6,1209 966.4,1207.2 965.4,1206.6Z" fill="#4a744a"/>
<path d="M966.6,1207.2C966.6,1208.4 967.9,1209 969,1208.5C968.8,1207.3 967.6,1206.5 966.6,1207.2Z" fill="#4a744a"/>
<path d="M960.5,1204L954.1,1209.8" fill="none" stroke="#4a744a" stroke-width="0.5599999999999999" stroke-linecap="round"/>
<path d="M958.9,1205.4L959.5,1210" fill="none" stroke="#4a744a" stroke-width="0.39199999999999996" stroke-linecap="round"/>
<path d="M958.9,1205.4C958.1,1206.5 958.5,1209 959.5,1210C960.2,1208.7 960,1206.2 958.9,1205.4Z" fill="#4a744a"/>
<path d="M958.9,1205.4L954.5,1204.4" fill="none" stroke="#4a744a" stroke-width="0.39199999999999996" stroke-linecap="round"/>
<path d="M958.9,1205.4C958.2,1204.3 955.8,1203.8 954.5,1204.4C955.4,1205.5 957.8,1206.2 958.9,1205.4Z" fill="#4a744a"/>
<path d="M957.6,1206.6L958.1,1210.5" fill="none" stroke="#4a744a" stroke-width="0.39199999999999996" stroke-linecap="round"/>
<path d="M957.6,1206.6C956.8,1207.5 957.2,1209.7 958.1,1210.5C958.8,1209.4 958.7,1207.3 957.6,1206.6Z" fill="#4a744a"/>
<path d="M957.6,1206.6L953.8,1205.7" fill="none" stroke="#4a744a" stroke-width="0.39199999999999996" stroke-linecap="round"/>
<path d="M957.6,1206.6C957.1,1205.5 954.9,1205.1 953.8,1205.7C954.5,1206.7 956.7,1207.3 957.6,1206.6Z" fill="#4a744a"/>
<path d="M956.4,1207.7L956.8,1211.1" fill="none" stroke="#4a744a" stroke-width="0.39199999999999996" stroke-linecap="round"/>
<path d="M956.4,1207.7C955.5,1208.5 955.8,1210.4 956.8,1211.1C957.5,1210.1 957.4,1208.3 956.4,1207.7Z" fill="#4a744a"/>
<path d="M956.4,1207.7L953.1,1207" fill="none" stroke="#4a744a" stroke-width="0.39199999999999996" stroke-linecap="round"/>
<path d="M956.4,1207.7C955.9,1206.7 954.1,1206.4 953.1,1207C953.7,1208 955.5,1208.5 956.4,1207.7Z" fill="#4a744a"/>
<path d="M955.4,1208.6C954.3,1208.2 953.2,1209.3 953.4,1210.5C954.5,1210.7 955.7,1209.8 955.4,1208.6Z" fill="#4a744a"/>
<path d="M960.8,1206.4L967.6,1210" fill="none" stroke="#4a744a" stroke-width="0.5599999999999999" stroke-linecap="round"/>
<path d="M962.5,1207.3L966.2,1205.4" fill="none" stroke="#4a744a" stroke-width="0.39199999999999996" stroke-linecap="round"/>
<path d="M962.5,1207.3C963.7,1207.8 965.6,1206.6 966.2,1205.4C964.9,1205.1 962.8,1206.1 962.5,1207.3Z" fill="#4a744a"/>
<path d="M962.5,1207.3L963,1211.4" fill="none" stroke="#4a744a" stroke-width="0.39199999999999996" stroke-linecap="round"/>
<path d="M962.5,1207.3C961.7,1208.2 962.1,1210.5 963,1211.4C963.7,1210.3 963.5,1208 962.5,1207.3Z" fill="#4a744a"/>
<path d="M963.9,1208L967.1,1206.4" fill="none" stroke="#4a744a" stroke-width="0.39199999999999996" stroke-linecap="round"/>
<path d="M963.9,1208C964.9,1208.5 966.7,1207.6 967.1,1206.4C965.9,1206.1 964.1,1206.9 963.9,1208Z" fill="#4a744a"/>
<path d="M963.9,1208L964.3,1211.6" fill="none" stroke="#4a744a" stroke-width="0.39199999999999996" stroke-linecap="round"/>
<path d="M963.9,1208C963,1208.9 963.4,1210.8 964.3,1211.6C965,1210.6 964.9,1208.6 963.9,1208Z" fill="#4a744a"/>
<path d="M965.2,1208.8L968,1207.4" fill="none" stroke="#4a744a" stroke-width="0.39199999999999996" stroke-linecap="round"/>
<path d="M965.2,1208.8C966.2,1209.3 967.7,1208.5 968,1207.4C966.9,1207 965.4,1207.6 965.2,1208.8Z" fill="#4a744a"/>
<path d="M965.2,1208.8L965.6,1211.8" fill="none" stroke="#4a744a" stroke-width="0.39199999999999996" stroke-linecap="round"/>
<path d="M965.2,1208.8C964.4,1209.5 964.7,1211.1 965.6,1211.8C966.4,1210.9 966.2,1209.2 965.2,1208.8Z" fill="#4a744a"/>
<path d="M966.3,1209.3C966.2,1210.5 967.5,1211 968.5,1210.5C968.4,1209.3 967.2,1208.6 966.3,1209.3Z" fill="#4a744a"/>
<path d="M960.8,1206.4L955.1,1211.6" fill="none" stroke="#4a744a" stroke-width="0.5599999999999999" stroke-linecap="round"/>
<path d="M959.4,1207.7L959.9,1211.8" fill="none" stroke="#4a744a" stroke-width="0.39199999999999996" stroke-linecap="round"/>
<path d="M959.4,1207.7C958.5,1208.6 958.9,1210.9 959.9,1211.8C960.6,1210.7 960.4,1208.4 959.4,1207.7Z" fill="#4a744a"/>
<path d="M959.4,1207.7L955.3,1206.8" fill="none" stroke="#4a744a" stroke-width="0.39199999999999996" stroke-linecap="round"/>
<path d="M959.4,1207.7C958.8,1206.6 956.5,1206.2 955.3,1206.8C956.2,1207.8 958.4,1208.4 959.4,1207.7Z" fill="#4a744a"/>
<path d="M958.2,1208.7L958.7,1212.3" fill="none" stroke="#4a744a" stroke-width="0.39199999999999996" stroke-linecap="round"/>
<path d="M958.2,1208.7C957.4,1209.6 957.7,1211.5 958.7,1212.3C959.4,1211.3 959.2,1209.3 958.2,1208.7Z" fill="#4a744a"/>
<path d="M958.2,1208.7L954.7,1207.9" fill="none" stroke="#4a744a" stroke-width="0.39199999999999996" stroke-linecap="round"/>
<path d="M958.2,1208.7C957.7,1207.7 955.8,1207.3 954.7,1207.9C955.4,1209 957.3,1209.5 958.2,1208.7Z" fill="#4a744a"/>
<path d="M957.1,1209.8L957.4,1212.8" fill="none" stroke="#4a744a" stroke-width="0.39199999999999996" stroke-linecap="round"/>
<path d="M957.1,1209.8C956.2,1210.5 956.5,1212.1 957.4,1212.8C958.2,1211.9 958.1,1210.3 957.1,1209.8Z" fill="#4a744a"/>
<path d="M957.1,1209.8L954.1,1209.1" fill="none" stroke="#4a744a" stroke-width="0.39199999999999996" stroke-linecap="round"/>
<path d="M957.1,1209.8C956.7,1208.7 955,1208.4 954.1,1209.1C954.7,1210.1 956.3,1210.5 957.1,1209.8Z" fill="#4a744a"/>
<path d="M956.2,1210.6C955.1,1210.1 954.2,1211.1 954.4,1212.2C955.5,1212.5 956.6,1211.7 956.2,1210.6Z" fill="#4a744a"/>
<path d="M961.1,1208.8L967.2,1212" fill="none" stroke="#4a744a" stroke-width="0.5599999999999999" stroke-linecap="round"/>
<path d="M962.6,1209.6L965.9,1207.9" fill="none" stroke="#4a744a" stroke-width="0.39199999999999996" stroke-linecap="round"/>
<path d="M962.6,1209.6C963.7,1210.1 965.5,1209.1 965.9,1207.9C964.7,1207.6 962.9,1208.4 962.6,1209.6Z" fill="#4a744a"/>
<path d="M962.6,1209.6L963.1,1213.2" fill="none" stroke="#4a744a" stroke-width="0.39199999999999996" stroke-linecap="round"/>
<path d="M962.6,1209.6C961.8,1210.4 962.1,1212.4 963.1,1213.2C963.8,1212.2 963.6,1210.2 962.6,1209.6Z" fill="#4a744a"/>
<path d="M963.8,1210.3L966.7,1208.8" fill="none" stroke="#4a744a" stroke-width="0.39199999999999996" stroke-linecap="round"/>
<path d="M963.8,1210.3C964.8,1210.8 966.4,1209.9 966.7,1208.8C965.6,1208.4 964,1209.1 963.8,1210.3Z" fill="#4a744a"/>
<path d="M963.8,1210.3L964.2,1213.4" fill="none" stroke="#4a744a" stroke-width="0.39199999999999996" stroke-linecap="round"/>
<path d="M963.8,1210.3C963,1211 963.3,1212.7 964.2,1213.4C965,1212.5 964.8,1210.8 963.8,1210.3Z" fill="#4a744a"/>
<path d="M965.1,1210.9L967.5,1209.7" fill="none" stroke="#4a744a" stroke-width="0.39199999999999996" stroke-linecap="round"/>
<path d="M965.1,1210.9C966,1211.5 967.2,1210.7 967.5,1209.7C966.5,1209.2 965.1,1209.8 965.1,1210.9Z" fill="#4a744a"/>
<path d="M965.1,1210.9L965.4,1213.6" fill="none" stroke="#4a744a" stroke-width="0.39199999999999996" stroke-linecap="round"/>
<path d="M965.1,1210.9C964.2,1211.5 964.5,1213 965.4,1213.6C966.1,1212.8 966.1,1211.3 965.1,1210.9Z" fill="#4a744a"/>
<path d="M966,1211.4C965.9,1212.5 967,1213 967.9,1212.4C967.9,1211.3 966.9,1210.6 966,1211.4Z" fill="#4a744a"/>
<path d="M961.1,1208.8L956,1213.4" fill="none" stroke="#4a744a" stroke-width="0.5599999999999999" stroke-linecap="round"/>
<path d="M959.8,1210L960.3,1213.6" fill="none" stroke="#4a744a" stroke-width="0.39199999999999996" stroke-linecap="round"/>
<path d="M959.8,1210C959,1210.8 959.3,1212.8 960.3,1213.6C961,1212.6 960.8,1210.6 959.8,1210Z" fill="#4a744a"/>
<path d="M959.8,1210L956.2,1209.1" fill="none" stroke="#4a744a" stroke-width="0.39199999999999996" stroke-linecap="round"/>
<path d="M959.8,1210C959.3,1208.9 957.3,1208.5 956.2,1209.1C957,1210.2 958.9,1210.7 959.8,1210Z" fill="#4a744a"/>
<path d="M958.8,1210.9L959.2,1214" fill="none" stroke="#4a744a" stroke-width="0.39199999999999996" stroke-linecap="round"/>
<path d="M958.8,1210.9C958,1211.6 958.3,1213.4 959.2,1214C959.9,1213.1 959.8,1211.4 958.8,1210.9Z" fill="#4a744a"/>
<path d="M958.8,1210.9L955.7,1210.2" fill="none" stroke="#4a744a" stroke-width="0.39199999999999996" stroke-linecap="round"/>
<path d="M958.8,1210.9C958.4,1209.8 956.7,1209.5 955.7,1210.2C956.3,1211.2 958,1211.6 958.8,1210.9Z" fill="#4a744a"/>
<path d="M957.8,1211.8L958.1,1214.5" fill="none" stroke="#4a744a" stroke-width="0.39199999999999996" stroke-linecap="round"/>
<path d="M957.8,1211.8C956.9,1212.5 957.2,1213.9 958.1,1214.5C958.9,1213.7 958.8,1212.2 957.8,1211.8Z" fill="#4a744a"/>
<path d="M957.8,1211.8L955.1,1211.2" fill="none" stroke="#4a744a" stroke-width="0.39199999999999996" stroke-linecap="round"/>
<path d="M957.8,1211.8C957.5,1210.8 956,1210.5 955.1,1211.2C955.6,1212.2 957,1212.6 957.8,1211.8Z" fill="#4a744a"/>
<path d="M957,1212.5C956,1212 955.1,1212.9 955.4,1214C956.4,1214.3 957.4,1213.6 957,1212.5Z" fill="#4a744a"/>
<path d="M961.4,1211.2L966.7,1214" fill="none" stroke="#4a744a" stroke-width="0.5599999999999999" stroke-linecap="round"/>
<path d="M962.7,1211.9L965.6,1210.4" fill="none" stroke="#4a744a" stroke-width="0.39199999999999996" stroke-linecap="round"/>
<path d="M962.7,1211.9C963.7,1212.4 965.3,1211.6 965.6,1210.4C964.5,1210.1 962.9,1210.8 962.7,1211.9Z" fill="#4a744a"/>
<path d="M962.7,1211.9L963.1,1215.1" fill="none" stroke="#4a744a" stroke-width="0.39199999999999996" stroke-linecap="round"/>
<path d="M962.7,1211.9C961.9,1212.7 962.2,1214.4 963.1,1215.1C963.9,1214.2 963.7,1212.4 962.7,1211.9Z" fill="#4a744a"/>
<path d="M963.8,1212.5L966.3,1211.2" fill="none" stroke="#4a744a" stroke-width="0.39199999999999996" stroke-linecap="round"/>
<path d="M963.8,1212.5C964.7,1213 966.1,1212.3 966.3,1211.2C965.3,1210.8 963.9,1211.4 963.8,1212.5Z" fill="#4a744a"/>
<path d="M963.8,1212.5L964.2,1215.2" fill="none" stroke="#4a744a" stroke-width="0.39199999999999996" stroke-linecap="round"/>
<path d="M963.8,1212.5C962.9,1213.1 963.2,1214.7 964.2,1215.2C964.9,1214.4 964.8,1212.9 963.8,1212.5Z" fill="#4a744a"/>
<path d="M964.9,1213L967,1212" fill="none" stroke="#4a744a" stroke-width="0.39199999999999996" stroke-linecap="round"/>
<path d="M964.9,1213C965.7,1213.7 966.8,1213 967,1212C966.1,1211.5 964.9,1212 964.9,1213Z" fill="#4a744a"/>
<path d="M964.9,1213L965.2,1215.4" fill="none" stroke="#4a744a" stroke-width="0.39199999999999996" stroke-linecap="round"/>
<path d="M964.9,1213C964,1213.6 964.3,1214.9 965.2,1215.4C965.9,1214.7 965.9,1213.4 964.9,1213Z" fill="#4a744a"/>
<path d="M965.7,1213.5C965.5,1214.6 966.5,1215 967.4,1214.4C967.4,1213.3 966.5,1212.7 965.7,1213.5Z" fill="#4a744a"/>
<path d="M961.4,1211.2L956.9,1215.3" fill="none" stroke="#4a744a" stroke-width="0.5599999999999999" stroke-linecap="round"/>
<path d="M960.3,1212.2L960.7,1215.4" fill="none" stroke="#4a744a" stroke-width="0.39199999999999996" stroke-linecap="round"/>
<path d="M960.3,1212.2C959.4,1213 959.7,1214.7 960.7,1215.4C961.4,1214.5 961.3,1212.7 960.3,1212.2Z" fill="#4a744a"/>
<path d="M960.3,1212.2L957.1,1211.5" fill="none" stroke="#4a744a" stroke-width="0.39199999999999996" stroke-linecap="round"/>
<path d="M960.3,1212.2C959.9,1211.2 958.1,1210.9 957.1,1211.5C957.7,1212.5 959.4,1213 960.3,1212.2Z" fill="#4a744a"/>
<path d="M959.4,1213L959.7,1215.8" fill="none" stroke="#4a744a" stroke-width="0.39199999999999996" stroke-linecap="round"/>
<path d="M959.4,1213C958.5,1213.7 958.8,1215.2 959.7,1215.8C960.5,1215 960.4,1213.5 959.4,1213Z" fill="#4a744a"/>
<path d="M959.4,1213L956.7,1212.4" fill="none" stroke="#4a744a" stroke-width="0.39199999999999996" stroke-linecap="round"/>
<path d="M959.4,1213C959,1212 957.5,1211.7 956.7,1212.4C957.1,1213.4 958.6,1213.8 959.4,1213Z" fill="#4a744a"/>
<path d="M958.5,1213.8L958.8,1216.2" fill="none" stroke="#4a744a" stroke-width="0.39199999999999996" stroke-linecap="round"/>
<path d="M958.5,1213.8C957.6,1214.4 957.9,1215.7 958.8,1216.2C959.5,1215.5 959.5,1214.2 958.5,1213.8Z" fill="#4a744a"/>
<path d="M958.5,1213.8L956.2,1213.3" fill="none" stroke="#4a744a" stroke-width="0.39199999999999996" stroke-linecap="round"/>
<path d="M958.5,1213.8C958.2,1212.8 956.9,1212.6 956.2,1213.3C956.6,1214.3 957.8,1214.6 958.5,1213.8Z" fill="#4a744a"/>
<path d="M957.8,1214.4C956.8,1213.9 956.1,1214.7 956.4,1215.7C957.4,1216.1 958.2,1215.5 957.8,1214.4Z" fill="#4a744a"/>
<path d="M961.6,1212.8C960,1214 960.5,1216.8 962.2,1217.9C963.6,1216.4 963.4,1213.6 961.6,1212.8Z" fill="#4a744a"/>
<path d="M944,1138L950,1130" fill="none" stroke="#6a9a5a" stroke-width="1.1" stroke-linecap="round"/>
<path d="M948,1132L979,1125" fill="none" stroke="#4a744a" stroke-width="0.8" stroke-linecap="round"/>
<path d="M955.8,1130.2L962.2,1114.6" fill="none" stroke="#4a744a" stroke-width="0.5599999999999999" stroke-linecap="round"/>
<path d="M957.4,1126.3L952.5,1118.8" fill="none" stroke="#4a744a" stroke-width="0.39199999999999996" stroke-linecap="round"/>
<path d="M957.4,1126.3C958,1123.8 955.2,1119.7 952.5,1118.8C952.2,1121.6 954.8,1125.9 957.4,1126.3Z" fill="#4a744a"/>
<path d="M957.4,1126.3L966.1,1124.4" fill="none" stroke="#4a744a" stroke-width="0.39199999999999996" stroke-linecap="round"/>
<path d="M957.4,1126.3C959.5,1127.8 964.3,1126.5 966.1,1124.4C963.6,1123.2 958.7,1124.1 957.4,1126.3Z" fill="#4a744a"/>
<path d="M958.6,1123.2L954.4,1116.6" fill="none" stroke="#4a744a" stroke-width="0.39199999999999996" stroke-linecap="round"/>
<path d="M958.6,1123.2C959.2,1121 956.7,1117.5 954.4,1116.6C954.2,1119.1 956.4,1122.8 958.6,1123.2Z" fill="#4a744a"/>
<path d="M958.6,1123.2L966.3,1121.5" fill="none" stroke="#4a744a" stroke-width="0.39199999999999996" stroke-linecap="round"/>
<path d="M958.6,1123.2C960.5,1124.5 964.7,1123.4 966.3,1121.5C964,1120.4 959.8,1121.2 958.6,1123.2Z" fill="#4a744a"/>
<path d="M959.9,1120.1L956.3,1114.5" fill="none" stroke="#4a744a" stroke-width="0.39199999999999996" stroke-linecap="round"/>
<path d="M959.9,1120.1C960.4,1118.2 958.3,1115.2 956.3,1114.5C956.2,1116.6 958,1119.7 959.9,1120.1Z" fill="#4a744a"/>
<path d="M959.9,1120.1L966.4,1118.6" fill="none" stroke="#4a744a" stroke-width="0.39199999999999996" stroke-linecap="round"/>
<path d="M959.9,1120.1C961.5,1121.2 965.1,1120.2 966.4,1118.6C964.5,1117.7 960.9,1118.4 959.9,1120.1Z" fill="#4a744a"/>
<path d="M960.9,1117.7C963,1117.4 963.9,1114.6 962.9,1112.7C960.9,1113.3 959.6,1116 960.9,1117.7Z" fill="#4a744a"/>
<path d="M955.8,1130.2L968.3,1141.6" fill="none" stroke="#4a744a" stroke-width="0.5599999999999999" stroke-linecap="round"/>
<path d="M958.9,1133.1L967.7,1131.1" fill="none" stroke="#4a744a" stroke-width="0.39199999999999996" stroke-linecap="round"/>
<path d="M958.9,1133.1C961.1,1134.6 965.9,1133.3 967.7,1131.1C965.1,1129.9 960.2,1130.8 958.9,1133.1Z" fill="#4a744a"/>
<path d="M958.9,1133.1L957.7,1142" fill="none" stroke="#4a744a" stroke-width="0.39199999999999996" stroke-linecap="round"/>
<path d="M958.9,1133.1C956.7,1134.6 956.3,1139.6 957.7,1142C959.7,1140 960.6,1135.1 958.9,1133.1Z" fill="#4a744a"/>
<path d="M961.4,1135.4L969,1133.6" fill="none" stroke="#4a744a" stroke-width="0.39199999999999996" stroke-linecap="round"/>
<path d="M961.4,1135.4C963.3,1136.7 967.4,1135.5 969,1133.6C966.8,1132.6 962.5,1133.4 961.4,1135.4Z" fill="#4a744a"/>
<path d="M961.4,1135.4L960.4,1143.1" fill="none" stroke="#4a744a" stroke-width="0.39199999999999996" stroke-linecap="round"/>
<path d="M961.4,1135.4C959.5,1136.7 959.2,1141 960.4,1143.1C962.1,1141.4 962.8,1137.1 961.4,1135.4Z" fill="#4a744a"/>
<path d="M963.9,1137.6L970.4,1136.2" fill="none" stroke="#4a744a" stroke-width="0.39199999999999996" stroke-linecap="round"/>
<path d="M963.9,1137.6C965.5,1138.7 969,1137.8 970.4,1136.2C968.5,1135.3 964.9,1136 963.9,1137.6Z" fill="#4a744a"/>
<path d="M963.9,1137.6L963,1144.2" fill="none" stroke="#4a744a" stroke-width="0.39199999999999996" stroke-linecap="round"/>
<path d="M963.9,1137.6C962.3,1138.8 962,1142.4 963,1144.2C964.5,1142.8 965.1,1139.1 963.9,1137.6Z" fill="#4a744a"/>
<path d="M965.8,1139.4C965.4,1141.4 967.7,1143.3 969.8,1143C969.9,1140.9 967.8,1138.8 965.8,1139.4Z" fill="#4a744a"/>
<path d="M960.4,1129.2L966.2,1115.1" fill="none" stroke="#4a744a" stroke-width="0.5599999999999999" stroke-linecap="round"/>
<path d="M961.8,1125.7L957.5,1118.8" fill="none" stroke="#4a744a" stroke-width="0.39199999999999996" stroke-linecap="round"/>
<path d="M961.8,1125.7C962.4,1123.4 959.9,1119.7 957.5,1118.8C957.2,1121.4 959.5,1125.2 961.8,1125.7Z" fill="#4a744a"/>
<path d="M961.8,1125.7L969.8,1123.9" fill="none" stroke="#4a744a" stroke-width="0.39199999999999996" stroke-linecap="round"/>
<path d="M961.8,1125.7C963.8,1127 968.1,1125.9 969.8,1123.9C967.4,1122.8 963,1123.6 961.8,1125.7Z" fill="#4a744a"/>
<path d="M963,1122.8L959.2,1116.9" fill="none" stroke="#4a744a" stroke-width="0.39199999999999996" stroke-linecap="round"/>
<path d="M963,1122.8C963.5,1120.8 961.3,1117.7 959.2,1116.9C959,1119.1 961,1122.5 963,1122.8Z" fill="#4a744a"/>
<path d="M963,1122.8L969.9,1121.3" fill="none" stroke="#4a744a" stroke-width="0.39199999999999996" stroke-linecap="round"/>
<path d="M963,1122.8C964.7,1124 968.5,1123 969.9,1121.3C967.9,1120.4 964,1121.1 963,1122.8Z" fill="#4a744a"/>
<path d="M964.2,1120L960.9,1115" fill="none" stroke="#4a744a" stroke-width="0.39199999999999996" stroke-linecap="round"/>
<path d="M964.2,1120C964.6,1118.3 962.7,1115.6 960.9,1115C960.8,1116.9 962.4,1119.7 964.2,1120Z" fill="#4a744a"/>
<path d="M964.2,1120L970,1118.7" fill="none" stroke="#4a744a" stroke-width="0.39199999999999996" stroke-linecap="round"/>
<path d="M964.2,1120C965.6,1121 968.8,1120.2 970,1118.7C968.3,1117.9 965,1118.5 964.2,1120Z" fill="#4a744a"/>
<path d="M965,1117.9C966.9,1117.6 967.8,1115.1 966.9,1113.4C965.1,1114 963.9,1116.4 965,1117.9Z" fill="#4a744a"/>
<path d="M960.4,1129.2L971.7,1139.5" fill="none" stroke="#4a744a" stroke-width="0.5599999999999999" stroke-linecap="round"/>
<path d="M963.2,1131.8L971.1,1130" fill="none" stroke="#4a744a" stroke-width="0.39199999999999996" stroke-linecap="round"/>
<path d="M963.2,1131.8C965.2,1133.1 969.5,1131.9 971.1,1130C968.8,1128.9 964.4,1129.7 963.2,1131.8Z" fill="#4a744a"/>
<path d="M963.2,1131.8L962.2,1139.8" fill="none" stroke="#4a744a" stroke-width="0.39199999999999996" stroke-linecap="round"/>
<path d="M963.2,1131.8C961.3,1133.2 960.9,1137.6 962.2,1139.8C964,1138 964.7,1133.6 963.2,1131.8Z" fill="#4a744a"/>
<path d="M965.5,1133.8L972.4,1132.3" fill="none" stroke="#4a744a" stroke-width="0.39199999999999996" stroke-linecap="round"/>
<path d="M965.5,1133.8C967.2,1135 970.9,1134 972.4,1132.3C970.3,1131.3 966.5,1132 965.5,1133.8Z" fill="#4a744a"/>
<path d="M965.5,1133.8L964.6,1140.8" fill="none" stroke="#4a744a" stroke-width="0.39199999999999996" stroke-linecap="round"/>
<path d="M965.5,1133.8C963.8,1135 963.5,1138.9 964.6,1140.8C966.2,1139.2 966.8,1135.4 965.5,1133.8Z" fill="#4a744a"/>
<path d="M967.7,1135.9L973.6,1134.6" fill="none" stroke="#4a744a" stroke-width="0.39199999999999996" stroke-linecap="round"/>
<path d="M967.7,1135.9C969.2,1136.9 972.4,1136 973.6,1134.6C971.9,1133.8 968.6,1134.4 967.7,1135.9Z" fill="#4a744a"/>
<path d="M967.7,1135.9L967,1141.8" fill="none" stroke="#4a744a" stroke-width="0.39199999999999996" stroke-linecap="round"/>
<path d="M967.7,1135.9C966.3,1136.9 966,1140.2 967,1141.8C968.3,1140.5 968.9,1137.2 967.7,1135.9Z" fill="#4a744a"/>
<path d="M969.4,1137.4C969.1,1139.3 971.2,1141 973,1140.7C973.1,1138.8 971.2,1136.9 969.4,1137.4Z" fill="#4a744a"/>
<path d="M965,1128.2L970.2,1115.6" fill="none" stroke="#4a744a" stroke-width="0.5599999999999999" stroke-linecap="round"/>
<path d="M966.3,1125L962.4,1118.9" fill="none" stroke="#4a744a" stroke-width="0.39199999999999996" stroke-linecap="round"/>
<path d="M966.3,1125C966.9,1123 964.6,1119.7 962.4,1118.9C962.2,1121.2 964.3,1124.6 966.3,1125Z" fill="#4a744a"/>
<path d="M966.3,1125L973.4,1123.4" fill="none" stroke="#4a744a" stroke-width="0.39199999999999996" stroke-linecap="round"/>
<path d="M966.3,1125C968.1,1126.2 971.9,1125.2 973.4,1123.4C971.3,1122.5 967.4,1123.2 966.3,1125Z" fill="#4a744a"/>
<path d="M967.4,1122.5L964,1117.2" fill="none" stroke="#4a744a" stroke-width="0.39199999999999996" stroke-linecap="round"/>
<path d="M967.4,1122.5C967.8,1120.7 965.8,1117.9 964,1117.2C963.8,1119.2 965.6,1122.2 967.4,1122.5Z" fill="#4a744a"/>
<path d="M967.4,1122.5L973.5,1121.1" fill="none" stroke="#4a744a" stroke-width="0.39199999999999996" stroke-linecap="round"/>
<path d="M967.4,1122.5C968.9,1123.5 972.2,1122.6 973.5,1121.1C971.7,1120.3 968.3,1120.9 967.4,1122.5Z" fill="#4a744a"/>
<path d="M968.4,1120L965.5,1115.5" fill="none" stroke="#4a744a" stroke-width="0.39199999999999996" stroke-linecap="round"/>
<path d="M968.4,1120C968.8,1118.5 967.1,1116.1 965.5,1115.5C965.4,1117.2 966.9,1119.7 968.4,1120Z" fill="#4a744a"/>
<path d="M968.4,1120L973.6,1118.8" fill="none" stroke="#4a744a" stroke-width="0.39199999999999996" stroke-linecap="round"/>
<path d="M968.4,1120C969.7,1120.9 972.5,1120.1 973.6,1118.8C972.1,1118.1 969.2,1118.6 968.4,1120Z" fill="#4a744a"/>
<path d="M969.2,1118.1C970.8,1117.8 971.6,1115.6 970.8,1114.1C969.2,1114.6 968.2,1116.7 969.2,1118.1Z" fill="#4a744a"/>
<path d="M965,1128.2L975.1,1137.3" fill="none" stroke="#4a744a" stroke-width="0.5599999999999999" stroke-linecap="round"/>
<path d="M967.6,1130.4L974.6,1128.8" fill="none" stroke="#4a744a" stroke-width="0.39199999999999996" stroke-linecap="round"/>
<path d="M967.6,1130.4C969.3,1131.6 973.2,1130.6 974.6,1128.8C972.5,1127.9 968.6,1128.6 967.6,1130.4Z" fill="#4a744a"/>
<path d="M967.6,1130.4L966.6,1137.6" fill="none" stroke="#4a744a" stroke-width="0.39199999999999996" stroke-linecap="round"/>
<path d="M967.6,1130.4C965.8,1131.7 965.5,1135.6 966.6,1137.6C968.3,1136 968.9,1132.1 967.6,1130.4Z" fill="#4a744a"/>
<path d="M969.6,1132.3L975.7,1130.9" fill="none" stroke="#4a744a" stroke-width="0.39199999999999996" stroke-linecap="round"/>
<path d="M969.6,1132.3C971.1,1133.3 974.4,1132.4 975.7,1130.9C973.9,1130 970.5,1130.7 969.6,1132.3Z" fill="#4a744a"/>
<path d="M969.6,1132.3L968.8,1138.5" fill="none" stroke="#4a744a" stroke-width="0.39199999999999996" stroke-linecap="round"/>
<path d="M969.6,1132.3C968.1,1133.3 967.8,1136.8 968.8,1138.5C970.2,1137.1 970.7,1133.7 969.6,1132.3Z" fill="#4a744a"/>
<path d="M971.6,1134.1L976.8,1132.9" fill="none" stroke="#4a744a" stroke-width="0.39199999999999996" stroke-linecap="round"/>
<path d="M971.6,1134.1C972.9,1135 975.7,1134.2 976.8,1132.9C975.3,1132.2 972.4,1132.7 971.6,1134.1Z" fill="#4a744a"/>
<path d="M971.6,1134.1L970.9,1139.4" fill="none" stroke="#4a744a" stroke-width="0.39199999999999996" stroke-linecap="round"/>
<path d="M971.6,1134.1C970.3,1135 970.1,1137.9 970.9,1139.4C972.1,1138.2 972.6,1135.3 971.6,1134.1Z" fill="#4a744a"/>
<path d="M973.1,1135.5C972.8,1137.1 974.6,1138.6 976.3,1138.4C976.4,1136.7 974.7,1135 973.1,1135.5Z" fill="#4a744a"/>
<path d="M969.7,1127.1L974.2,1116.1" fill="none" stroke="#4a744a" stroke-width="0.5599999999999999" stroke-linecap="round"/>
<path d="M970.8,1124.3L967.4,1119" fill="none" stroke="#4a744a" stroke-width="0.39199999999999996" stroke-linecap="round"/>
<path d="M970.8,1124.3C971.3,1122.5 969.3,1119.7 967.4,1119C967.2,1121 969,1124 970.8,1124.3Z" fill="#4a744a"/>
<path d="M970.8,1124.3L977,1122.9" fill="none" stroke="#4a744a" stroke-width="0.39199999999999996" stroke-linecap="round"/>
<path d="M970.8,1124.3C972.4,1125.4 975.7,1124.5 977,1122.9C975.2,1122.1 971.8,1122.7 970.8,1124.3Z" fill="#4a744a"/>
<path d="M971.7,1122.1L968.8,1117.5" fill="none" stroke="#4a744a" stroke-width="0.39199999999999996" stroke-linecap="round"/>
<path d="M971.7,1122.1C972.1,1120.6 970.4,1118.1 968.8,1117.5C968.6,1119.2 970.1,1121.8 971.7,1122.1Z" fill="#4a744a"/>
<path d="M971.7,1122.1L977.1,1120.9" fill="none" stroke="#4a744a" stroke-width="0.39199999999999996" stroke-linecap="round"/>
<path d="M971.7,1122.1C973.1,1123 976,1122.3 977.1,1120.9C975.5,1120.2 972.5,1120.7 971.7,1122.1Z" fill="#4a744a"/>
<path d="M972.6,1119.9L970.1,1116" fill="none" stroke="#4a744a" stroke-width="0.39199999999999996" stroke-linecap="round"/>
<path d="M972.6,1119.9C973,1118.6 971.5,1116.5 970.1,1116C970,1117.5 971.3,1119.7 972.6,1119.9Z" fill="#4a744a"/>
<path d="M972.6,1119.9L977.2,1118.9" fill="none" stroke="#4a744a" stroke-width="0.39199999999999996" stroke-linecap="round"/>
<path d="M972.6,1119.9C973.8,1120.7 976.3,1120 977.2,1118.9C975.9,1118.3 973.3,1118.8 972.6,1119.9Z" fill="#4a744a"/>
<path d="M973.3,1118.3C974.8,1118.1 975.5,1116.1 974.8,1114.7C973.3,1115.2 972.4,1117.1 973.3,1118.3Z" fill="#4a744a"/>
<path d="M969.7,1127.1L978.5,1135.1" fill="none" stroke="#4a744a" stroke-width="0.5599999999999999" stroke-linecap="round"/>
<path d="M971.9,1129.1L978.1,1127.7" fill="none" stroke="#4a744a" stroke-width="0.39199999999999996" stroke-linecap="round"/>
<path d="M971.9,1129.1C973.4,1130.1 976.8,1129.2 978.1,1127.7C976.3,1126.9 972.8,1127.5 971.9,1129.1Z" fill="#4a744a"/>
<path d="M971.9,1129.1L971.1,1135.4" fill="none" stroke="#4a744a" stroke-width="0.39199999999999996" stroke-linecap="round"/>
<path d="M971.9,1129.1C970.4,1130.2 970.1,1133.7 971.1,1135.4C972.5,1134 973.1,1130.5 971.9,1129.1Z" fill="#4a744a"/>
<path d="M973.7,1130.7L979,1129.5" fill="none" stroke="#4a744a" stroke-width="0.39199999999999996" stroke-linecap="round"/>
<path d="M973.7,1130.7C975,1131.6 977.9,1130.8 979,1129.5C977.5,1128.8 974.5,1129.3 973.7,1130.7Z" fill="#4a744a"/>
<path d="M973.7,1130.7L973,1136.2" fill="none" stroke="#4a744a" stroke-width="0.39199999999999996" stroke-linecap="round"/>
<path d="M973.7,1130.7C972.4,1131.7 972.1,1134.7 973,1136.2C974.2,1134.9 974.7,1132 973.7,1130.7Z" fill="#4a744a"/>
<path d="M975.4,1132.3L980,1131.3" fill="none" stroke="#4a744a" stroke-width="0.39199999999999996" stroke-linecap="round"/>
<path d="M975.4,1132.3C976.6,1133.1 979.1,1132.4 980,1131.3C978.7,1130.7 976.1,1131.1 975.4,1132.3Z" fill="#4a744a"/>
<path d="M975.4,1132.3L974.8,1137" fill="none" stroke="#4a744a" stroke-width="0.39199999999999996" stroke-linecap="round"/>
<path d="M975.4,1132.3C974.3,1133.1 974.1,1135.7 974.8,1137C975.9,1135.9 976.3,1133.4 975.4,1132.3Z" fill="#4a744a"/>
<path d="M976.8,1133.5C976.5,1135 978.1,1136.3 979.6,1136.1C979.6,1134.6 978.2,1133.1 976.8,1133.5Z" fill="#4a744a"/>
<path d="M972.8,1126.4C975.5,1129.3 980.9,1127.7 982.7,1124.2C979.6,1121.7 974,1122.6 972.8,1126.4Z" fill="#4a744a"/>
<path d="M950,1131L952,1120" fill="none" stroke="#4a744a" stroke-width="0.8" stroke-linecap="round"/>
<path d="M950.5,1128.2L946.3,1124" fill="none" stroke="#4a744a" stroke-width="0.5599999999999999" stroke-linecap="round"/>
<path d="M950.5,1128.2C950.6,1126.5 948.2,1124.3 946.3,1124C946.5,1125.9 948.8,1128.3 950.5,1128.2Z" fill="#4a744a"/>
<path d="M950.5,1128.2L955.9,1125.8" fill="none" stroke="#4a744a" stroke-width="0.5599999999999999" stroke-linecap="round"/>
<path d="M950.5,1128.2C952.1,1128.9 955,1127.4 955.9,1125.8C954.1,1125.3 951.1,1126.6 950.5,1128.2Z" fill="#4a744a"/>
<path d="M950.9,1126L947.3,1122.4" fill="none" stroke="#4a744a" stroke-width="0.5599999999999999" stroke-linecap="round"/>
<path d="M950.9,1126C951,1124.5 948.9,1122.6 947.3,1122.4C947.5,1124 949.4,1126.1 950.9,1126Z" fill="#4a744a"/>
<path d="M950.9,1126L955.6,1123.9" fill="none" stroke="#4a744a" stroke-width="0.5599999999999999" stroke-linecap="round"/>
<path d="M950.9,1126C952.3,1126.6 954.8,1125.3 955.6,1123.9C954,1123.5 951.4,1124.6 950.9,1126Z" fill="#4a744a"/>
<path d="M951.3,1123.8L948.2,1120.7" fill="none" stroke="#4a744a" stroke-width="0.5599999999999999" stroke-linecap="round"/>
<path d="M951.3,1123.8C951.3,1122.6 949.6,1120.9 948.2,1120.7C948.4,1122.1 950,1123.9 951.3,1123.8Z" fill="#4a744a"/>
<path d="M951.3,1123.8L955.3,1122" fill="none" stroke="#4a744a" stroke-width="0.5599999999999999" stroke-linecap="round"/>
<path d="M951.3,1123.8C952.5,1124.3 954.6,1123.2 955.3,1122C953.9,1121.7 951.7,1122.6 951.3,1123.8Z" fill="#4a744a"/>
<path d="M951.6,1122.2C952.9,1121.7 953.1,1119.8 952.2,1118.7C951,1119.4 950.6,1121.3 951.6,1122.2Z" fill="#4a744a"/>
<path d="M898,1180.2l2.4,-0.7" stroke="#9ab89a" stroke-width="0.7" stroke-linecap="round"/>
<path d="M904.7,1197.8l2.5,0.3" stroke="#9ab89a" stroke-width="0.7" stroke-linecap="round"/>
<path d="M896.3,1184.5l0.9,2.3" stroke="#9ab89a" stroke-width="0.7" stroke-linecap="round"/>
<path d="M906.4,1193.4l-2.4,0.6" stroke="#9ab89a" stroke-width="0.7" stroke-linecap="round"/>
<path d="M908.6,1183l-1.2,2.2" stroke="#9ab89a" stroke-width="0.7" stroke-linecap="round"/>
<path d="M911.3,1193l-0.3,-2.5" stroke="#9ab89a" stroke-width="0.7" stroke-linecap="round"/>
<path d="M902.2,1182.8l1.1,2.2" stroke="#9ab89a" stroke-width="0.7" stroke-linecap="round"/>
<path d="M905.6,1200.3l-1.1,-2.3" stroke="#9ab89a" stroke-width="0.7" stroke-linecap="round"/>
<path d="M910,1197.4l-2.4,0.6" stroke="#9ab89a" stroke-width="0.7" stroke-linecap="round"/>
<path d="M896.4,1189.8l1,2.3" stroke="#9ab89a" stroke-width="0.7" stroke-linecap="round"/>
<path d="M897.9,1180.6l1.7,-1.8" stroke="#9ab89a" stroke-width="0.7" stroke-linecap="round"/>
<path d="M909.9,1182.1l0.6,-2.4" stroke="#9ab89a" stroke-width="0.7" stroke-linecap="round"/>
<path d="M908.7,1199.4l1.4,-2.1" stroke="#9ab89a" stroke-width="0.7" stroke-linecap="round"/>
<path d="M894.9,1182.4l-1.5,2" stroke="#9ab89a" stroke-width="0.7" stroke-linecap="round"/>
<path d="M908.5,1184.9l2,1.5" stroke="#9ab89a" stroke-width="0.7" stroke-linecap="round"/>
<path d="M906.1,1182l-0.9,2.3" stroke="#9ab89a" stroke-width="0.7" stroke-linecap="round"/>
<path d="M907.5,1186.9l2.1,1.3" stroke="#9ab89a" stroke-width="0.7" stroke-linecap="round"/>
<path d="M900.5,1197.9l2.3,-0.9" stroke="#9ab89a" stroke-width="0.7" stroke-linecap="round"/>
<path d="M911.1,1196.8l0.8,2.4" stroke="#9ab89a" stroke-width="0.7" stroke-linecap="round"/>
<path d="M907.4,1187.4l1.8,-1.7" stroke="#9ab89a" stroke-width="0.7" stroke-linecap="round"/>
<path d="M901.5,1196.1l-2.4,-0.8" stroke="#9ab89a" stroke-width="0.7" stroke-linecap="round"/>
<path d="M897.3,1195.9l-1.5,2" stroke="#9ab89a" stroke-width="0.7" stroke-linecap="round"/>
<path d="M910.9,1185.1l0.1,-2.5" stroke="#9ab89a" stroke-width="0.7" stroke-linecap="round"/>
<path d="M903,1196.3l0.3,2.5" stroke="#9ab89a" stroke-width="0.7" stroke-linecap="round"/>
<path d="M910.9,1182.5l-2.5,0" stroke="#9ab89a" stroke-width="0.7" stroke-linecap="round"/>
<path d="M882,1211.5l1.7,-1.8" stroke="#9ab89a" stroke-width="0.7" stroke-linecap="round"/>
<path d="M881.8,1223.2l-0.3,2.5" stroke="#9ab89a" stroke-width="0.7" stroke-linecap="round"/>
<path d="M880.7,1220.6l1.2,2.2" stroke="#9ab89a" stroke-width="0.7" stroke-linecap="round"/>
<path d="M878.4,1214.9l-1.2,-2.2" stroke="#9ab89a" stroke-width="0.7" stroke-linecap="round"/>
<path d="M885,1214.9l-2.5,-0" stroke="#9ab89a" stroke-width="0.7" stroke-linecap="round"/>
<path d="M890.7,1204.1l1.6,2" stroke="#9ab89a" stroke-width="0.7" stroke-linecap="round"/>
<path d="M890.9,1215.2l-2.5,-0.5" stroke="#9ab89a" stroke-width="0.7" stroke-linecap="round"/>
<path d="M881.2,1216.5l-2.4,-0.5" stroke="#9ab89a" stroke-width="0.7" stroke-linecap="round"/>
<path d="M873.7,1214.7l-2.2,1.2" stroke="#9ab89a" stroke-width="0.7" stroke-linecap="round"/>
<path d="M891.2,1221.3l-2.4,0.6" stroke="#9ab89a" stroke-width="0.7" stroke-linecap="round"/>
<path d="M872.2,1208.7l-1.5,2" stroke="#9ab89a" stroke-width="0.7" stroke-linecap="round"/>
<path d="M884,1211.1l-2.4,-0.7" stroke="#9ab89a" stroke-width="0.7" stroke-linecap="round"/>
<path d="M875.6,1210.2l-2.5,-0.1" stroke="#9ab89a" stroke-width="0.7" stroke-linecap="round"/>
<path d="M890.4,1222.8l1.2,2.2" stroke="#9ab89a" stroke-width="0.7" stroke-linecap="round"/>
<path d="M890.7,1221.1l0.9,2.3" stroke="#9ab89a" stroke-width="0.7" stroke-linecap="round"/>
<path d="M872.6,1206.8l2.1,-1.4" stroke="#9ab89a" stroke-width="0.7" stroke-linecap="round"/>
<path d="M888.2,1209.6l-1,2.3" stroke="#9ab89a" stroke-width="0.7" stroke-linecap="round"/>
<path d="M885.3,1200.6l0.7,-2.4" stroke="#9ab89a" stroke-width="0.7" stroke-linecap="round"/>
<path d="M896.5,1209.9l1.9,-1.7" stroke="#9ab89a" stroke-width="0.7" stroke-linecap="round"/>
<path d="M896.6,1216.4l2.5,0.4" stroke="#9ab89a" stroke-width="0.7" stroke-linecap="round"/>
<path d="M888.6,1203.5l-2.1,-1.3" stroke="#9ab89a" stroke-width="0.7" stroke-linecap="round"/>
<path d="M887.9,1221.5l2.4,0.6" stroke="#9ab89a" stroke-width="0.7" stroke-linecap="round"/>
<path d="M891,1207.5l-0.1,-2.5" stroke="#9ab89a" stroke-width="0.7" stroke-linecap="round"/>
<path d="M876.1,1201.6l-1.8,-1.7" stroke="#9ab89a" stroke-width="0.7" stroke-linecap="round"/>
<path d="M888.7,1219.6l2.2,-1.1" stroke="#9ab89a" stroke-width="0.7" stroke-linecap="round"/>
<path d="M880.7,1207.4l1.3,-2.1" stroke="#9ab89a" stroke-width="0.7" stroke-linecap="round"/>
<path d="M873.7,1208.4l1.2,2.2" stroke="#9ab89a" stroke-width="0.7" stroke-linecap="round"/>
<path d="M889,1197.7l0.2,2.5" stroke="#9ab89a" stroke-width="0.7" stroke-linecap="round"/>
<path d="M891.8,1221.4l-2.2,1.2" stroke="#9ab89a" stroke-width="0.7" stroke-linecap="round"/>
<path d="M873.4,1208.5l-0.7,2.4" stroke="#9ab89a" stroke-width="0.7" stroke-linecap="round"/>
<path d="M886.3,1197.7l0.3,2.5" stroke="#9ab89a" stroke-width="0.7" stroke-linecap="round"/>
<path d="M895.8,1204.8l-2.2,-1.2" stroke="#9ab89a" stroke-width="0.7" stroke-linecap="round"/>
<path d="M893.9,1207.6l1.4,2.1" stroke="#9ab89a" stroke-width="0.7" stroke-linecap="round"/>
<path d="M878.6,1218.7l-2.3,1" stroke="#9ab89a" stroke-width="0.7" stroke-linecap="round"/>
<path d="M879.4,1202.3l-1.1,-2.3" stroke="#9ab89a" stroke-width="0.7" stroke-linecap="round"/>
<path d="M919.8,1194.3l-2.5,-0.4" stroke="#9ab89a" stroke-width="0.7" stroke-linecap="round"/>
<path d="M927.1,1195.4l0.1,-2.5" stroke="#9ab89a" stroke-width="0.7" stroke-linecap="round"/>
<path d="M926.6,1197.4l-2.5,0.4" stroke="#9ab89a" stroke-width="0.7" stroke-linecap="round"/>
<path d="M923.9,1194.8l0.7,2.4" stroke="#9ab89a" stroke-width="0.7" stroke-linecap="round"/>
<path d="M918,1196.6l2.4,-0.8" stroke="#9ab89a" stroke-width="0.7" stroke-linecap="round"/>
<path d="M928,1211.2l-2.4,0.5" stroke="#9ab89a" stroke-width="0.7" stroke-linecap="round"/>
<path d="M923,1209.4l1.4,-2.1" stroke="#9ab89a" stroke-width="0.7" stroke-linecap="round"/>
<path d="M931.6,1200.1l-2.2,1.2" stroke="#9ab89a" stroke-width="0.7" stroke-linecap="round"/>
<path d="M926.4,1193.4l-1,2.3" stroke="#9ab89a" stroke-width="0.7" stroke-linecap="round"/>
<path d="M918.9,1195.7l1.6,-1.9" stroke="#9ab89a" stroke-width="0.7" stroke-linecap="round"/>
<path d="M923.6,1202.5l-2.4,-0.5" stroke="#9ab89a" stroke-width="0.7" stroke-linecap="round"/>
<path d="M919.3,1198.4l2.3,-1" stroke="#9ab89a" stroke-width="0.7" stroke-linecap="round"/>
<path d="M926.7,1203.1l1.7,-1.9" stroke="#9ab89a" stroke-width="0.7" stroke-linecap="round"/>
<path d="M925.6,1210.1l-2.3,-1" stroke="#9ab89a" stroke-width="0.7" stroke-linecap="round"/>
<path d="M925,1194.3l2.3,-0.9" stroke="#9ab89a" stroke-width="0.7" stroke-linecap="round"/>
<path d="M923.9,1205.8l2.2,-1.3" stroke="#9ab89a" stroke-width="0.7" stroke-linecap="round"/>
<path d="M921.6,1197.8l-2.4,0.6" stroke="#9ab89a" stroke-width="0.7" stroke-linecap="round"/>
<path d="M934,1204.1l2.1,-1.3" stroke="#9ab89a" stroke-width="0.7" stroke-linecap="round"/>
<path d="M922.5,1191.1l2.3,-0.9" stroke="#9ab89a" stroke-width="0.7" stroke-linecap="round"/>
<path d="M923.8,1204l0.3,2.5" stroke="#9ab89a" stroke-width="0.7" stroke-linecap="round"/>
<path d="M907.7,1224.9l-2.4,0.7" stroke="#9ab89a" stroke-width="0.7" stroke-linecap="round"/>
<path d="M902.4,1211.7l0.4,-2.5" stroke="#9ab89a" stroke-width="0.7" stroke-linecap="round"/>
<path d="M901.5,1226l-2.4,0.7" stroke="#9ab89a" stroke-width="0.7" stroke-linecap="round"/>
<path d="M907,1214.1l2.4,-0.6" stroke="#9ab89a" stroke-width="0.7" stroke-linecap="round"/>
<path d="M898.5,1225.6l0.8,-2.4" stroke="#9ab89a" stroke-width="0.7" stroke-linecap="round"/>
<path d="M898.7,1224.3l-2.2,-1.1" stroke="#9ab89a" stroke-width="0.7" stroke-linecap="round"/>
<path d="M902.1,1219.9l-1.5,-2" stroke="#9ab89a" stroke-width="0.7" stroke-linecap="round"/>
<path d="M904,1227.1l-2.4,-0.8" stroke="#9ab89a" stroke-width="0.7" stroke-linecap="round"/>
<path d="M906.6,1214.9l2.3,-1" stroke="#9ab89a" stroke-width="0.7" stroke-linecap="round"/>
<path d="M905.7,1227.8l2.1,-1.3" stroke="#9ab89a" stroke-width="0.7" stroke-linecap="round"/>
<path d="M902.3,1213.8l0.3,2.5" stroke="#9ab89a" stroke-width="0.7" stroke-linecap="round"/>
<path d="M903.7,1228.4l-1.7,-1.8" stroke="#9ab89a" stroke-width="0.7" stroke-linecap="round"/>
<path d="M899.3,1224.3l2.3,-1" stroke="#9ab89a" stroke-width="0.7" stroke-linecap="round"/>
<path d="M897.7,1225.2l-2.4,0.6" stroke="#9ab89a" stroke-width="0.7" stroke-linecap="round"/>
<path d="M897.7,1219.4l2.4,0.7" stroke="#9ab89a" stroke-width="0.7" stroke-linecap="round"/>
<path d="M972.6,1187.6l0.3,2.5" stroke="#9ab89a" stroke-width="0.7" stroke-linecap="round"/>
<path d="M979.1,1184.8l0,2.5" stroke="#9ab89a" stroke-width="0.7" stroke-linecap="round"/>
<path d="M959.9,1193.8l-2.2,-1.2" stroke="#9ab89a" stroke-width="0.7" stroke-linecap="round"/>
<path d="M961.7,1185.2l2.2,-1.2" stroke="#9ab89a" stroke-width="0.7" stroke-linecap="round"/>
<path d="M954.5,1189.1l-1.2,-2.2" stroke="#9ab89a" stroke-width="0.7" stroke-linecap="round"/>
<path d="M974.1,1193l1,-2.3" stroke="#9ab89a" stroke-width="0.7" stroke-linecap="round"/>
<path d="M962.4,1191.1l-2.3,-0.9" stroke="#9ab89a" stroke-width="0.7" stroke-linecap="round"/>
<path d="M962,1193.9l2.5,-0.3" stroke="#9ab89a" stroke-width="0.7" stroke-linecap="round"/>
<path d="M954.9,1197.1l-1.9,1.6" stroke="#9ab89a" stroke-width="0.7" stroke-linecap="round"/>
<path d="M981.8,1206l0.9,-2.3" stroke="#9ab89a" stroke-width="0.7" stroke-linecap="round"/>
<path d="M987.7,1201.3l2.5,0.4" stroke="#9ab89a" stroke-width="0.7" stroke-linecap="round"/>
<path d="M967.1,1195.3l-2.5,0.2" stroke="#9ab89a" stroke-width="0.7" stroke-linecap="round"/>
<path d="M964,1189.5l0.7,-2.4" stroke="#9ab89a" stroke-width="0.7" stroke-linecap="round"/>
<path d="M982.1,1189.7l1.4,2" stroke="#9ab89a" stroke-width="0.7" stroke-linecap="round"/>
<path d="M981.1,1198l-0.6,-2.4" stroke="#9ab89a" stroke-width="0.7" stroke-linecap="round"/>
<path d="M954.2,1191.4l-2.3,-1" stroke="#9ab89a" stroke-width="0.7" stroke-linecap="round"/>
<path d="M972.9,1182.3l-2,-1.5" stroke="#9ab89a" stroke-width="0.7" stroke-linecap="round"/>
<path d="M966.4,1203l2.3,1.1" stroke="#9ab89a" stroke-width="0.7" stroke-linecap="round"/>
<path d="M980.9,1195.1l-0.4,2.5" stroke="#9ab89a" stroke-width="0.7" stroke-linecap="round"/>
<path d="M974.5,1200.5l-0.5,-2.4" stroke="#9ab89a" stroke-width="0.7" stroke-linecap="round"/>
<path d="M985.4,1193.7l2.4,-0.7" stroke="#9ab89a" stroke-width="0.7" stroke-linecap="round"/>
<path d="M976.7,1207l-1.7,1.8" stroke="#9ab89a" stroke-width="0.7" stroke-linecap="round"/>
<path d="M988.1,1198.3l-2.5,-0.5" stroke="#9ab89a" stroke-width="0.7" stroke-linecap="round"/>
<path d="M976.4,1189.6l-1.8,1.7" stroke="#9ab89a" stroke-width="0.7" stroke-linecap="round"/>
<path d="M960.9,1205.6l-2.4,0.8" stroke="#9ab89a" stroke-width="0.7" stroke-linecap="round"/>
<path d="M973.4,1206.2l-1.3,2.1" stroke="#9ab89a" stroke-width="0.7" stroke-linecap="round"/>
<path d="M989.3,1199.8l-1.1,-2.2" stroke="#9ab89a" stroke-width="0.7" stroke-linecap="round"/>
<path d="M968.8,1197.9l0.9,2.3" stroke="#9ab89a" stroke-width="0.7" stroke-linecap="round"/>
<path d="M978.6,1195.8l1.4,-2.1" stroke="#9ab89a" stroke-width="0.7" stroke-linecap="round"/>
<path d="M983.3,1184.9l-1.9,-1.7" stroke="#9ab89a" stroke-width="0.7" stroke-linecap="round"/>
<path d="M967.2,1185.1l-1.5,2" stroke="#9ab89a" stroke-width="0.7" stroke-linecap="round"/>
<path d="M980.5,1198.7l-2,1.4" stroke="#9ab89a" stroke-width="0.7" stroke-linecap="round"/>
<path d="M986.9,1193l0.8,-2.4" stroke="#9ab89a" stroke-width="0.7" stroke-linecap="round"/>
<path d="M974.8,1208l2.2,-1.2" stroke="#9ab89a" stroke-width="0.7" stroke-linecap="round"/>
<path d="M984.6,1203.9l2.3,-0.9" stroke="#9ab89a" stroke-width="0.7" stroke-linecap="round"/>
<path d="M959,1200.9l2.2,1.1" stroke="#9ab89a" stroke-width="0.7" stroke-linecap="round"/>
<path d="M956.9,1200.9l1.4,2.1" stroke="#9ab89a" stroke-width="0.7" stroke-linecap="round"/>
<path d="M991.3,1197.6l-0.6,2.4" stroke="#9ab89a" stroke-width="0.7" stroke-linecap="round"/>
<path d="M980.1,1182.6l-2.5,-0" stroke="#9ab89a" stroke-width="0.7" stroke-linecap="round"/>
<path d="M967.2,1207.3l1.2,2.2" stroke="#9ab89a" stroke-width="0.7" stroke-linecap="round"/>
<path d="M967.8,1193.1l2.1,-1.3" stroke="#9ab89a" stroke-width="0.7" stroke-linecap="round"/>
<path d="M981.3,1198l2.5,-0.1" stroke="#9ab89a" stroke-width="0.7" stroke-linecap="round"/>
<path d="M967,1181.5l-0.9,-2.3" stroke="#9ab89a" stroke-width="0.7" stroke-linecap="round"/>
<path d="M979.4,1184.4l-1.4,2.1" stroke="#9ab89a" stroke-width="0.7" stroke-linecap="round"/>
<path d="M980.2,1203.6l0.1,2.5" stroke="#9ab89a" stroke-width="0.7" stroke-linecap="round"/>
<path d="M958.8,1132.1l-2.3,-1" stroke="#9ab89a" stroke-width="0.7" stroke-linecap="round"/>
<path d="M966.7,1130.5l-1.5,-2" stroke="#9ab89a" stroke-width="0.7" stroke-linecap="round"/>
<path d="M957,1122.8l-2.4,0.6" stroke="#9ab89a" stroke-width="0.7" stroke-linecap="round"/>
<path d="M953.5,1124.2l-2.3,-1" stroke="#9ab89a" stroke-width="0.7" stroke-linecap="round"/>
<path d="M960.6,1125.6l-2.4,-0.5" stroke="#9ab89a" stroke-width="0.7" stroke-linecap="round"/>
<path d="M952.7,1129.1l2.4,-0.6" stroke="#9ab89a" stroke-width="0.7" stroke-linecap="round"/>
<path d="M964.9,1125.9l-0.4,-2.5" stroke="#9ab89a" stroke-width="0.7" stroke-linecap="round"/>
<path d="M963.6,1127.9l0,2.5" stroke="#9ab89a" stroke-width="0.7" stroke-linecap="round"/>
<path d="M955.4,1131.6l-2.2,-1.2" stroke="#9ab89a" stroke-width="0.7" stroke-linecap="round"/>
<path d="M954,1129.7l2.5,-0.1" stroke="#9ab89a" stroke-width="0.7" stroke-linecap="round"/>
<path d="M964.8,1124.8l-0.3,-2.5" stroke="#9ab89a" stroke-width="0.7" stroke-linecap="round"/>
<path d="M962.5,1122.4l1.4,2.1" stroke="#9ab89a" stroke-width="0.7" stroke-linecap="round"/>
<path d="M957.9,1126l-2,1.5" stroke="#9ab89a" stroke-width="0.7" stroke-linecap="round"/>
<path d="M964.4,1133.5l0.3,-2.5" stroke="#9ab89a" stroke-width="0.7" stroke-linecap="round"/>
<path d="M965.2,1129.7l-1.8,1.7" stroke="#9ab89a" stroke-width="0.7" stroke-linecap="round"/>
<path d="M932,1216 C938,1212 944,1214 946,1220 L945,1238 C943,1246 937,1246 934,1238 Z" fill="#8a5a4a"/>
<path d="M932,1218.8L931.6,1240" fill="none" stroke="#b0a8a8" stroke-width="0.5" stroke-linecap="round"/>
<path d="M933,1218.9L933.2,1240" fill="none" stroke="#b0a8a8" stroke-width="0.5" stroke-linecap="round"/>
<path d="M934,1217.2L934.6,1240" fill="none" stroke="#b0a8a8" stroke-width="0.5" stroke-linecap="round"/>
<path d="M935,1216.3L935.2,1240" fill="none" stroke="#b0a8a8" stroke-width="0.5" stroke-linecap="round"/>
<path d="M936,1216.8L935.1,1240" fill="none" stroke="#b0a8a8" stroke-width="0.5" stroke-linecap="round"/>
<path d="M937,1217.9L937,1240" fill="none" stroke="#b0a8a8" stroke-width="0.5" stroke-linecap="round"/>
<path d="M938,1218.5L937.8,1240" fill="none" stroke="#b0a8a8" stroke-width="0.5" stroke-linecap="round"/>
<path d="M939,1219.7L939.6,1240" fill="none" stroke="#b0a8a8" stroke-width="0.5" stroke-linecap="round"/>
<path d="M940,1216.6L939,1240" fill="none" stroke="#b0a8a8" stroke-width="0.5" stroke-linecap="round"/>
<path d="M941,1219.8L940.8,1240" fill="none" stroke="#b0a8a8" stroke-width="0.5" stroke-linecap="round"/>
<path d="M942,1216.4L941.4,1240" fill="none" stroke="#b0a8a8" stroke-width="0.5" stroke-linecap="round"/>
<path d="M943,1218.8L942.4,1240" fill="none" stroke="#b0a8a8" stroke-width="0.5" stroke-linecap="round"/>
<path d="M944,1217.5L944.4,1240" fill="none" stroke="#b0a8a8" stroke-width="0.5" stroke-linecap="round"/>
<path d="M945,1217.4L945.3,1240" fill="none" stroke="#b0a8a8" stroke-width="0.5" stroke-linecap="round"/>
<path d="M940,1215Q941,1170 942.5,1154.5Q944,1139 937,1112" fill="none" stroke="#b0c040" stroke-width="2.2" stroke-linecap="round"/>
<ellipse cx="933.5" cy="1105" rx="15" ry="11" fill="#c4b0c8"/>
<path d="M946.2,1101.9l-1.5,-2" stroke="#a888b0" stroke-width="1.3" stroke-linecap="round"/>
<path d="M925.8,1098.2l-2.1,-1.3" stroke="#d8c8dc" stroke-width="1.3" stroke-linecap="round"/>
<path d="M937.1,1113.9l2.1,-1.4" stroke="#a888b0" stroke-width="1.3" stroke-linecap="round"/>
<path d="M937.8,1104.7l1.2,-2.2" stroke="#a888b0" stroke-width="1.3" stroke-linecap="round"/>
<path d="M932.6,1104.3l1.1,-2.3" stroke="#d8c8dc" stroke-width="1.3" stroke-linecap="round"/>
<path d="M937.9,1102.6l-1.5,2" stroke="#d8c8dc" stroke-width="1.3" stroke-linecap="round"/>
<path d="M936.9,1106.7l1.2,2.2" stroke="#a888b0" stroke-width="1.3" stroke-linecap="round"/>
<path d="M929.1,1111.6l-2.4,-0.6" stroke="#d8c8dc" stroke-width="1.3" stroke-linecap="round"/>
<path d="M927.9,1111.4l1.1,-2.2" stroke="#a888b0" stroke-width="1.3" stroke-linecap="round"/>
<path d="M937.8,1099.7l2.4,-0.8" stroke="#a888b0" stroke-width="1.3" stroke-linecap="round"/>
<path d="M931.1,1108l1.7,-1.9" stroke="#a888b0" stroke-width="1.3" stroke-linecap="round"/>
<path d="M936.7,1109.7l1,-2.3" stroke="#a888b0" stroke-width="1.3" stroke-linecap="round"/>
<path d="M925.8,1099.4l-2.5,0.2" stroke="#a888b0" stroke-width="1.3" stroke-linecap="round"/>
<path d="M939.6,1095.6l-2.5,-0.4" stroke="#d8c8dc" stroke-width="1.3" stroke-linecap="round"/>
<path d="M935.4,1109.3l-1.1,-2.3" stroke="#a888b0" stroke-width="1.3" stroke-linecap="round"/>
<path d="M945,1111.9l1.7,1.8" stroke="#d8c8dc" stroke-width="1.3" stroke-linecap="round"/>
<path d="M936.9,1095.8l1.7,1.8" stroke="#a888b0" stroke-width="1.3" stroke-linecap="round"/>
<path d="M946.8,1105.7l1.6,-1.9" stroke="#a888b0" stroke-width="1.3" stroke-linecap="round"/>
<path d="M940.5,1101.3l-1.4,2" stroke="#a888b0" stroke-width="1.3" stroke-linecap="round"/>
<path d="M947.4,1104.9l2,-1.5" stroke="#a888b0" stroke-width="1.3" stroke-linecap="round"/>
<path d="M929.1,1097.3l-2.5,0.1" stroke="#a888b0" stroke-width="1.3" stroke-linecap="round"/>
<path d="M938.1,1114.9l-0.8,2.4" stroke="#d8c8dc" stroke-width="1.3" stroke-linecap="round"/>
<path d="M921.2,1104.4l-0.5,2.4" stroke="#a888b0" stroke-width="1.3" stroke-linecap="round"/>
<path d="M937.4,1100l1.9,-1.7" stroke="#d8c8dc" stroke-width="1.3" stroke-linecap="round"/>
<path d="M937.8,1111.6l2.2,1.1" stroke="#a888b0" stroke-width="1.3" stroke-linecap="round"/>
<path d="M926.2,1111l1,2.3" stroke="#a888b0" stroke-width="1.3" stroke-linecap="round"/>
<path d="M936.9,1103.1l-2.5,0.4" stroke="#a888b0" stroke-width="1.3" stroke-linecap="round"/>
<path d="M933,1116l2.4,0.8" stroke="#a888b0" stroke-width="1.3" stroke-linecap="round"/>
<path d="M920.6,1108.8l0,2.5" stroke="#d8c8dc" stroke-width="1.3" stroke-linecap="round"/>
<path d="M935.2,1105.7l-2,-1.5" stroke="#a888b0" stroke-width="1.3" stroke-linecap="round"/>
<path d="M940.6,1111.7l1.4,-2.1" stroke="#a888b0" stroke-width="1.3" stroke-linecap="round"/>
<path d="M924.5,1098.6l2.5,0.2" stroke="#a888b0" stroke-width="1.3" stroke-linecap="round"/>
<path d="M925.7,1104.8l-1.8,-1.7" stroke="#d8c8dc" stroke-width="1.3" stroke-linecap="round"/>
<path d="M929.3,1109.2l2.5,0.3" stroke="#a888b0" stroke-width="1.3" stroke-linecap="round"/>
<path d="M940.7,1100.2l-2.5,-0.3" stroke="#d8c8dc" stroke-width="1.3" stroke-linecap="round"/>
<path d="M934.2,1099.6l-1.2,2.2" stroke="#a888b0" stroke-width="1.3" stroke-linecap="round"/>
<path d="M929.5,1109.2l-0.5,2.5" stroke="#d8c8dc" stroke-width="1.3" stroke-linecap="round"/>
<path d="M923.8,1107.5l-1.5,-2" stroke="#a888b0" stroke-width="1.3" stroke-linecap="round"/>
<path d="M939.1,1098.8l-2.2,1.3" stroke="#d8c8dc" stroke-width="1.3" stroke-linecap="round"/>
<path d="M932.1,1106.4l-2.3,1.1" stroke="#a888b0" stroke-width="1.3" stroke-linecap="round"/>
<path d="M942.8,1109.8l-0.7,2.4" stroke="#a888b0" stroke-width="1.3" stroke-linecap="round"/>
<path d="M929.9,1114.6l-1.9,1.7" stroke="#a888b0" stroke-width="1.3" stroke-linecap="round"/>
<path d="M942.8,1107.3l2.5,-0.3" stroke="#d8c8dc" stroke-width="1.3" stroke-linecap="round"/>
<path d="M937.7,1109.4l1,2.3" stroke="#d8c8dc" stroke-width="1.3" stroke-linecap="round"/>
<path d="M943.9,1106.1l-2.4,0.7" stroke="#d8c8dc" stroke-width="1.3" stroke-linecap="round"/>
<path d="M924.2,1110.2l-0.2,2.5" stroke="#d8c8dc" stroke-width="1.3" stroke-linecap="round"/>
<path d="M943.7,1107.5l-2.4,0.7" stroke="#a888b0" stroke-width="1.3" stroke-linecap="round"/>
<path d="M937.5,1099.2l1.4,2.1" stroke="#a888b0" stroke-width="1.3" stroke-linecap="round"/>
<path d="M926.3,1108.9l-0.4,2.5" stroke="#a888b0" stroke-width="1.3" stroke-linecap="round"/>
<path d="M929.9,1103.1l-2.3,-0.9" stroke="#d8c8dc" stroke-width="1.3" stroke-linecap="round"/>
<path d="M938.5,1103.5l-1.2,-2.2" stroke="#a888b0" stroke-width="1.3" stroke-linecap="round"/>
<path d="M943.6,1097.6l0.9,-2.3" stroke="#d8c8dc" stroke-width="1.3" stroke-linecap="round"/>
<path d="M921.9,1101.9l-0.6,-2.4" stroke="#d8c8dc" stroke-width="1.3" stroke-linecap="round"/>
<path d="M931.2,1109.7l-2.3,-0.9" stroke="#a888b0" stroke-width="1.3" stroke-linecap="round"/>
<path d="M942.4,1097.2l-0.9,-2.3" stroke="#d8c8dc" stroke-width="1.3" stroke-linecap="round"/>
<path d="M938.1,1114.3l0.9,2.3" stroke="#d8c8dc" stroke-width="1.3" stroke-linecap="round"/>
<path d="M932.4,1109.7l-2.1,-1.4" stroke="#d8c8dc" stroke-width="1.3" stroke-linecap="round"/>
<path d="M945,1110.9l-2.2,1.2" stroke="#d8c8dc" stroke-width="1.3" stroke-linecap="round"/>
<path d="M925.6,1100.5l-0.6,2.4" stroke="#a888b0" stroke-width="1.3" stroke-linecap="round"/>
<path d="M933,1115l2.4,0.8" stroke="#d8c8dc" stroke-width="1.3" stroke-linecap="round"/>
<circle cx="926.4" cy="1110.2" r="0.9" fill="#c070a0"/>
<circle cx="923.4" cy="1100.6" r="0.9" fill="#c070a0"/>
<circle cx="928.4" cy="1113" r="0.9" fill="#c070a0"/>
<circle cx="946.4" cy="1105" r="0.9" fill="#c070a0"/>
<circle cx="929.4" cy="1112.4" r="0.9" fill="#c070a0"/>
<circle cx="929.5" cy="1113.2" r="0.9" fill="#c070a0"/>
<circle cx="925.8" cy="1110.5" r="0.9" fill="#c070a0"/>
<circle cx="928" cy="1113.2" r="0.9" fill="#c070a0"/>
<circle cx="934.5" cy="1100.6" r="0.9" fill="#c070a0"/>
<circle cx="934" cy="1095.3" r="0.9" fill="#c070a0"/>
<circle cx="934" cy="1109.4" r="0.9" fill="#c070a0"/>
<circle cx="946" cy="1100.9" r="0.9" fill="#c070a0"/>
<circle cx="942" cy="1111.4" r="0.9" fill="#c070a0"/>
<circle cx="940" cy="1102.8" r="0.9" fill="#c070a0"/>
<circle cx="934.9" cy="1099.6" r="0.9" fill="#c070a0"/>
<circle cx="935.8" cy="1098.1" r="0.9" fill="#c070a0"/>
<circle cx="928.6" cy="1105.6" r="0.9" fill="#c070a0"/>
<circle cx="926.7" cy="1098.2" r="0.9" fill="#c070a0"/>
<circle cx="932.8" cy="1107.1" r="0.9" fill="#c070a0"/>
<circle cx="939.5" cy="1107.7" r="0.9" fill="#c070a0"/>
<circle cx="945.6" cy="1104.8" r="0.9" fill="#c070a0"/>
<circle cx="943.1" cy="1099.7" r="0.9" fill="#c070a0"/>
<circle cx="939.3" cy="1109.6" r="0.9" fill="#c070a0"/>
<circle cx="945.8" cy="1102.1" r="0.9" fill="#c070a0"/>
<circle cx="946.2" cy="1104.5" r="0.9" fill="#c070a0"/>
<path d="M931,1509Q915,1522 905,1526.5Q895,1531 872,1532" fill="none" stroke="#8a4a20" stroke-width="2.2" stroke-linecap="round"/>
<path d="M890,1530Q875,1520 866,1502" fill="none" stroke="#8a7a60" stroke-width="0.8" stroke-linecap="round"/>
<path d="M885,1532Q870,1540 862,1544" fill="none" stroke="#8a7a60" stroke-width="0.8" stroke-linecap="round"/>
<path d="M880,1528L868,1512" fill="none" stroke="#8a7a60" stroke-width="0.8" stroke-linecap="round"/>
<path d="M900,1530Q885,1540 870,1543" fill="none" stroke="#8a7a60" stroke-width="0.8" stroke-linecap="round"/>
<path d="M876,1533L864,1530" fill="none" stroke="#8a7a60" stroke-width="0.8" stroke-linecap="round"/>
<path d="M866,1502Q864,1520 870,1535" fill="none" stroke="#8a7a60" stroke-width="0.8" stroke-linecap="round"/>
<path d="M931,1500Q935,1452 933,1421.5Q931,1391 927,1380" fill="none" stroke="#6a9a30" stroke-width="1.6" stroke-linecap="round"/>
<path d="M929,1496Q920,1475 912,1460" fill="none" stroke="#6a9a30" stroke-width="1.2" stroke-linecap="round"/>
<path d="M934,1505Q950,1480 962,1460" fill="none" stroke="#6a9a30" stroke-width="1.2" stroke-linecap="round"/>
<path d="M936,1505Q955,1515 965,1521" fill="none" stroke="#6a9a30" stroke-width="1.2" stroke-linecap="round"/>
<path d="M931,1392Q918,1380 904,1373" fill="none" stroke="#6a9a30" stroke-width="1.1" stroke-linecap="round"/>
<path d="M932,1392Q936,1375 936,1362" fill="none" stroke="#6a9a30" stroke-width="1.1" stroke-linecap="round"/>
<path d="M911.5,1460C903.5,1458.7 898,1464.1 900.8,1469C905.1,1472.6 911.4,1468.1 911.5,1460Z" fill="#3a8a2c"/>
<path d="M911.5,1460Q906.1,1464.5 900.8,1469" fill="none" stroke="#7ab060" stroke-width="0.7"/>
<path d="M911.5,1460C908.6,1452.4 901.2,1450.3 898.3,1455.2C897.4,1460.8 904.4,1464 911.5,1460Z" fill="#3a8a2c"/>
<path d="M911.5,1460Q904.9,1457.6 898.3,1455.2" fill="none" stroke="#7ab060" stroke-width="0.7"/>
<path d="M911.5,1460C916.6,1453.7 914.7,1446.2 909.1,1446.2C903.8,1448.1 904.5,1455.8 911.5,1460Z" fill="#3a8a2c"/>
<path d="M911.5,1460Q910.3,1453.1 909.1,1446.2" fill="none" stroke="#7ab060" stroke-width="0.7"/>
<path d="M911.5,1460C919.5,1461.3 925,1455.9 922.2,1451C917.9,1447.4 911.6,1451.9 911.5,1460Z" fill="#3a8a2c"/>
<path d="M911.5,1460Q916.9,1455.5 922.2,1451" fill="none" stroke="#7ab060" stroke-width="0.7"/>
<path d="M911.5,1460C914.4,1467.6 921.8,1469.7 924.7,1464.8C925.6,1459.2 918.6,1456 911.5,1460Z" fill="#3a8a2c"/>
<path d="M911.5,1460Q918.1,1462.4 924.7,1464.8" fill="none" stroke="#7ab060" stroke-width="0.7"/>
<path d="M967,1454C958.9,1449.5 950.9,1453.1 952,1459.5C955.2,1465 963.7,1462.7 967,1454Z" fill="#3a8a2c"/>
<path d="M967,1454Q959.5,1456.7 952,1459.5" fill="none" stroke="#7ab060" stroke-width="0.7"/>
<path d="M967,1454C966.9,1444.7 959.7,1439.6 954.7,1443.7C951.5,1449.3 957.8,1455.5 967,1454Z" fill="#3a8a2c"/>
<path d="M967,1454Q960.9,1448.9 954.7,1443.7" fill="none" stroke="#7ab060" stroke-width="0.7"/>
<path d="M967,1454C975,1449.2 975.8,1440.4 969.8,1438.2C963.3,1438.2 961.1,1446.8 967,1454Z" fill="#3a8a2c"/>
<path d="M967,1454Q968.4,1446.1 969.8,1438.2" fill="none" stroke="#7ab060" stroke-width="0.7"/>
<path d="M967,1454C975.1,1458.5 983.1,1454.9 982,1448.5C978.8,1443 970.3,1445.3 967,1454Z" fill="#3a8a2c"/>
<path d="M967,1454Q974.5,1451.3 982,1448.5" fill="none" stroke="#7ab060" stroke-width="0.7"/>
<path d="M967,1454C967.1,1463.3 974.3,1468.4 979.3,1464.3C982.5,1458.7 976.2,1452.5 967,1454Z" fill="#3a8a2c"/>
<path d="M967,1454Q973.1,1459.1 979.3,1464.3" fill="none" stroke="#7ab060" stroke-width="0.7"/>
<path d="M958,1478C953.8,1473.2 947.8,1473.6 947,1478C947.8,1482.4 953.8,1482.8 958,1478Z" fill="#3a8a2c"/>
<path d="M958,1478Q952.5,1478 947,1478" fill="none" stroke="#7ab060" stroke-width="0.7"/>
<path d="M958,1478C960.1,1472 956.7,1467 952.5,1468.5C949.1,1471.3 951.7,1476.8 958,1478Z" fill="#3a8a2c"/>
<path d="M958,1478Q955.2,1473.2 952.5,1468.5" fill="none" stroke="#7ab060" stroke-width="0.7"/>
<path d="M958,1478C964.3,1476.8 966.9,1471.3 963.5,1468.5C959.3,1467 955.9,1472 958,1478Z" fill="#3a8a2c"/>
<path d="M958,1478Q960.8,1473.2 963.5,1468.5" fill="none" stroke="#7ab060" stroke-width="0.7"/>
<path d="M958,1478C962.2,1482.8 968.2,1482.4 969,1478C968.2,1473.6 962.2,1473.2 958,1478Z" fill="#3a8a2c"/>
<path d="M958,1478Q963.5,1478 969,1478" fill="none" stroke="#7ab060" stroke-width="0.7"/>
<path d="M958,1478C955.9,1484 959.3,1489 963.5,1487.5C966.9,1484.7 964.3,1479.2 958,1478Z" fill="#3a8a2c"/>
<path d="M958,1478Q960.8,1482.8 963.5,1487.5" fill="none" stroke="#7ab060" stroke-width="0.7"/>
<path d="M965.5,1521C966.5,1514.7 962.3,1510.4 958.4,1512.6C955.6,1516 959.1,1520.9 965.5,1521Z" fill="#3a8a2c"/>
<path d="M965.5,1521Q962,1516.8 958.4,1512.6" fill="none" stroke="#7ab060" stroke-width="0.7"/>
<path d="M965.5,1521C971.5,1518.7 973.1,1512.9 969.3,1510.7C964.9,1509.9 962.4,1515.4 965.5,1521Z" fill="#3a8a2c"/>
<path d="M965.5,1521Q967.4,1515.8 969.3,1510.7" fill="none" stroke="#7ab060" stroke-width="0.7"/>
<path d="M965.5,1521C970.5,1525 976.3,1523.5 976.3,1519.1C974.8,1514.9 968.8,1515.5 965.5,1521Z" fill="#3a8a2c"/>
<path d="M965.5,1521Q970.9,1520 976.3,1519.1" fill="none" stroke="#7ab060" stroke-width="0.7"/>
<path d="M965.5,1521C964.5,1527.3 968.7,1531.6 972.6,1529.4C975.4,1526 971.9,1521.1 965.5,1521Z" fill="#3a8a2c"/>
<path d="M965.5,1521Q969,1525.2 972.6,1529.4" fill="none" stroke="#7ab060" stroke-width="0.7"/>
<path d="M965.5,1521C959.5,1523.3 957.9,1529.1 961.7,1531.3C966.1,1532.1 968.6,1526.6 965.5,1521Z" fill="#3a8a2c"/>
<path d="M965.5,1521Q963.6,1526.2 961.7,1531.3" fill="none" stroke="#7ab060" stroke-width="0.7"/>
<path d="M947.5,1505C944.3,1501.3 939.6,1501.6 939,1505C939.6,1508.4 944.3,1508.7 947.5,1505Z" fill="#3a8a2c"/>
<path d="M947.5,1505Q943.2,1505 939,1505" fill="none" stroke="#7ab060" stroke-width="0.7"/>
<path d="M947.5,1505C949.1,1500.3 946.5,1496.5 943.2,1497.6C940.6,1499.8 942.6,1504.1 947.5,1505Z" fill="#3a8a2c"/>
<path d="M947.5,1505Q945.4,1501.3 943.2,1497.6" fill="none" stroke="#7ab060" stroke-width="0.7"/>
<path d="M947.5,1505C952.4,1504.1 954.4,1499.8 951.8,1497.6C948.5,1496.5 945.9,1500.3 947.5,1505Z" fill="#3a8a2c"/>
<path d="M947.5,1505Q949.6,1501.3 951.8,1497.6" fill="none" stroke="#7ab060" stroke-width="0.7"/>
<path d="M947.5,1505C950.7,1508.7 955.4,1508.4 956,1505C955.4,1501.6 950.7,1501.3 947.5,1505Z" fill="#3a8a2c"/>
<path d="M947.5,1505Q951.8,1505 956,1505" fill="none" stroke="#7ab060" stroke-width="0.7"/>
<path d="M947.5,1505C945.9,1509.7 948.5,1513.5 951.8,1512.4C954.4,1510.2 952.4,1505.9 947.5,1505Z" fill="#3a8a2c"/>
<path d="M947.5,1505Q949.6,1508.7 951.8,1512.4" fill="none" stroke="#7ab060" stroke-width="0.7"/>
<path d="M931,1500C923.2,1497.5 913,1502.4 912,1508C916.7,1511.2 927.4,1507.3 931,1500Z" fill="#2e7e26"/>
<path d="M920.5,1374.5C919.5,1371.5 916.7,1370.5 915.4,1372.3C914.9,1374.5 917.6,1375.9 920.5,1374.5Z" fill="#3a8a2c"/>
<path d="M920.5,1374.5Q918,1373.4 915.4,1372.3" fill="none" stroke="#7ab060" stroke-width="0.7"/>
<path d="M920.5,1374.5C922.9,1372.4 922.7,1369.4 920.5,1369C918.3,1369.4 918.1,1372.4 920.5,1374.5Z" fill="#3a8a2c"/>
<path d="M920.5,1374.5Q920.5,1371.8 920.5,1369" fill="none" stroke="#7ab060" stroke-width="0.7"/>
<path d="M920.5,1374.5C923.4,1375.9 926.1,1374.5 925.6,1372.3C924.3,1370.5 921.5,1371.5 920.5,1374.5Z" fill="#3a8a2c"/>
<path d="M920.5,1374.5Q923,1373.4 925.6,1372.3" fill="none" stroke="#7ab060" stroke-width="0.7"/>
<path d="M938.5,1377.5C940.2,1374.8 939.1,1372 936.9,1372.2C934.9,1373.2 935.6,1376.2 938.5,1377.5Z" fill="#3a8a2c"/>
<path d="M938.5,1377.5Q937.7,1374.9 936.9,1372.2" fill="none" stroke="#7ab060" stroke-width="0.7"/>
<path d="M938.5,1377.5C941.7,1378 943.8,1375.9 942.7,1374C941,1372.5 938.5,1374.3 938.5,1377.5Z" fill="#3a8a2c"/>
<path d="M938.5,1377.5Q940.6,1375.7 942.7,1374" fill="none" stroke="#7ab060" stroke-width="0.7"/>
<path d="M938.5,1377.5C939.3,1380.6 942.1,1381.7 943.4,1380C944,1377.8 941.5,1376.3 938.5,1377.5Z" fill="#3a8a2c"/>
<path d="M938.5,1377.5Q941,1378.7 943.4,1380" fill="none" stroke="#7ab060" stroke-width="0.7"/>
<path d="M922,1397C918.3,1396.2 915.6,1398.5 916.8,1400.9C918.7,1402.7 921.7,1400.8 922,1397Z" fill="#3a8a2c"/>
<path d="M922,1397Q919.4,1398.9 916.8,1400.9" fill="none" stroke="#7ab060" stroke-width="0.7"/>
<path d="M922,1397C921.3,1393.3 918.1,1391.7 916.4,1393.8C915.5,1396.2 918.4,1398.2 922,1397Z" fill="#3a8a2c"/>
<path d="M922,1397Q919.2,1395.4 916.4,1393.8" fill="none" stroke="#7ab060" stroke-width="0.7"/>
<path d="M922,1397C925.1,1394.9 925.3,1391.3 922.8,1390.5C920.1,1390.7 919.4,1394.2 922,1397Z" fill="#3a8a2c"/>
<path d="M922,1397Q922.4,1393.8 922.8,1390.5" fill="none" stroke="#7ab060" stroke-width="0.7"/>
<path d="M928,1385C925.2,1385.9 924.3,1388.5 926,1389.6C928,1390.1 929.3,1387.6 928,1385Z" fill="#3a8a2c"/>
<path d="M928,1385Q927,1387.3 926,1389.6" fill="none" stroke="#7ab060" stroke-width="0.7"/>
<path d="M928,1385C926.1,1382.8 923.4,1383 923,1385C923.4,1387 926.1,1387.2 928,1385Z" fill="#3a8a2c"/>
<path d="M928,1385Q925.5,1385 923,1385" fill="none" stroke="#7ab060" stroke-width="0.7"/>
<path d="M928,1385C929.3,1382.4 928,1379.9 926,1380.4C924.3,1381.5 925.2,1384.1 928,1385Z" fill="#3a8a2c"/>
<path d="M928,1385Q927,1382.7 926,1380.4" fill="none" stroke="#7ab060" stroke-width="0.7"/>
<circle cx="905" cy="1369.1" r="3.9" fill="#f2d820" stroke="#c8a818" stroke-width="0.5"/>
<circle cx="908.1" cy="1372.8" r="3.9" fill="#f2d820" stroke="#c8a818" stroke-width="0.5"/>
<circle cx="905.5" cy="1376.8" r="3.9" fill="#f2d820" stroke="#c8a818" stroke-width="0.5"/>
<circle cx="900.8" cy="1375.6" r="3.9" fill="#f2d820" stroke="#c8a818" stroke-width="0.5"/>
<circle cx="900.6" cy="1370.8" r="3.9" fill="#f2d820" stroke="#c8a818" stroke-width="0.5"/>
<circle cx="904" cy="1373" r="2.5" fill="#9aa030"/>
<circle cx="937.9" cy="1358.3" r="4.2" fill="#f2d820" stroke="#c8a818" stroke-width="0.5"/>
<circle cx="941.2" cy="1362.3" r="4.2" fill="#f2d820" stroke="#c8a818" stroke-width="0.5"/>
<circle cx="938.4" cy="1366.6" r="4.2" fill="#f2d820" stroke="#c8a818" stroke-width="0.5"/>
<circle cx="933.4" cy="1365.2" r="4.2" fill="#f2d820" stroke="#c8a818" stroke-width="0.5"/>
<circle cx="933.1" cy="1360.1" r="4.2" fill="#f2d820" stroke="#c8a818" stroke-width="0.5"/>
<circle cx="936.8" cy="1362.5" r="2.7" fill="#9aa030"/>
<path d="M920,1374C919.1,1371.6 916.7,1370.9 915.8,1372.5C915.5,1374.2 917.7,1375.3 920,1374Z" fill="#2e7a26"/>
<path d="M920,1374Q917.9,1373.2 915.8,1372.5" fill="none" stroke="#7ab060" stroke-width="0.7"/>
<path d="M920,1374C921.7,1372 921,1369.6 919.2,1369.6C917.5,1370.2 917.8,1372.7 920,1374Z" fill="#2e7a26"/>
<path d="M920,1374Q919.6,1371.8 919.2,1369.6" fill="none" stroke="#7ab060" stroke-width="0.7"/>
<path d="M920,1374C922.6,1374.4 924.4,1372.7 923.4,1371.1C922.1,1369.9 920,1371.4 920,1374Z" fill="#2e7a26"/>
<path d="M920,1374Q921.7,1372.6 923.4,1371.1" fill="none" stroke="#7ab060" stroke-width="0.7"/>
<path d="M939,1377C941,1375.3 940.8,1372.8 939,1372.5C937.2,1372.8 937,1375.3 939,1377Z" fill="#2e7a26"/>
<path d="M939,1377Q939,1374.8 939,1372.5" fill="none" stroke="#7ab060" stroke-width="0.7"/>
<path d="M939,1377C941.5,1377.9 943.5,1376.5 942.9,1374.8C941.7,1373.4 939.5,1374.4 939,1377Z" fill="#2e7a26"/>
<path d="M939,1377Q940.9,1375.9 942.9,1374.8" fill="none" stroke="#7ab060" stroke-width="0.7"/>
<path d="M939,1377C939.5,1379.6 941.7,1380.6 942.9,1379.2C943.5,1377.5 941.5,1376.1 939,1377Z" fill="#2e7a26"/>
<path d="M939,1377Q940.9,1378.1 942.9,1379.2" fill="none" stroke="#7ab060" stroke-width="0.7"/>
<path d="M916.5,1382C915.4,1380.7 913.7,1380.8 913.5,1382C913.7,1383.2 915.4,1383.3 916.5,1382Z" fill="#2e7a26"/>
<path d="M916.5,1382Q915,1382 913.5,1382" fill="none" stroke="#7ab060" stroke-width="0.7"/>
<path d="M916.5,1382C917.1,1380.4 916.1,1379 915,1379.4C914.1,1380.2 914.8,1381.7 916.5,1382Z" fill="#2e7a26"/>
<path d="M916.5,1382Q915.8,1380.7 915,1379.4" fill="none" stroke="#7ab060" stroke-width="0.7"/>
<path d="M916.5,1382C918.2,1381.7 918.9,1380.2 918,1379.4C916.9,1379 915.9,1380.4 916.5,1382Z" fill="#2e7a26"/>
<path d="M916.5,1382Q917.2,1380.7 918,1379.4" fill="none" stroke="#7ab060" stroke-width="0.7"/>
<path d="M921.5,1397.5C918.1,1396.9 915.7,1399.3 916.9,1401.4C918.8,1402.9 921.5,1401 921.5,1397.5Z" fill="#2e7a26"/>
<path d="M921.5,1397.5Q919.2,1399.4 916.9,1401.4" fill="none" stroke="#7ab060" stroke-width="0.7"/>
<path d="M921.5,1397.5C920.3,1394.2 917.1,1393.4 915.9,1395.4C915.4,1397.8 918.5,1399.2 921.5,1397.5Z" fill="#2e7a26"/>
<path d="M921.5,1397.5Q918.7,1396.5 915.9,1395.4" fill="none" stroke="#7ab060" stroke-width="0.7"/>
<path d="M921.5,1397.5C923.7,1394.8 922.9,1391.6 920.5,1391.6C918.2,1392.4 918.5,1395.7 921.5,1397.5Z" fill="#2e7a26"/>
<path d="M921.5,1397.5Q921,1394.5 920.5,1391.6" fill="none" stroke="#7ab060" stroke-width="0.7"/>
<path d="M930.5,1379.5C931.2,1377.6 930.1,1376 928.8,1376.5C927.7,1377.4 928.5,1379.1 930.5,1379.5Z" fill="#2e7a26"/>
<path d="M930.5,1379.5Q929.6,1378 928.8,1376.5" fill="none" stroke="#7ab060" stroke-width="0.7"/>
<path d="M930.5,1379.5C932.5,1379.1 933.3,1377.4 932.2,1376.5C930.9,1376 929.8,1377.6 930.5,1379.5Z" fill="#2e7a26"/>
<path d="M930.5,1379.5Q931.4,1378 932.2,1376.5" fill="none" stroke="#7ab060" stroke-width="0.7"/>
<path d="M930.5,1379.5C931.8,1381 933.8,1380.9 934,1379.5C933.8,1378.1 931.8,1378 930.5,1379.5Z" fill="#2e7a26"/>
<path d="M930.5,1379.5Q932.2,1379.5 934,1379.5" fill="none" stroke="#7ab060" stroke-width="0.7"/>
<path d="M926,1404C923.8,1404.8 923.2,1407 924.6,1407.8C926.2,1408 927.1,1406 926,1404Z" fill="#2e7a26"/>
<path d="M926,1404Q925.3,1405.9 924.6,1407.8" fill="none" stroke="#7ab060" stroke-width="0.7"/>
<path d="M926,1404C924.2,1402.5 922.1,1403.1 922.1,1404.7C922.6,1406.2 924.8,1406 926,1404Z" fill="#2e7a26"/>
<path d="M926,1404Q924,1404.3 922.1,1404.7" fill="none" stroke="#7ab060" stroke-width="0.7"/>
<path d="M926,1404C926.4,1401.7 924.8,1400.1 923.4,1400.9C922.4,1402.2 923.7,1404 926,1404Z" fill="#2e7a26"/>
<path d="M926,1404Q924.7,1402.5 923.4,1400.9" fill="none" stroke="#7ab060" stroke-width="0.7"/>
<circle cx="916.6" cy="1382.2" r="2" fill="#c8c030"/>
<path d="M920,1763Q905,1790 896.5,1802.5Q888,1815 878,1826" fill="none" stroke="#c8b08a" stroke-width="0.9" stroke-linecap="round"/>
<path d="M922,1764Q912,1800 908.5,1812.5Q905,1825 900,1834" fill="none" stroke="#c8b08a" stroke-width="0.9" stroke-linecap="round"/>
<path d="M924,1765Q925,1800 925,1830" fill="none" stroke="#c8b08a" stroke-width="0.9" stroke-linecap="round"/>
<path d="M926,1765Q929,1800 932,1833" fill="none" stroke="#c8b08a" stroke-width="0.9" stroke-linecap="round"/>
<path d="M921,1763Q915,1790 905,1820" fill="none" stroke="#c8b08a" stroke-width="0.9" stroke-linecap="round"/>
<path d="M923,1765L920,1790" fill="none" stroke="#c8b08a" stroke-width="0.9" stroke-linecap="round"/>
<path d="M927,1760Q935,1730 940,1722" fill="none" stroke="#c8b08a" stroke-width="0.9" stroke-linecap="round"/>
<path d="M926,1758Q920,1740 930,1725" fill="none" stroke="#c8b08a" stroke-width="0.9" stroke-linecap="round"/>
<path d="M925,1756Q940,1758 955,1757" fill="none" stroke="#c8b08a" stroke-width="0.9" stroke-linecap="round"/>
<path d="M923,1753Q905,1752 890.6,1743.6" fill="none" stroke="#7a9a6a" stroke-width="1.5" stroke-linecap="round"/>
<path d="M923,1753Q918,1735 914,1719" fill="none" stroke="#7a9a6a" stroke-width="1.5" stroke-linecap="round"/>
<path d="M924,1753Q945,1745 962,1741.6" fill="none" stroke="#7a9a6a" stroke-width="1.5" stroke-linecap="round"/>
<path d="M924,1754Q945,1762 965.3,1763.7" fill="none" stroke="#7a9a6a" stroke-width="1.5" stroke-linecap="round"/>
<path d="M924,1755Q935,1768 941.3,1783.2" fill="none" stroke="#7a9a6a" stroke-width="1.5" stroke-linecap="round"/>
<path d="M890.6,1743.6L896.1,1749.8 894.4,1752.2 892.3,1754.2 889.9,1755.9 887.4,1757.1 884.7,1757.7 881.9,1757.9 879.1,1757.5 876.4,1756.7 873.9,1755.3 871.7,1753.5 869.7,1751.3 868.1,1748.8 866.9,1746 866.1,1743 865.8,1740 866,1736.9 866.6,1733.8 867.6,1731 869.1,1728.3 870.9,1726 873.1,1724.1 875.5,1722.6 878.2,1721.5 880.9,1721 883.7,1721 886.4,1721.5 889.1,1722.5 891.5,1723.9 893.7,1725.8 895.6,1728.1 897.1,1730.7 898.2,1733.6 898.8,1736.6 899,1739.7 898.7,1742.8 898,1745.8Z" fill="url(#sg1)"/>
<circle cx="878.9" cy="1723.6" r="0.7" fill="#1a300c" opacity="0.5"/>
<circle cx="892.7" cy="1732.6" r="0.7" fill="#1a300c" opacity="0.5"/>
<circle cx="893.1" cy="1741.9" r="0.7" fill="#1a300c" opacity="0.5"/>
<circle cx="892.9" cy="1740.4" r="0.7" fill="#1a300c" opacity="0.5"/>
<circle cx="873.5" cy="1733.1" r="0.7" fill="#1a300c" opacity="0.5"/>
<circle cx="882.5" cy="1749" r="0.7" fill="#1a300c" opacity="0.5"/>
<circle cx="874.4" cy="1750.4" r="0.7" fill="#1a300c" opacity="0.5"/>
<circle cx="869.1" cy="1729.9" r="0.7" fill="#1a300c" opacity="0.5"/>
<circle cx="891.8" cy="1744.4" r="0.7" fill="#1a300c" opacity="0.5"/>
<circle cx="896.3" cy="1747.5" r="0.7" fill="#1a300c" opacity="0.5"/>
<circle cx="873.1" cy="1728.1" r="0.7" fill="#1a300c" opacity="0.5"/>
<circle cx="885.3" cy="1731.7" r="0.7" fill="#1a300c" opacity="0.5"/>
<circle cx="891.5" cy="1732.3" r="0.7" fill="#1a300c" opacity="0.5"/>
<circle cx="874.3" cy="1729.9" r="0.7" fill="#1a300c" opacity="0.5"/>
<circle cx="882.1" cy="1727.3" r="0.7" fill="#1a300c" opacity="0.5"/>
<circle cx="880.6" cy="1750.7" r="0.7" fill="#1a300c" opacity="0.5"/>
<circle cx="880.5" cy="1726" r="0.7" fill="#1a300c" opacity="0.5"/>
<circle cx="888.8" cy="1749.9" r="0.7" fill="#1a300c" opacity="0.5"/>
<circle cx="871.9" cy="1734.1" r="0.7" fill="#1a300c" opacity="0.5"/>
<circle cx="869.7" cy="1730.1" r="0.7" fill="#1a300c" opacity="0.5"/>
<circle cx="872.9" cy="1726.6" r="0.7" fill="#1a300c" opacity="0.5"/>
<circle cx="877.4" cy="1755.5" r="0.7" fill="#1a300c" opacity="0.5"/>
<circle cx="894.4" cy="1734.2" r="0.7" fill="#1a300c" opacity="0.5"/>
<circle cx="890.8" cy="1740.8" r="0.7" fill="#1a300c" opacity="0.5"/>
<circle cx="883.1" cy="1722.4" r="0.7" fill="#1a300c" opacity="0.5"/>
<circle cx="880.4" cy="1725.5" r="0.7" fill="#1a300c" opacity="0.5"/>
<circle cx="873.8" cy="1736.9" r="0.7" fill="#1a300c" opacity="0.5"/>
<circle cx="869.2" cy="1728.9" r="0.7" fill="#1a300c" opacity="0.5"/>
<circle cx="886.1" cy="1753.8" r="0.7" fill="#1a300c" opacity="0.5"/>
<circle cx="890.5" cy="1727" r="0.7" fill="#1a300c" opacity="0.5"/>
<circle cx="876.4" cy="1748.6" r="0.7" fill="#1a300c" opacity="0.5"/>
<circle cx="880.7" cy="1722" r="0.7" fill="#1a300c" opacity="0.5"/>
<circle cx="890.8" cy="1730.3" r="0.7" fill="#1a300c" opacity="0.5"/>
<circle cx="881.9" cy="1722.8" r="0.7" fill="#1a300c" opacity="0.5"/>
<circle cx="872.1" cy="1750.8" r="0.7" fill="#1a300c" opacity="0.5"/>
<circle cx="875" cy="1746.6" r="0.7" fill="#1a300c" opacity="0.5"/>
<circle cx="896.7" cy="1739.4" r="0.7" fill="#1a300c" opacity="0.5"/>
<circle cx="882.5" cy="1730.5" r="0.7" fill="#1a300c" opacity="0.5"/>
<circle cx="892.6" cy="1744.1" r="0.7" fill="#1a300c" opacity="0.5"/>
<circle cx="886.1" cy="1754.9" r="0.7" fill="#1a300c" opacity="0.5"/>
<circle cx="887.3" cy="1753.1" r="0.7" fill="#1a300c" opacity="0.5"/>
<circle cx="871.7" cy="1735.5" r="0.7" fill="#1a300c" opacity="0.5"/>
<circle cx="889.8" cy="1728.8" r="0.7" fill="#1a300c" opacity="0.5"/>
<circle cx="868.6" cy="1738.2" r="0.7" fill="#1a300c" opacity="0.5"/>
<circle cx="874.4" cy="1745.5" r="0.7" fill="#1a300c" opacity="0.5"/>
<circle cx="896.3" cy="1734.7" r="0.7" fill="#1a300c" opacity="0.5"/>
<circle cx="870.4" cy="1735.5" r="0.7" fill="#1a300c" opacity="0.5"/>
<circle cx="874.4" cy="1731.3" r="0.7" fill="#1a300c" opacity="0.5"/>
<circle cx="894" cy="1745.8" r="0.7" fill="#1a300c" opacity="0.5"/>
<circle cx="889.4" cy="1733.7" r="0.7" fill="#1a300c" opacity="0.5"/>
<circle cx="893.8" cy="1737.9" r="0.7" fill="#1a300c" opacity="0.5"/>
<path d="M914,1718.9L918.3,1723.9 917,1725.3 915.5,1726.4 913.8,1727.3 912,1727.8 910.2,1728 908.3,1727.9 906.5,1727.4 904.9,1726.6 903.3,1725.6 901.9,1724.2 900.8,1722.7 899.9,1720.9 899.3,1719.1 899,1717.1 899,1715.1 899.4,1713.2 900,1711.3 900.9,1709.6 902,1708.1 903.4,1706.7 905,1705.7 906.7,1704.9 908.5,1704.5 910.3,1704.4 912.2,1704.6 913.9,1705.2 915.6,1706 917.1,1707.2 918.4,1708.6 919.5,1710.2 920.3,1712 920.8,1713.9 921,1715.8 920.9,1717.8 920.5,1719.7 919.8,1721.6Z" fill="url(#sg2)"/>
<circle cx="919.7" cy="1716.1" r="0.7" fill="#1a300c" opacity="0.5"/>
<circle cx="909.1" cy="1723.2" r="0.7" fill="#1a300c" opacity="0.5"/>
<circle cx="918.1" cy="1708.8" r="0.7" fill="#1a300c" opacity="0.5"/>
<circle cx="913" cy="1707.3" r="0.7" fill="#1a300c" opacity="0.5"/>
<circle cx="900.6" cy="1713.4" r="0.7" fill="#1a300c" opacity="0.5"/>
<circle cx="914.4" cy="1706.6" r="0.7" fill="#1a300c" opacity="0.5"/>
<circle cx="907.6" cy="1726.6" r="0.7" fill="#1a300c" opacity="0.5"/>
<circle cx="918.4" cy="1713.5" r="0.7" fill="#1a300c" opacity="0.5"/>
<circle cx="916.4" cy="1716.6" r="0.7" fill="#1a300c" opacity="0.5"/>
<circle cx="905.4" cy="1709.3" r="0.7" fill="#1a300c" opacity="0.5"/>
<circle cx="917.9" cy="1711.4" r="0.7" fill="#1a300c" opacity="0.5"/>
<circle cx="908.1" cy="1709.9" r="0.7" fill="#1a300c" opacity="0.5"/>
<circle cx="900.7" cy="1714.6" r="0.7" fill="#1a300c" opacity="0.5"/>
<circle cx="918.9" cy="1710.7" r="0.7" fill="#1a300c" opacity="0.5"/>
<circle cx="909.3" cy="1725.1" r="0.7" fill="#1a300c" opacity="0.5"/>
<circle cx="915.6" cy="1715.4" r="0.7" fill="#1a300c" opacity="0.5"/>
<circle cx="915.8" cy="1719.1" r="0.7" fill="#1a300c" opacity="0.5"/>
<circle cx="909.1" cy="1708.4" r="0.7" fill="#1a300c" opacity="0.5"/>
<circle cx="907.4" cy="1705.9" r="0.7" fill="#1a300c" opacity="0.5"/>
<circle cx="911.9" cy="1710.9" r="0.7" fill="#1a300c" opacity="0.5"/>
<circle cx="906.3" cy="1706.4" r="0.7" fill="#1a300c" opacity="0.5"/>
<path d="M962,1741.6L955.9,1742.5 955.6,1739.9 955.7,1737.3 956.1,1734.7 956.9,1732.3 958.1,1730 959.6,1728 961.3,1726.3 963.2,1725 965.4,1724 967.6,1723.5 969.9,1723.4 972.1,1723.8 974.3,1724.5 976.3,1725.7 978.2,1727.3 979.8,1729.2 981,1731.3 982,1733.7 982.6,1736.2 982.8,1738.8 982.6,1741.4 982.1,1744 981.2,1746.4 979.9,1748.6 978.4,1750.5 976.6,1752.1 974.6,1753.3 972.4,1754.2 970.2,1754.6 967.9,1754.5 965.7,1754.1 963.5,1753.2 961.5,1751.9 959.8,1750.2 958.3,1748.3 957.1,1746Z" fill="url(#sg3)"/>
<circle cx="965.5" cy="1725.3" r="0.7" fill="#1a300c" opacity="0.5"/>
<circle cx="973.8" cy="1727.5" r="0.7" fill="#1a300c" opacity="0.5"/>
<circle cx="976.3" cy="1729.9" r="0.7" fill="#1a300c" opacity="0.5"/>
<circle cx="976" cy="1745.3" r="0.7" fill="#1a300c" opacity="0.5"/>
<circle cx="977.5" cy="1734.7" r="0.7" fill="#1a300c" opacity="0.5"/>
<circle cx="956.8" cy="1741.6" r="0.7" fill="#1a300c" opacity="0.5"/>
<circle cx="964.4" cy="1726.2" r="0.7" fill="#1a300c" opacity="0.5"/>
<circle cx="959" cy="1741.2" r="0.7" fill="#1a300c" opacity="0.5"/>
<circle cx="976.3" cy="1743.3" r="0.7" fill="#1a300c" opacity="0.5"/>
<circle cx="975" cy="1749.2" r="0.7" fill="#1a300c" opacity="0.5"/>
<circle cx="962.4" cy="1737.7" r="0.7" fill="#1a300c" opacity="0.5"/>
<circle cx="964.5" cy="1732.9" r="0.7" fill="#1a300c" opacity="0.5"/>
<circle cx="964.4" cy="1743.8" r="0.7" fill="#1a300c" opacity="0.5"/>
<circle cx="961.7" cy="1740.4" r="0.7" fill="#1a300c" opacity="0.5"/>
<circle cx="977.9" cy="1735.1" r="0.7" fill="#1a300c" opacity="0.5"/>
<circle cx="973.9" cy="1729" r="0.7" fill="#1a300c" opacity="0.5"/>
<circle cx="963.4" cy="1751.6" r="0.7" fill="#1a300c" opacity="0.5"/>
<circle cx="967.6" cy="1750.8" r="0.7" fill="#1a300c" opacity="0.5"/>
<circle cx="960.7" cy="1727.4" r="0.7" fill="#1a300c" opacity="0.5"/>
<circle cx="967.3" cy="1731.7" r="0.7" fill="#1a300c" opacity="0.5"/>
<circle cx="956.7" cy="1743.1" r="0.7" fill="#1a300c" opacity="0.5"/>
<circle cx="974.9" cy="1730.5" r="0.7" fill="#1a300c" opacity="0.5"/>
<circle cx="975.2" cy="1746.1" r="0.7" fill="#1a300c" opacity="0.5"/>
<circle cx="969.5" cy="1730" r="0.7" fill="#1a300c" opacity="0.5"/>
<circle cx="975.9" cy="1732.8" r="0.7" fill="#1a300c" opacity="0.5"/>
<circle cx="964.9" cy="1726.7" r="0.7" fill="#1a300c" opacity="0.5"/>
<circle cx="969.7" cy="1751" r="0.7" fill="#1a300c" opacity="0.5"/>
<circle cx="963.2" cy="1731.9" r="0.7" fill="#1a300c" opacity="0.5"/>
<circle cx="958.3" cy="1736.4" r="0.7" fill="#1a300c" opacity="0.5"/>
<circle cx="977.6" cy="1736.3" r="0.7" fill="#1a300c" opacity="0.5"/>
<circle cx="974" cy="1749.5" r="0.7" fill="#1a300c" opacity="0.5"/>
<circle cx="960.8" cy="1732.3" r="0.7" fill="#1a300c" opacity="0.5"/>
<circle cx="976.1" cy="1734.2" r="0.7" fill="#1a300c" opacity="0.5"/>
<circle cx="959.1" cy="1738.4" r="0.7" fill="#1a300c" opacity="0.5"/>
<circle cx="972.4" cy="1749.9" r="0.7" fill="#1a300c" opacity="0.5"/>
<path d="M965.3,1763.7L960.7,1756.8 962.6,1755.6 964.6,1754.7 966.8,1754.2 969,1754 971.2,1754.2 973.4,1754.8 975.4,1755.7 977.2,1756.9 978.9,1758.5 980.2,1760.3 981.2,1762.3 981.9,1764.4 982.2,1766.6 982.1,1768.8 981.7,1771 980.9,1773.1 979.7,1775 978.3,1776.7 976.6,1778.1 974.7,1779.3 972.6,1780.1 970.4,1780.5 968.2,1780.6 966,1780.3 963.9,1779.6 961.9,1778.6 960.1,1777.3 958.5,1775.6 957.3,1773.8 956.4,1771.8 955.8,1769.6 955.6,1767.4 955.8,1765.2 956.3,1763 957.2,1761 958.4,1759.1Z" fill="url(#sg4)"/>
<circle cx="960.1" cy="1770" r="0.7" fill="#1a300c" opacity="0.5"/>
<circle cx="970.8" cy="1754.5" r="0.7" fill="#1a300c" opacity="0.5"/>
<circle cx="976.8" cy="1765.8" r="0.7" fill="#1a300c" opacity="0.5"/>
<circle cx="960.1" cy="1776.5" r="0.7" fill="#1a300c" opacity="0.5"/>
<circle cx="974.9" cy="1770.7" r="0.7" fill="#1a300c" opacity="0.5"/>
<circle cx="980.6" cy="1772.4" r="0.7" fill="#1a300c" opacity="0.5"/>
<circle cx="959.3" cy="1767" r="0.7" fill="#1a300c" opacity="0.5"/>
<circle cx="979" cy="1774.5" r="0.7" fill="#1a300c" opacity="0.5"/>
<circle cx="980.1" cy="1766.8" r="0.7" fill="#1a300c" opacity="0.5"/>
<circle cx="977.9" cy="1761.8" r="0.7" fill="#1a300c" opacity="0.5"/>
<circle cx="966" cy="1774.4" r="0.7" fill="#1a300c" opacity="0.5"/>
<circle cx="966.4" cy="1774.3" r="0.7" fill="#1a300c" opacity="0.5"/>
<circle cx="964.5" cy="1772" r="0.7" fill="#1a300c" opacity="0.5"/>
<circle cx="980.9" cy="1770.4" r="0.7" fill="#1a300c" opacity="0.5"/>
<circle cx="975.8" cy="1757.5" r="0.7" fill="#1a300c" opacity="0.5"/>
<circle cx="963.1" cy="1775.1" r="0.7" fill="#1a300c" opacity="0.5"/>
<circle cx="957.5" cy="1764.1" r="0.7" fill="#1a300c" opacity="0.5"/>
<circle cx="965.5" cy="1776.9" r="0.7" fill="#1a300c" opacity="0.5"/>
<circle cx="957.4" cy="1763.6" r="0.7" fill="#1a300c" opacity="0.5"/>
<circle cx="965.4" cy="1772.2" r="0.7" fill="#1a300c" opacity="0.5"/>
<circle cx="958.7" cy="1774.3" r="0.7" fill="#1a300c" opacity="0.5"/>
<circle cx="973.8" cy="1777" r="0.7" fill="#1a300c" opacity="0.5"/>
<circle cx="974.6" cy="1773.5" r="0.7" fill="#1a300c" opacity="0.5"/>
<circle cx="963.9" cy="1762.4" r="0.7" fill="#1a300c" opacity="0.5"/>
<circle cx="958.7" cy="1770.3" r="0.7" fill="#1a300c" opacity="0.5"/>
<circle cx="960" cy="1774.8" r="0.7" fill="#1a300c" opacity="0.5"/>
<circle cx="973.7" cy="1760.3" r="0.7" fill="#1a300c" opacity="0.5"/>
<circle cx="969.7" cy="1755.7" r="0.7" fill="#1a300c" opacity="0.5"/>
<circle cx="960.1" cy="1761.3" r="0.7" fill="#1a300c" opacity="0.5"/>
<path d="M941.3,1783.2L940.5,1779 942,1778.7 943.6,1778.7 945.2,1779 946.7,1779.4 948.1,1780.1 949.3,1781 950.4,1782 951.2,1783.2 951.8,1784.5 952.2,1785.9 952.3,1787.3 952.1,1788.8 951.7,1790.1 951.1,1791.4 950.2,1792.6 949.1,1793.6 947.8,1794.5 946.4,1795.1 944.9,1795.5 943.3,1795.7 941.7,1795.6 940.2,1795.3 938.7,1794.8 937.4,1794.1 936.2,1793.2 935.2,1792.1 934.4,1790.8 933.9,1789.5 933.6,1788.1 933.5,1786.7 933.7,1785.3 934.2,1783.9 935,1782.6 935.9,1781.5 937.1,1780.5 938.4,1779.8Z" fill="url(#sg5)"/>
<circle cx="935.5" cy="1784.2" r="0.7" fill="#1a300c" opacity="0.5"/>
<circle cx="940.7" cy="1782.2" r="0.7" fill="#1a300c" opacity="0.5"/>
<circle cx="938.2" cy="1781.3" r="0.7" fill="#1a300c" opacity="0.5"/>
<circle cx="934.4" cy="1789.1" r="0.7" fill="#1a300c" opacity="0.5"/>
<circle cx="940" cy="1793.3" r="0.7" fill="#1a300c" opacity="0.5"/>
<circle cx="936" cy="1784.3" r="0.7" fill="#1a300c" opacity="0.5"/>
<circle cx="946.1" cy="1793.7" r="0.7" fill="#1a300c" opacity="0.5"/>
<circle cx="948.3" cy="1791.6" r="0.7" fill="#1a300c" opacity="0.5"/>
<circle cx="935.3" cy="1789.4" r="0.7" fill="#1a300c" opacity="0.5"/>
<circle cx="948.6" cy="1780.8" r="0.7" fill="#1a300c" opacity="0.5"/>
<circle cx="944" cy="1795.1" r="0.7" fill="#1a300c" opacity="0.5"/>
<circle cx="935.9" cy="1788.3" r="0.7" fill="#1a300c" opacity="0.5"/>
<circle cx="951.3" cy="1789.2" r="0.7" fill="#1a300c" opacity="0.5"/>
<ellipse cx="921" cy="1758" rx="7" ry="6" fill="#5a3014"/>
<path d="M924,1754Q928,1700 932,1680Q936,1660 933,1613" fill="none" stroke="#8aa070" stroke-width="1.4" stroke-linecap="round"/>
<path d="M920,1617 C914,1624 909,1636 906,1647 C914,1650 924,1650 931,1648 C931,1636 930,1625 927,1617 Z" fill="#8e5aa4"/>
<path d="M915,1627 C911,1635 908,1642 906.5,1647 C911,1649 915,1649.5 919,1649.5 C919,1640 919,1632 919,1622 Z" fill="#a8a0d8" opacity="0.9"/>
<path d="M922,1620 C921,1630 922,1640 924,1649 L927,1649 C926,1638 925,1628 924,1619 Z" fill="#c070b0" opacity="0.6"/>
<path d="M906.5,1647.2l-0.4,2.5" stroke="#b0a8d0" stroke-width="0.6"/>
<path d="M908.3,1647.2l-0.3,2.4" stroke="#b0a8d0" stroke-width="0.6"/>
<path d="M910.1,1647.5l-0.2,3.1" stroke="#b0a8d0" stroke-width="0.6"/>
<path d="M911.9,1647.9l0.7,2.6" stroke="#b0a8d0" stroke-width="0.6"/>
<path d="M913.7,1647.7l0.4,3.1" stroke="#b0a8d0" stroke-width="0.6"/>
<path d="M915.5,1647.4l-0.5,3.1" stroke="#b0a8d0" stroke-width="0.6"/>
<path d="M917.3,1647.7l-0.2,3" stroke="#b0a8d0" stroke-width="0.6"/>
<path d="M919.1,1647.1l0.5,3.3" stroke="#b0a8d0" stroke-width="0.6"/>
<path d="M920.9,1648l-0.6,3" stroke="#b0a8d0" stroke-width="0.6"/>
<path d="M922.7,1647.8l-0.6,2.9" stroke="#b0a8d0" stroke-width="0.6"/>
<path d="M924.5,1647.2l-0.5,2" stroke="#b0a8d0" stroke-width="0.6"/>
<path d="M926.3,1647.3l0.6,2.9" stroke="#b0a8d0" stroke-width="0.6"/>
<path d="M928.1,1647.8l0.8,2.2" stroke="#b0a8d0" stroke-width="0.6"/>
<path d="M929.9,1647.8l0.6,3" stroke="#b0a8d0" stroke-width="0.6"/>
<path d="M917,1618 Q920,1612 925,1612 Q930,1614 928,1620 Q922,1622 917,1618 Z" fill="#4a8a3a"/>
<path d="M925,1613Q929,1609 933,1611" fill="none" stroke="#6a9a50" stroke-width="1.2" stroke-linecap="round"/>
<path d="M113.3 20.6V245.2H809" fill="none" stroke="#000" stroke-width="3"/>
<path d="M113 198.4H119.5M113 151.6H119.5M113 104.8H119.5M113 58H119.5M156.6 245.2V239.2M248 245.2V239.2M336.8 245.2V239.2M428.2 245.2V239.2M516.7 245.2V239.2M608.5 245.2V239.2M700.1 245.2V239.2M788.6 245.2V239.2" stroke="#000" stroke-width="3"/>
<text x="101.4" y="258.4" class="tl" text-anchor="end">0</text>
<text x="101.4" y="211.6" class="tl" text-anchor="end">25</text>
<text x="101.4" y="164.8" class="tl" text-anchor="end">50</text>
<text x="101.4" y="118" class="tl" text-anchor="end">75</text>
<text x="101.4" y="71.2" class="tl" text-anchor="end">100</text>
<text x="132" y="25.5" class="tt">Carex</text>
<circle cx="138.7" cy="210.8" r="9.2" fill="#ca0020"/>
<path d="M138.7 210.8L203.8 58.5" stroke="#ca0020" stroke-width="3.4" stroke-linecap="round"/>
<path d="M203.8 29.8V87.2" stroke="#ca0020" stroke-width="3.0"/>
<circle cx="203.8" cy="58.5" r="9.2" fill="#ca0020"/>
<path d="M203.8 58.5L263 120.5" stroke="#ca0020" stroke-width="3.4" stroke-linecap="round"/>
<path d="M263 104V137.3" stroke="#ca0020" stroke-width="3.0"/>
<circle cx="263" cy="120.5" r="9.2" fill="#ca0020"/>
<path d="M263 120.5L321.8 151.3" stroke="#ca0020" stroke-width="3.4" stroke-linecap="round"/>
<circle cx="321.8" cy="151.3" r="9.2" fill="#ca0020"/>
<path d="M384 38.2V78.8" stroke="#f4a582" stroke-width="3.0"/>
<circle cx="384" cy="58.5" r="9.2" fill="#f4a582"/>
<path d="M321.8 151.3L386.5 190.8" stroke="#ca0020" stroke-width="3.4" stroke-linecap="round"/>
<path d="M386.5 178V202.7" stroke="#ca0020" stroke-width="3.0"/>
<circle cx="386.5" cy="190.8" r="9.2" fill="#ca0020"/>
<path d="M384 58.5L443 116.8" stroke="#f4a582" stroke-width="3.4" stroke-linecap="round"/>
<path d="M443 96V137.5" stroke="#f4a582" stroke-width="3.0"/>
<circle cx="443" cy="116.8" r="9.2" fill="#f4a582"/>
<path d="M386.5 190.8L446 203.8" stroke="#ca0020" stroke-width="3.4" stroke-linecap="round"/>
<circle cx="446" cy="203.8" r="9.2" fill="#ca0020"/>
<path d="M443 116.8L504.7 124.3" stroke="#f4a582" stroke-width="3.4" stroke-linecap="round"/>
<path d="M504.7 101.4V146.9" stroke="#f4a582" stroke-width="3.0"/>
<circle cx="504.7" cy="124.3" r="9.2" fill="#f4a582"/>
<path d="M446 203.8L507.7 213.1" stroke="#ca0020" stroke-width="3.4" stroke-linecap="round"/>
<circle cx="507.7" cy="213.1" r="9.2" fill="#ca0020"/>
<path d="M557.6 86.6V121" stroke="#0571b0" stroke-width="3.0"/>
<circle cx="557.6" cy="104.4" r="9.2" fill="#0571b0"/>
<path d="M504.7 124.3L569.5 137.6" stroke="#f4a582" stroke-width="3.4" stroke-linecap="round"/>
<path d="M569.5 120.6V155" stroke="#f4a582" stroke-width="3.0"/>
<circle cx="569.5" cy="137.6" r="9.2" fill="#f4a582"/>
<path d="M557.6 104.4L625.7 58.1" stroke="#0571b0" stroke-width="3.4" stroke-linecap="round"/>
<path d="M625.7 45.2V71" stroke="#0571b0" stroke-width="3.0"/>
<circle cx="625.7" cy="58.1" r="9.2" fill="#0571b0"/>
<path d="M507.7 213.1L661.2 223.5" stroke="#ca0020" stroke-width="3.4" stroke-linecap="round"/>
<circle cx="661.2" cy="223.5" r="9.2" fill="#ca0020"/>
<path d="M569.5 137.6L661.2 177.2" stroke="#f4a582" stroke-width="3.4" stroke-linecap="round"/>
<path d="M661.2 159.5V193.1" stroke="#f4a582" stroke-width="3.0"/>
<circle cx="661.2" cy="177.2" r="9.2" fill="#f4a582"/>
<path d="M625.7 58.1L690.8 106.9" stroke="#0571b0" stroke-width="3.4" stroke-linecap="round"/>
<path d="M690.8 86.6V127.3" stroke="#0571b0" stroke-width="3.0"/>
<circle cx="690.8" cy="106.9" r="9.2" fill="#0571b0"/>
<path d="M690.8 106.9L744.1 153.9" stroke="#0571b0" stroke-width="3.4" stroke-linecap="round"/>
<path d="M744.1 132.1V175.4" stroke="#0571b0" stroke-width="3.0"/>
<circle cx="744.1" cy="153.9" r="9.2" fill="#0571b0"/>
<path d="M661.2 223.5L758.2 226.1" stroke="#ca0020" stroke-width="3.4" stroke-linecap="round"/>
<circle cx="758.2" cy="226.1" r="9.2" fill="#ca0020"/>
<path d="M661.2 177.2L758.9 191.3" stroke="#f4a582" stroke-width="3.4" stroke-linecap="round"/>
<path d="M758.9 174.6V210.5" stroke="#f4a582" stroke-width="3.0"/>
<circle cx="758.9" cy="191.3" r="9.2" fill="#f4a582"/>
<path d="M744.1 153.9L782.2 200.5" stroke="#0571b0" stroke-width="3.4" stroke-linecap="round"/>
<path d="M782.2 189V211.6" stroke="#0571b0" stroke-width="3.0"/>
<circle cx="782.2" cy="200.5" r="9.2" fill="#0571b0"/>
<path d="M821 57.8V225.5M813.4 211.9L821 225.5L828.6 211.9" fill="none" stroke="#ca0020" stroke-width="3.2" stroke-linecap="round" stroke-linejoin="round"/>
<path d="M835.6 57.8V191.3M828 177.7L835.6 191.3L843.2 177.7" fill="none" stroke="#f4a582" stroke-width="3.2" stroke-linecap="round" stroke-linejoin="round"/>
<path d="M850.3 57.8V200.3M842.7 186.7L850.3 200.3L857.9 186.7" fill="none" stroke="#0571b0" stroke-width="3.2" stroke-linecap="round" stroke-linejoin="round"/>
<path d="M821 40.3L821.0 35.9M821 40.3L825.2 38.9M821 40.3L823.6 43.9M821 40.3L818.4 43.9M821 40.3L816.8 38.9" stroke="#000" stroke-width="2.4" stroke-linecap="round"/>
<path d="M835.6 40.3L835.6 35.9M835.6 40.3L839.8 38.9M835.6 40.3L838.2 43.9M835.6 40.3L833.0 43.9M835.6 40.3L831.4 38.9" stroke="#000" stroke-width="2.4" stroke-linecap="round"/>
<path d="M850.3 40.3L850.3 35.9M850.3 40.3L854.5 38.9M850.3 40.3L852.9 43.9M850.3 40.3L847.7 43.9M850.3 40.3L846.1 38.9" stroke="#000" stroke-width="2.4" stroke-linecap="round"/>
<path d="M113.3 285.3V509.9H809" fill="none" stroke="#000" stroke-width="3"/>
<path d="M113 463.1H119.5M113 416.3H119.5M113 369.5H119.5M113 322.7H119.5M156.6 509.9V503.9M248 509.9V503.9M336.8 509.9V503.9M428.2 509.9V503.9M516.7 509.9V503.9M608.5 509.9V503.9M700.1 509.9V503.9M788.6 509.9V503.9" stroke="#000" stroke-width="3"/>
<text x="101.4" y="523.1" class="tl" text-anchor="end">0</text>
<text x="101.4" y="476.3" class="tl" text-anchor="end">25</text>
<text x="101.4" y="429.5" class="tl" text-anchor="end">50</text>
<text x="101.4" y="382.7" class="tl" text-anchor="end">75</text>
<text x="101.4" y="335.9" class="tl" text-anchor="end">100</text>
<text x="132" y="289.6" class="tt">Anthoxanthum</text>
<path d="M138.7 426.8V446.7" stroke="#ca0020" stroke-width="3.0"/>
<circle cx="138.7" cy="436.6" r="9.2" fill="#ca0020"/>
<path d="M138.7 436.6L203.8 322.8" stroke="#ca0020" stroke-width="3.4" stroke-linecap="round"/>
<path d="M203.8 301.8V343.8" stroke="#ca0020" stroke-width="3.0"/>
<circle cx="203.8" cy="322.8" r="9.2" fill="#ca0020"/>
<path d="M203.8 322.8L263 374.3" stroke="#ca0020" stroke-width="3.4" stroke-linecap="round"/>
<path d="M263 351.5V396.3" stroke="#ca0020" stroke-width="3.0"/>
<circle cx="263" cy="374.3" r="9.2" fill="#ca0020"/>
<path d="M263 374.3L321.8 352.2" stroke="#ca0020" stroke-width="3.4" stroke-linecap="round"/>
<path d="M321.8 325.3V378.8" stroke="#ca0020" stroke-width="3.0"/>
<circle cx="321.8" cy="352.2" r="9.2" fill="#ca0020"/>
<path d="M384 298.3V347.3" stroke="#f4a582" stroke-width="3.0"/>
<circle cx="384" cy="322.8" r="9.2" fill="#f4a582"/>
<path d="M321.8 352.2L386.5 379.5" stroke="#ca0020" stroke-width="3.4" stroke-linecap="round"/>
<path d="M386.5 356.8V402.3" stroke="#ca0020" stroke-width="3.0"/>
<circle cx="386.5" cy="379.5" r="9.2" fill="#ca0020"/>
<path d="M384 322.8L443 369.2" stroke="#f4a582" stroke-width="3.4" stroke-linecap="round"/>
<path d="M443 347.5V390.2" stroke="#f4a582" stroke-width="3.0"/>
<circle cx="443" cy="369.2" r="9.2" fill="#f4a582"/>
<path d="M386.5 379.5L446 411.8" stroke="#ca0020" stroke-width="3.4" stroke-linecap="round"/>
<path d="M446 400.5V423.3" stroke="#ca0020" stroke-width="3.0"/>
<circle cx="446" cy="411.8" r="9.2" fill="#ca0020"/>
<path d="M443 369.2L504.7 382.3" stroke="#f4a582" stroke-width="3.4" stroke-linecap="round"/>
<path d="M504.7 352.7V407.1" stroke="#f4a582" stroke-width="3.0"/>
<circle cx="504.7" cy="382.3" r="9.2" fill="#f4a582"/>
<path d="M446 411.8L507.7 413.7" stroke="#ca0020" stroke-width="3.4" stroke-linecap="round"/>
<path d="M507.7 402.6V427.4" stroke="#ca0020" stroke-width="3.0"/>
<circle cx="507.7" cy="413.7" r="9.2" fill="#ca0020"/>
<path d="M557.6 390.4V418.2" stroke="#0571b0" stroke-width="3.0"/>
<circle cx="557.6" cy="404.1" r="9.2" fill="#0571b0"/>
<path d="M504.7 382.3L569.5 373.8" stroke="#f4a582" stroke-width="3.4" stroke-linecap="round"/>
<path d="M569.5 355.3V392.3" stroke="#f4a582" stroke-width="3.0"/>
<circle cx="569.5" cy="373.8" r="9.2" fill="#f4a582"/>
<path d="M557.6 404.1L625.7 323.1" stroke="#0571b0" stroke-width="3.4" stroke-linecap="round"/>
<path d="M625.7 295.4V351.6" stroke="#0571b0" stroke-width="3.0"/>
<circle cx="625.7" cy="323.1" r="9.2" fill="#0571b0"/>
<path d="M507.7 413.7L661.2 447" stroke="#ca0020" stroke-width="3.4" stroke-linecap="round"/>
<path d="M661.2 424.8V470" stroke="#ca0020" stroke-width="3.0"/>
<circle cx="661.2" cy="447" r="9.2" fill="#ca0020"/>
<path d="M569.5 373.8L661.2 362.7" stroke="#f4a582" stroke-width="3.4" stroke-linecap="round"/>
<path d="M661.2 346V379.3" stroke="#f4a582" stroke-width="3.0"/>
<circle cx="661.2" cy="362.7" r="9.2" fill="#f4a582"/>
<path d="M625.7 323.1L690.8 377.5" stroke="#0571b0" stroke-width="3.4" stroke-linecap="round"/>
<path d="M690.8 362.7V393" stroke="#0571b0" stroke-width="3.0"/>
<circle cx="690.8" cy="377.5" r="9.2" fill="#0571b0"/>
<path d="M690.8 377.5L744.1 404.5" stroke="#0571b0" stroke-width="3.4" stroke-linecap="round"/>
<path d="M744.1 386.7V422.6" stroke="#0571b0" stroke-width="3.0"/>
<circle cx="744.1" cy="404.5" r="9.2" fill="#0571b0"/>
<path d="M661.2 447L758.2 491.4" stroke="#ca0020" stroke-width="3.4" stroke-linecap="round"/>
<circle cx="758.2" cy="491.4" r="9.2" fill="#ca0020"/>
<path d="M661.2 362.7L758.9 424.8" stroke="#f4a582" stroke-width="3.4" stroke-linecap="round"/>
<path d="M758.9 408.9V440.4" stroke="#f4a582" stroke-width="3.0"/>
<circle cx="758.9" cy="424.8" r="9.2" fill="#f4a582"/>
<path d="M744.1 404.5L782.2 442.2" stroke="#0571b0" stroke-width="3.4" stroke-linecap="round"/>
<path d="M782.2 423.7V460.7" stroke="#0571b0" stroke-width="3.0"/>
<circle cx="782.2" cy="442.2" r="9.2" fill="#0571b0"/>
<path d="M821 322.4V491.5M813.4 477.9L821 491.5L828.6 477.9" fill="none" stroke="#ca0020" stroke-width="3.2" stroke-linecap="round" stroke-linejoin="round"/>
<path d="M835.6 322.4V424M828 410.4L835.6 424L843.2 410.4" fill="none" stroke="#f4a582" stroke-width="3.2" stroke-linecap="round" stroke-linejoin="round"/>
<path d="M850.3 322.4V441.2M842.7 427.6L850.3 441.2L857.9 427.6" fill="none" stroke="#0571b0" stroke-width="3.2" stroke-linecap="round" stroke-linejoin="round"/>
<path d="M821 304.9L821.0 300.5M821 304.9L825.2 303.5M821 304.9L823.6 308.5M821 304.9L818.4 308.5M821 304.9L816.8 303.5" stroke="#000" stroke-width="2.4" stroke-linecap="round"/>
<path d="M835.6 304.9L835.6 300.5M835.6 304.9L839.8 303.5M835.6 304.9L838.2 308.5M835.6 304.9L833.0 308.5M835.6 304.9L831.4 303.5" stroke="#000" stroke-width="2.4" stroke-linecap="round"/>
<path d="M850.3 304.9L850.3 300.5M850.3 304.9L854.5 303.5M850.3 304.9L852.9 308.5M850.3 304.9L847.7 308.5M850.3 304.9L846.1 303.5" stroke="#000" stroke-width="2.4" stroke-linecap="round"/>
<path d="M113.3 550V774.6H809" fill="none" stroke="#000" stroke-width="3"/>
<path d="M113 727.8H119.5M113 681H119.5M113 634.2H119.5M113 587.4H119.5M156.6 774.6V768.6M248 774.6V768.6M336.8 774.6V768.6M428.2 774.6V768.6M516.7 774.6V768.6M608.5 774.6V768.6M700.1 774.6V768.6M788.6 774.6V768.6" stroke="#000" stroke-width="3"/>
<text x="101.4" y="787.8" class="tl" text-anchor="end">0</text>
<text x="101.4" y="741" class="tl" text-anchor="end">25</text>
<text x="101.4" y="694.2" class="tl" text-anchor="end">50</text>
<text x="101.4" y="647.4" class="tl" text-anchor="end">75</text>
<text x="101.4" y="600.6" class="tl" text-anchor="end">100</text>
<text x="132" y="554.4" class="tt">Helictotrichon</text>
<circle cx="138.7" cy="716.3" r="9.2" fill="#ca0020"/>
<path d="M138.7 716.3L203.8 587.8" stroke="#ca0020" stroke-width="3.4" stroke-linecap="round"/>
<path d="M203.8 564.7V610.2" stroke="#ca0020" stroke-width="3.0"/>
<circle cx="203.8" cy="587.8" r="9.2" fill="#ca0020"/>
<path d="M203.8 587.8L263 618.3" stroke="#ca0020" stroke-width="3.4" stroke-linecap="round"/>
<path d="M263 602.5V634" stroke="#ca0020" stroke-width="3.0"/>
<circle cx="263" cy="618.3" r="9.2" fill="#ca0020"/>
<path d="M263 618.3L321.8 620" stroke="#ca0020" stroke-width="3.4" stroke-linecap="round"/>
<path d="M321.8 603.2V636.8" stroke="#ca0020" stroke-width="3.0"/>
<circle cx="321.8" cy="620" r="9.2" fill="#ca0020"/>
<path d="M384 599.7V631.2" stroke="#f4a582" stroke-width="3.0"/>
<circle cx="384" cy="615.5" r="9.2" fill="#f4a582"/>
<path d="M321.8 620L386.5 589.2" stroke="#ca0020" stroke-width="3.4" stroke-linecap="round"/>
<path d="M386.5 556.3V606" stroke="#ca0020" stroke-width="3.0"/>
<circle cx="386.5" cy="589.2" r="9.2" fill="#ca0020"/>
<path d="M384 615.5L443 655.2" stroke="#f4a582" stroke-width="3.4" stroke-linecap="round"/>
<path d="M443 643V667" stroke="#f4a582" stroke-width="3.0"/>
<circle cx="443" cy="655.2" r="9.2" fill="#f4a582"/>
<path d="M386.5 589.2L446 604.3" stroke="#ca0020" stroke-width="3.4" stroke-linecap="round"/>
<path d="M446 587.5V620.5" stroke="#ca0020" stroke-width="3.0"/>
<circle cx="446" cy="604.3" r="9.2" fill="#ca0020"/>
<path d="M443 655.2L504.7 678.7" stroke="#f4a582" stroke-width="3.4" stroke-linecap="round"/>
<path d="M504.7 667.6V690.6" stroke="#f4a582" stroke-width="3.0"/>
<circle cx="504.7" cy="678.7" r="9.2" fill="#f4a582"/>
<path d="M446 604.3L507.7 602.5" stroke="#ca0020" stroke-width="3.4" stroke-linecap="round"/>
<path d="M507.7 591.4V613.6" stroke="#ca0020" stroke-width="3.0"/>
<circle cx="507.7" cy="602.5" r="9.2" fill="#ca0020"/>
<circle cx="557.6" cy="686.9" r="9.2" fill="#0571b0"/>
<path d="M504.7 678.7L569.5 621.4" stroke="#f4a582" stroke-width="3.4" stroke-linecap="round"/>
<path d="M569.5 586.3V656.5" stroke="#f4a582" stroke-width="3.0"/>
<circle cx="569.5" cy="621.4" r="9.2" fill="#f4a582"/>
<path d="M557.6 686.9L625.7 587.7" stroke="#0571b0" stroke-width="3.4" stroke-linecap="round"/>
<circle cx="625.7" cy="587.7" r="9.2" fill="#0571b0"/>
<path d="M507.7 602.5L661.2 631.4" stroke="#ca0020" stroke-width="3.4" stroke-linecap="round"/>
<path d="M661.2 612.9V661" stroke="#ca0020" stroke-width="3.0"/>
<circle cx="661.2" cy="631.4" r="9.2" fill="#ca0020"/>
<path d="M569.5 621.4L661.2 588.1" stroke="#f4a582" stroke-width="3.4" stroke-linecap="round"/>
<path d="M661.2 550.3V624" stroke="#f4a582" stroke-width="3.0"/>
<circle cx="661.2" cy="588.1" r="9.2" fill="#f4a582"/>
<path d="M625.7 587.7L690.8 615.9" stroke="#0571b0" stroke-width="3.4" stroke-linecap="round"/>
<path d="M690.8 592.5V640.6" stroke="#0571b0" stroke-width="3.0"/>
<circle cx="690.8" cy="615.9" r="9.2" fill="#0571b0"/>
<path d="M690.8 615.9L744.1 642.5" stroke="#0571b0" stroke-width="3.4" stroke-linecap="round"/>
<path d="M744.1 618.4V667.6" stroke="#0571b0" stroke-width="3.0"/>
<circle cx="744.1" cy="642.5" r="9.2" fill="#0571b0"/>
<path d="M661.2 631.4L758.8 590.7" stroke="#ca0020" stroke-width="3.4" stroke-linecap="round"/>
<path d="M758.8 550.3V633.2" stroke="#ca0020" stroke-width="3.0"/>
<circle cx="758.8" cy="590.7" r="9.2" fill="#ca0020"/>
<path d="M661.2 588.1L758.9 646.9" stroke="#f4a582" stroke-width="3.4" stroke-linecap="round"/>
<path d="M758.9 630.7V662.8" stroke="#f4a582" stroke-width="3.0"/>
<circle cx="758.9" cy="646.9" r="9.2" fill="#f4a582"/>
<path d="M744.1 642.5L782.2 661" stroke="#0571b0" stroke-width="3.4" stroke-linecap="round"/>
<path d="M782.2 643.2V680.2" stroke="#0571b0" stroke-width="3.0"/>
<circle cx="782.2" cy="661" r="9.2" fill="#0571b0"/>
<path d="M821 586.8V590.9M813.4 577.3L821 590.9L828.6 577.3" fill="none" stroke="#ca0020" stroke-width="3.2" stroke-linecap="round" stroke-linejoin="round"/>
<path d="M835.6 586.8V646.7M828 633.1L835.6 646.7L843.2 633.1" fill="none" stroke="#f4a582" stroke-width="3.2" stroke-linecap="round" stroke-linejoin="round"/>
<path d="M850.3 586.8V661.2M842.7 647.6L850.3 661.2L857.9 647.6" fill="none" stroke="#0571b0" stroke-width="3.2" stroke-linecap="round" stroke-linejoin="round"/>
<path d="M113.3 814.7V1039.4H809" fill="none" stroke="#000" stroke-width="3"/>
<path d="M113 992.6H119.5M113 945.8H119.5M113 899H119.5M113 852.2H119.5M156.6 1039.4V1033.4M248 1039.4V1033.4M336.8 1039.4V1033.4M428.2 1039.4V1033.4M516.7 1039.4V1033.4M608.5 1039.4V1033.4M700.1 1039.4V1033.4M788.6 1039.4V1033.4" stroke="#000" stroke-width="3"/>
<text x="101.4" y="1052.6" class="tl" text-anchor="end">0</text>
<text x="101.4" y="1005.8" class="tl" text-anchor="end">25</text>
<text x="101.4" y="959" class="tl" text-anchor="end">50</text>
<text x="101.4" y="912.2" class="tl" text-anchor="end">75</text>
<text x="101.4" y="865.4" class="tl" text-anchor="end">100</text>
<text x="132" y="818.8" class="tt">Leontodon</text>
<path d="M138.7 962.8V983.6" stroke="#ca0020" stroke-width="3.0"/>
<circle cx="138.7" cy="973.2" r="9.2" fill="#ca0020"/>
<path d="M138.7 973.2L203.8 852.5" stroke="#ca0020" stroke-width="3.4" stroke-linecap="round"/>
<path d="M203.8 836V868.2" stroke="#ca0020" stroke-width="3.0"/>
<circle cx="203.8" cy="852.5" r="9.2" fill="#ca0020"/>
<path d="M203.8 852.5L263 885.7" stroke="#ca0020" stroke-width="3.4" stroke-linecap="round"/>
<path d="M263 868.2V903.2" stroke="#ca0020" stroke-width="3.0"/>
<circle cx="263" cy="885.7" r="9.2" fill="#ca0020"/>
<path d="M263 885.7L321.8 934" stroke="#ca0020" stroke-width="3.4" stroke-linecap="round"/>
<path d="M321.8 918.3V949.8" stroke="#ca0020" stroke-width="3.0"/>
<circle cx="321.8" cy="934" r="9.2" fill="#ca0020"/>
<path d="M384 842.3V862.3" stroke="#f4a582" stroke-width="3.0"/>
<circle cx="384" cy="852.5" r="9.2" fill="#f4a582"/>
<path d="M321.8 934L386.5 982" stroke="#ca0020" stroke-width="3.4" stroke-linecap="round"/>
<path d="M386.5 968.3V995.3" stroke="#ca0020" stroke-width="3.0"/>
<circle cx="386.5" cy="982" r="9.2" fill="#ca0020"/>
<path d="M384 852.5L443 899.9" stroke="#f4a582" stroke-width="3.4" stroke-linecap="round"/>
<path d="M443 890.3V908.8" stroke="#f4a582" stroke-width="3.0"/>
<circle cx="443" cy="899.9" r="9.2" fill="#f4a582"/>
<path d="M386.5 982L446 1010.3" stroke="#ca0020" stroke-width="3.4" stroke-linecap="round"/>
<circle cx="446" cy="1010.3" r="9.2" fill="#ca0020"/>
<path d="M443 899.9L504.7 929.7" stroke="#f4a582" stroke-width="3.4" stroke-linecap="round"/>
<circle cx="504.7" cy="929.7" r="9.2" fill="#f4a582"/>
<path d="M446 1010.3L507.7 1014" stroke="#ca0020" stroke-width="3.4" stroke-linecap="round"/>
<circle cx="507.7" cy="1014" r="9.2" fill="#ca0020"/>
<path d="M557.6 889V910.4" stroke="#0571b0" stroke-width="3.0"/>
<circle cx="557.6" cy="900.1" r="9.2" fill="#0571b0"/>
<path d="M504.7 929.7L569.5 967.4" stroke="#f4a582" stroke-width="3.4" stroke-linecap="round"/>
<circle cx="569.5" cy="967.4" r="9.2" fill="#f4a582"/>
<path d="M557.6 900.1L625.7 861.2" stroke="#0571b0" stroke-width="3.4" stroke-linecap="round"/>
<path d="M625.7 841.6V880.9" stroke="#0571b0" stroke-width="3.0"/>
<circle cx="625.7" cy="861.2" r="9.2" fill="#0571b0"/>
<path d="M507.7 1014L661.2 958" stroke="#ca0020" stroke-width="3.4" stroke-linecap="round"/>
<circle cx="661.2" cy="958" r="9.2" fill="#ca0020"/>
<path d="M569.5 967.4L661.2 964.3" stroke="#f4a582" stroke-width="3.4" stroke-linecap="round"/>
<path d="M661.2 950.5V977.5" stroke="#f4a582" stroke-width="3.0"/>
<circle cx="661.2" cy="964.3" r="9.2" fill="#f4a582"/>
<path d="M625.7 861.2L690.8 852.7" stroke="#0571b0" stroke-width="3.4" stroke-linecap="round"/>
<path d="M690.8 828V877.2" stroke="#0571b0" stroke-width="3.0"/>
<circle cx="690.8" cy="852.7" r="9.2" fill="#0571b0"/>
<path d="M690.8 852.7L744.1 902" stroke="#0571b0" stroke-width="3.4" stroke-linecap="round"/>
<path d="M744.1 880.9V923" stroke="#0571b0" stroke-width="3.0"/>
<circle cx="744.1" cy="902" r="9.2" fill="#0571b0"/>
<path d="M661.2 958L758.2 951.1" stroke="#ca0020" stroke-width="3.4" stroke-linecap="round"/>
<path d="M758.2 940.8V962.2" stroke="#ca0020" stroke-width="3.0"/>
<circle cx="758.2" cy="951.1" r="9.2" fill="#ca0020"/>
<path d="M661.2 964.3L758.9 985.2" stroke="#f4a582" stroke-width="3.4" stroke-linecap="round"/>
<circle cx="758.9" cy="985.2" r="9.2" fill="#f4a582"/>
<path d="M744.1 902L782.2 948.2" stroke="#0571b0" stroke-width="3.4" stroke-linecap="round"/>
<path d="M782.2 932.6V964.8" stroke="#0571b0" stroke-width="3.0"/>
<circle cx="782.2" cy="948.2" r="9.2" fill="#0571b0"/>
<path d="M821 851.8V950.4M813.4 936.8L821 950.4L828.6 936.8" fill="none" stroke="#ca0020" stroke-width="3.2" stroke-linecap="round" stroke-linejoin="round"/>
<path d="M835.6 851.8V984.8M828 971.2L835.6 984.8L843.2 971.2" fill="none" stroke="#f4a582" stroke-width="3.2" stroke-linecap="round" stroke-linejoin="round"/>
<path d="M850.3 851.8V948M842.7 934.4L850.3 948L857.9 934.4" fill="none" stroke="#0571b0" stroke-width="3.2" stroke-linecap="round" stroke-linejoin="round"/>
<path d="M821 834.3L821.0 829.9M821 834.3L825.2 832.9M821 834.3L823.6 837.9M821 834.3L818.4 837.9M821 834.3L816.8 832.9" stroke="#000" stroke-width="2.4" stroke-linecap="round"/>
<path d="M835.6 834.3L835.6 829.9M835.6 834.3L839.8 832.9M835.6 834.3L838.2 837.9M835.6 834.3L833.0 837.9M835.6 834.3L831.4 832.9" stroke="#000" stroke-width="2.4" stroke-linecap="round"/>
<path d="M850.3 834.3L850.3 829.9M850.3 834.3L854.5 832.9M850.3 834.3L852.9 837.9M850.3 834.3L847.7 837.9M850.3 834.3L846.1 832.9" stroke="#000" stroke-width="2.4" stroke-linecap="round"/>
<path d="M113.3 1079.4V1304.1H809" fill="none" stroke="#000" stroke-width="3"/>
<path d="M113 1257.3H119.5M113 1210.5H119.5M113 1163.7H119.5M113 1116.9H119.5M187.5 1304.1V1298.1M286.5 1304.1V1298.1M388 1304.1V1298.1M486.3 1304.1V1298.1M588.5 1304.1V1298.1M690.4 1304.1V1298.1M788.6 1304.1V1298.1" stroke="#000" stroke-width="3"/>
<text x="101.4" y="1317.3" class="tl" text-anchor="end">0</text>
<text x="101.4" y="1270.5" class="tl" text-anchor="end">25</text>
<text x="101.4" y="1223.7" class="tl" text-anchor="end">50</text>
<text x="101.4" y="1176.9" class="tl" text-anchor="end">75</text>
<text x="101.4" y="1130.1" class="tl" text-anchor="end">100</text>
<text x="128.8" y="1078.6" class="tt">Ligusticum</text>
<path d="M138.7 1118.5V1159.8" stroke="#ca0020" stroke-width="3.0"/>
<circle cx="138.7" cy="1138.8" r="9.2" fill="#ca0020"/>
<path d="M138.7 1138.8L204.5 1116.8" stroke="#ca0020" stroke-width="3.4" stroke-linecap="round"/>
<path d="M204.5 1086.3V1148.3" stroke="#ca0020" stroke-width="3.0"/>
<circle cx="204.5" cy="1116.8" r="9.2" fill="#ca0020"/>
<path d="M204.5 1116.8L270 1215.8" stroke="#ca0020" stroke-width="3.4" stroke-linecap="round"/>
<path d="M270 1184.3V1247.3" stroke="#ca0020" stroke-width="3.0"/>
<circle cx="270" cy="1215.8" r="9.2" fill="#ca0020"/>
<path d="M339.3 1104.5V1129.7" stroke="#f4a582" stroke-width="3.0"/>
<circle cx="339.3" cy="1116.8" r="9.2" fill="#f4a582"/>
<path d="M270 1215.8L342 1282.3" stroke="#ca0020" stroke-width="3.4" stroke-linecap="round"/>
<path d="M342 1271.8V1293.5" stroke="#ca0020" stroke-width="3.0"/>
<circle cx="342" cy="1282.3" r="9.2" fill="#ca0020"/>
<path d="M339.3 1116.8L405 1124.5" stroke="#f4a582" stroke-width="3.4" stroke-linecap="round"/>
<path d="M405 1100.3V1149.3" stroke="#f4a582" stroke-width="3.0"/>
<circle cx="405" cy="1124.5" r="9.2" fill="#f4a582"/>
<path d="M342 1282.3L407.5 1289" stroke="#ca0020" stroke-width="3.4" stroke-linecap="round"/>
<circle cx="407.5" cy="1289" r="9.2" fill="#ca0020"/>
<path d="M405 1124.5L473.3 1224.3" stroke="#f4a582" stroke-width="3.4" stroke-linecap="round"/>
<path d="M473.3 1208.7V1239.8" stroke="#f4a582" stroke-width="3.0"/>
<circle cx="473.3" cy="1224.3" r="9.2" fill="#f4a582"/>
<path d="M542.8 1151V1201.3" stroke="#0571b0" stroke-width="3.0"/>
<circle cx="542.8" cy="1176.2" r="9.2" fill="#0571b0"/>
<path d="M473.3 1224.3L545.4 1263.9" stroke="#f4a582" stroke-width="3.4" stroke-linecap="round"/>
<path d="M545.4 1253.1V1274.2" stroke="#f4a582" stroke-width="3.0"/>
<circle cx="545.4" cy="1263.9" r="9.2" fill="#f4a582"/>
<path d="M542.8 1176.2L615.1 1117" stroke="#0571b0" stroke-width="3.4" stroke-linecap="round"/>
<path d="M615.1 1080V1157.7" stroke="#0571b0" stroke-width="3.0"/>
<circle cx="615.1" cy="1117" r="9.2" fill="#0571b0"/>
<path d="M545.4 1263.9L647.9 1294.6" stroke="#f4a582" stroke-width="3.4" stroke-linecap="round"/>
<circle cx="647.9" cy="1294.6" r="9.2" fill="#f4a582"/>
<path d="M615.1 1117L684.2 1218.7" stroke="#0571b0" stroke-width="3.4" stroke-linecap="round"/>
<circle cx="684.2" cy="1218.7" r="9.2" fill="#0571b0"/>
<path d="M684.2 1218.7L739.7 1281.6" stroke="#0571b0" stroke-width="3.4" stroke-linecap="round"/>
<path d="M739.7 1269.4V1294.6" stroke="#0571b0" stroke-width="3.0"/>
<circle cx="739.7" cy="1281.6" r="9.2" fill="#0571b0"/>
<path d="M647.9 1294.6L756.3 1302.7" stroke="#f4a582" stroke-width="3.4" stroke-linecap="round"/>
<circle cx="756.3" cy="1302.7" r="9.2" fill="#f4a582"/>
<path d="M739.7 1281.6L782.2 1301.2" stroke="#0571b0" stroke-width="3.4" stroke-linecap="round"/>
<circle cx="782.2" cy="1301.2" r="9.2" fill="#0571b0"/>
<path d="M825.2 1116.8V1303.8M817.6 1290.2L825.2 1303.8L832.8 1290.2" fill="none" stroke="#ca0020" stroke-width="3.2" stroke-linecap="round" stroke-linejoin="round"/>
<path d="M841.5 1116.8V1303.8M833.9 1290.2L841.5 1303.8L849.1 1290.2" fill="none" stroke="#f4a582" stroke-width="3.2" stroke-linecap="round" stroke-linejoin="round"/>
<path d="M858 1116.8V1300.8M850.4 1287.2L858 1300.8L865.6 1287.2" fill="none" stroke="#0571b0" stroke-width="3.2" stroke-linecap="round" stroke-linejoin="round"/>
<path d="M825.2 1099.3L825.2 1094.9M825.2 1099.3L829.4 1097.9M825.2 1099.3L827.8 1102.9M825.2 1099.3L822.6 1102.9M825.2 1099.3L821.0 1097.9" stroke="#000" stroke-width="2.4" stroke-linecap="round"/>
<path d="M841.5 1099.3L841.5 1094.9M841.5 1099.3L845.7 1097.9M841.5 1099.3L844.1 1102.9M841.5 1099.3L838.9 1102.9M841.5 1099.3L837.3 1097.9" stroke="#000" stroke-width="2.4" stroke-linecap="round"/>
<path d="M858 1099.3L858.0 1094.9M858 1099.3L862.2 1097.9M858 1099.3L860.6 1102.9M858 1099.3L855.4 1102.9M858 1099.3L853.8 1097.9" stroke="#000" stroke-width="2.4" stroke-linecap="round"/>
<path d="M113.3 1344.2V1568.8H809" fill="none" stroke="#000" stroke-width="3"/>
<path d="M113 1522H119.5M113 1475.2H119.5M113 1428.4H119.5M113 1381.6H119.5M156.6 1568.8V1562.8M248 1568.8V1562.8M336.8 1568.8V1562.8M428.2 1568.8V1562.8M516.7 1568.8V1562.8M608.5 1568.8V1562.8M700.1 1568.8V1562.8M788.6 1568.8V1562.8" stroke="#000" stroke-width="3"/>
<text x="101.4" y="1582" class="tl" text-anchor="end">0</text>
<text x="101.4" y="1535.2" class="tl" text-anchor="end">25</text>
<text x="101.4" y="1488.4" class="tl" text-anchor="end">50</text>
<text x="101.4" y="1441.6" class="tl" text-anchor="end">75</text>
<text x="101.4" y="1394.8" class="tl" text-anchor="end">100</text>
<text x="132" y="1348.4" class="tt">Potentilla</text>
<path d="M138.7 1420.3V1446.5" stroke="#ca0020" stroke-width="3.0"/>
<circle cx="138.7" cy="1433.2" r="9.2" fill="#ca0020"/>
<path d="M138.7 1433.2L203.8 1381.8" stroke="#ca0020" stroke-width="3.4" stroke-linecap="round"/>
<path d="M203.8 1359.7V1404.5" stroke="#ca0020" stroke-width="3.0"/>
<circle cx="203.8" cy="1381.8" r="9.2" fill="#ca0020"/>
<path d="M203.8 1381.8L263 1401" stroke="#ca0020" stroke-width="3.4" stroke-linecap="round"/>
<path d="M263 1371.3V1430.8" stroke="#ca0020" stroke-width="3.0"/>
<circle cx="263" cy="1401" r="9.2" fill="#ca0020"/>
<path d="M263 1401L321.8 1405.2" stroke="#ca0020" stroke-width="3.4" stroke-linecap="round"/>
<path d="M321.8 1386.3V1424.8" stroke="#ca0020" stroke-width="3.0"/>
<circle cx="321.8" cy="1405.2" r="9.2" fill="#ca0020"/>
<path d="M384 1361.8V1401" stroke="#f4a582" stroke-width="3.0"/>
<circle cx="384" cy="1381.8" r="9.2" fill="#f4a582"/>
<path d="M321.8 1405.2L386.5 1414.3" stroke="#ca0020" stroke-width="3.4" stroke-linecap="round"/>
<path d="M386.5 1390.5V1447.2" stroke="#ca0020" stroke-width="3.0"/>
<circle cx="386.5" cy="1414.3" r="9.2" fill="#ca0020"/>
<path d="M384 1381.8L443 1439" stroke="#f4a582" stroke-width="3.4" stroke-linecap="round"/>
<path d="M443 1418.4V1458.8" stroke="#f4a582" stroke-width="3.0"/>
<circle cx="443" cy="1439" r="9.2" fill="#f4a582"/>
<path d="M386.5 1414.3L446 1477.7" stroke="#ca0020" stroke-width="3.4" stroke-linecap="round"/>
<path d="M446 1457.7V1498" stroke="#ca0020" stroke-width="3.0"/>
<circle cx="446" cy="1477.7" r="9.2" fill="#ca0020"/>
<path d="M443 1439L504.7 1469" stroke="#f4a582" stroke-width="3.4" stroke-linecap="round"/>
<circle cx="504.7" cy="1469" r="9.2" fill="#f4a582"/>
<path d="M446 1477.7L507.7 1470" stroke="#ca0020" stroke-width="3.4" stroke-linecap="round"/>
<path d="M507.7 1455.2V1483.7" stroke="#ca0020" stroke-width="3.0"/>
<circle cx="507.7" cy="1470" r="9.2" fill="#ca0020"/>
<circle cx="557.6" cy="1456.7" r="9.2" fill="#0571b0"/>
<path d="M504.7 1469L569.5 1453" stroke="#f4a582" stroke-width="3.4" stroke-linecap="round"/>
<path d="M569.5 1433V1471.5" stroke="#f4a582" stroke-width="3.0"/>
<circle cx="569.5" cy="1453" r="9.2" fill="#f4a582"/>
<path d="M557.6 1456.7L625.7 1382" stroke="#0571b0" stroke-width="3.4" stroke-linecap="round"/>
<path d="M625.7 1359.1V1404.2" stroke="#0571b0" stroke-width="3.0"/>
<circle cx="625.7" cy="1382" r="9.2" fill="#0571b0"/>
<path d="M507.7 1470L661.2 1416" stroke="#ca0020" stroke-width="3.4" stroke-linecap="round"/>
<circle cx="661.2" cy="1416" r="9.2" fill="#ca0020"/>
<path d="M569.5 1453L661.2 1426.4" stroke="#f4a582" stroke-width="3.4" stroke-linecap="round"/>
<path d="M661.2 1396.8V1456.7" stroke="#f4a582" stroke-width="3.0"/>
<circle cx="661.2" cy="1426.4" r="9.2" fill="#f4a582"/>
<path d="M625.7 1382L690.8 1404.9" stroke="#0571b0" stroke-width="3.4" stroke-linecap="round"/>
<path d="M690.8 1379V1430.1" stroke="#0571b0" stroke-width="3.0"/>
<circle cx="690.8" cy="1404.9" r="9.2" fill="#0571b0"/>
<path d="M690.8 1404.9L744.1 1459" stroke="#0571b0" stroke-width="3.4" stroke-linecap="round"/>
<path d="M744.1 1444.1V1475.2" stroke="#0571b0" stroke-width="3.0"/>
<circle cx="744.1" cy="1459" r="9.2" fill="#0571b0"/>
<path d="M661.2 1416L758.2 1417.9" stroke="#ca0020" stroke-width="3.4" stroke-linecap="round"/>
<path d="M758.2 1393.1V1441.9" stroke="#ca0020" stroke-width="3.0"/>
<circle cx="758.2" cy="1417.9" r="9.2" fill="#ca0020"/>
<path d="M661.2 1426.4L758.9 1473.7" stroke="#f4a582" stroke-width="3.4" stroke-linecap="round"/>
<path d="M758.9 1457.8V1489.3" stroke="#f4a582" stroke-width="3.0"/>
<circle cx="758.9" cy="1473.7" r="9.2" fill="#f4a582"/>
<path d="M744.1 1459L782.2 1469" stroke="#0571b0" stroke-width="3.4" stroke-linecap="round"/>
<path d="M782.2 1451.5V1486.3" stroke="#0571b0" stroke-width="3.0"/>
<circle cx="782.2" cy="1469" r="9.2" fill="#0571b0"/>
<path d="M821 1381.2V1417.2M813.4 1403.6L821 1417.2L828.6 1403.6" fill="none" stroke="#ca0020" stroke-width="3.2" stroke-linecap="round" stroke-linejoin="round"/>
<path d="M835.6 1381.2V1473.1M828 1459.5L835.6 1473.1L843.2 1459.5" fill="none" stroke="#f4a582" stroke-width="3.2" stroke-linecap="round" stroke-linejoin="round"/>
<path d="M850.3 1381.2V1468.5M842.7 1454.9L850.3 1468.5L857.9 1454.9" fill="none" stroke="#0571b0" stroke-width="3.2" stroke-linecap="round" stroke-linejoin="round"/>
<path d="M835.6 1363.7L835.6 1359.3M835.6 1363.7L839.8 1362.3M835.6 1363.7L838.2 1367.3M835.6 1363.7L833.0 1367.3M835.6 1363.7L831.4 1362.3" stroke="#000" stroke-width="2.4" stroke-linecap="round"/>
<path d="M850.3 1363.7L850.3 1359.3M850.3 1363.7L854.5 1362.3M850.3 1363.7L852.9 1367.3M850.3 1363.7L847.7 1367.3M850.3 1363.7L846.1 1362.3" stroke="#000" stroke-width="2.4" stroke-linecap="round"/>
<path d="M113.3 1608.9V1833.5H809" fill="none" stroke="#000" stroke-width="3"/>
<path d="M113 1786.7H119.5M113 1739.9H119.5M113 1693.1H119.5M113 1646.3H119.5M156.6 1833.5V1827.5M248 1833.5V1827.5M336.8 1833.5V1827.5M428.2 1833.5V1827.5M516.7 1833.5V1827.5M608.5 1833.5V1827.5M700.1 1833.5V1827.5M788.6 1833.5V1827.5" stroke="#000" stroke-width="3"/>
<text x="101.4" y="1846.7" class="tl" text-anchor="end">0</text>
<text x="101.4" y="1799.9" class="tl" text-anchor="end">25</text>
<text x="101.4" y="1753.1" class="tl" text-anchor="end">50</text>
<text x="101.4" y="1706.3" class="tl" text-anchor="end">75</text>
<text x="101.4" y="1659.5" class="tl" text-anchor="end">100</text>
<text x="132" y="1613.2" class="tt">Soldanella</text>
<path d="M138.7 1664.3V1722.7" stroke="#ca0020" stroke-width="3.0"/>
<circle cx="138.7" cy="1693.3" r="9.2" fill="#ca0020"/>
<path d="M138.7 1693.3L203.8 1655.5" stroke="#ca0020" stroke-width="3.4" stroke-linecap="round"/>
<path d="M203.8 1622.3V1689.8" stroke="#ca0020" stroke-width="3.0"/>
<circle cx="203.8" cy="1655.5" r="9.2" fill="#ca0020"/>
<path d="M203.8 1655.5L263 1646.8" stroke="#ca0020" stroke-width="3.4" stroke-linecap="round"/>
<path d="M263 1609.3V1685.3" stroke="#ca0020" stroke-width="3.0"/>
<circle cx="263" cy="1646.8" r="9.2" fill="#ca0020"/>
<path d="M263 1646.8L321.8 1664.3" stroke="#ca0020" stroke-width="3.4" stroke-linecap="round"/>
<path d="M321.8 1613.8V1715.7" stroke="#ca0020" stroke-width="3.0"/>
<circle cx="321.8" cy="1664.3" r="9.2" fill="#ca0020"/>
<path d="M384 1609.3V1693.3" stroke="#f4a582" stroke-width="3.0"/>
<circle cx="384" cy="1646.8" r="9.2" fill="#f4a582"/>
<path d="M321.8 1664.3L386.5 1730" stroke="#ca0020" stroke-width="3.4" stroke-linecap="round"/>
<path d="M386.5 1704.5V1755.3" stroke="#ca0020" stroke-width="3.0"/>
<circle cx="386.5" cy="1730" r="9.2" fill="#ca0020"/>
<path d="M384 1646.8L443 1668" stroke="#f4a582" stroke-width="3.4" stroke-linecap="round"/>
<path d="M443 1636.5V1700" stroke="#f4a582" stroke-width="3.0"/>
<circle cx="443" cy="1668" r="9.2" fill="#f4a582"/>
<path d="M386.5 1730L446 1763" stroke="#ca0020" stroke-width="3.4" stroke-linecap="round"/>
<path d="M446 1737V1790.4" stroke="#ca0020" stroke-width="3.0"/>
<circle cx="446" cy="1763" r="9.2" fill="#ca0020"/>
<path d="M443 1668L504.7 1690.7" stroke="#f4a582" stroke-width="3.4" stroke-linecap="round"/>
<path d="M504.7 1667.3V1714.3" stroke="#f4a582" stroke-width="3.0"/>
<circle cx="504.7" cy="1690.7" r="9.2" fill="#f4a582"/>
<path d="M446 1763L507.7 1803.1" stroke="#ca0020" stroke-width="3.4" stroke-linecap="round"/>
<path d="M507.7 1791.3V1815.3" stroke="#ca0020" stroke-width="3.0"/>
<circle cx="507.7" cy="1803.1" r="9.2" fill="#ca0020"/>
<path d="M557.6 1693.2V1738.7" stroke="#0571b0" stroke-width="3.0"/>
<circle cx="557.6" cy="1715.4" r="9.2" fill="#0571b0"/>
<path d="M504.7 1690.7L569.5 1718.4" stroke="#f4a582" stroke-width="3.4" stroke-linecap="round"/>
<path d="M569.5 1695.8V1741.3" stroke="#f4a582" stroke-width="3.0"/>
<circle cx="569.5" cy="1718.4" r="9.2" fill="#f4a582"/>
<path d="M557.6 1715.4L625.7 1678.4" stroke="#0571b0" stroke-width="3.4" stroke-linecap="round"/>
<path d="M625.7 1647.7V1709.1" stroke="#0571b0" stroke-width="3.0"/>
<circle cx="625.7" cy="1678.4" r="9.2" fill="#0571b0"/>
<path d="M507.7 1803.1L661.2 1740.2" stroke="#ca0020" stroke-width="3.4" stroke-linecap="round"/>
<path d="M661.2 1720.2V1763.5" stroke="#ca0020" stroke-width="3.0"/>
<circle cx="661.2" cy="1740.2" r="9.2" fill="#ca0020"/>
<path d="M569.5 1718.4L661.2 1679.6" stroke="#f4a582" stroke-width="3.4" stroke-linecap="round"/>
<path d="M661.2 1641.4V1720.2" stroke="#f4a582" stroke-width="3.0"/>
<circle cx="661.2" cy="1679.6" r="9.2" fill="#f4a582"/>
<path d="M625.7 1678.4L690.8 1646.3" stroke="#0571b0" stroke-width="3.4" stroke-linecap="round"/>
<path d="M690.8 1604V1685.8" stroke="#0571b0" stroke-width="3.0"/>
<circle cx="690.8" cy="1646.3" r="9.2" fill="#0571b0"/>
<path d="M690.8 1646.3L744.1 1660" stroke="#0571b0" stroke-width="3.4" stroke-linecap="round"/>
<path d="M744.1 1637.7V1682.1" stroke="#0571b0" stroke-width="3.0"/>
<circle cx="744.1" cy="1660" r="9.2" fill="#0571b0"/>
<path d="M661.2 1740.2L758.2 1658.1" stroke="#ca0020" stroke-width="3.4" stroke-linecap="round"/>
<path d="M758.2 1647V1700.6" stroke="#ca0020" stroke-width="3.0"/>
<circle cx="758.2" cy="1658.1" r="9.2" fill="#ca0020"/>
<path d="M661.2 1679.6L758.9 1650" stroke="#f4a582" stroke-width="3.4" stroke-linecap="round"/>
<path d="M758.9 1611.8V1695.1" stroke="#f4a582" stroke-width="3.0"/>
<circle cx="758.9" cy="1650" r="9.2" fill="#f4a582"/>
<path d="M744.1 1660L782.2 1668.5" stroke="#0571b0" stroke-width="3.4" stroke-linecap="round"/>
<path d="M782.2 1651.4V1687" stroke="#0571b0" stroke-width="3.0"/>
<circle cx="782.2" cy="1668.5" r="9.2" fill="#0571b0"/>
<path d="M821 1646.2V1658.2M813.4 1644.6L821 1658.2L828.6 1644.6" fill="none" stroke="#ca0020" stroke-width="3.2" stroke-linecap="round" stroke-linejoin="round"/>
<path d="M835.6 1646.2V1649.6M828 1636L835.6 1649.6L843.2 1636" fill="none" stroke="#f4a582" stroke-width="3.2" stroke-linecap="round" stroke-linejoin="round"/>
<path d="M850.3 1646.2V1668.7M842.7 1655.1L850.3 1668.7L857.9 1655.1" fill="none" stroke="#0571b0" stroke-width="3.2" stroke-linecap="round" stroke-linejoin="round"/>
<text x="229" y="67" class="tl" fill="#ca0020">+4m</text>
<text x="418" y="67" class="tl" fill="#f4a582">+2m</text>
<text x="654" y="67" class="tl" fill="#0571b0">field</text>
<text x="156.6" y="1866.4" class="tl" text-anchor="middle">Mar</text>
<text x="248" y="1866.4" class="tl" text-anchor="middle">Apr</text>
<text x="336.8" y="1866.4" class="tl" text-anchor="middle">May</text>
<text x="428.2" y="1866.4" class="tl" text-anchor="middle">Jun</text>
<text x="516.7" y="1866.4" class="tl" text-anchor="middle">Jul</text>
<text x="608.5" y="1866.4" class="tl" text-anchor="middle">Aug</text>
<text x="700.1" y="1866.4" class="tl" text-anchor="middle">Sep</text>
<text x="788.6" y="1866.4" class="tl" text-anchor="middle">Oct</text>
<text transform="translate(31.2 869.5) rotate(-90)" class="yl" text-anchor="middle">Photosynthetic vigour index (scaled %)</text>
</svg>
</body></html>
